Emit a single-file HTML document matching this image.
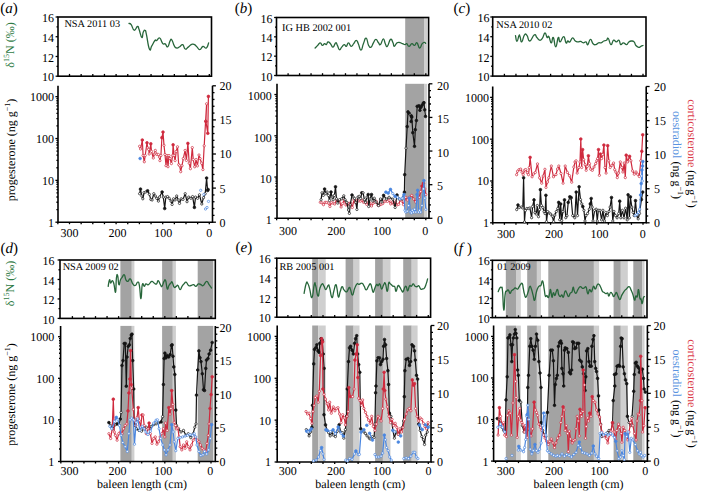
<!DOCTYPE html>
<html><head><meta charset="utf-8"><style>
html,body{margin:0;padding:0;background:#fff;width:701px;height:492px;overflow:hidden}
svg{display:block}
text{font-family:"Liberation Serif",serif;text-rendering:geometricPrecision}
</style></head><body>
<svg width="701" height="492" viewBox="0 0 701 492">
<rect x="405.2" y="17.5" width="19.3" height="58" fill="#a3a3a3"/>
<rect x="405.2" y="83.8" width="19.3" height="134.5" fill="#a3a3a3"/>
<rect x="424.5" y="17.5" width="2.7" height="58" fill="#cfcfcf"/>
<rect x="424.5" y="83.8" width="2.7" height="134.5" fill="#cfcfcf"/>
<rect x="120.4" y="260" width="11.4" height="58.4" fill="#a3a3a3"/>
<rect x="120.4" y="325.9" width="11.4" height="135.6" fill="#a3a3a3"/>
<rect x="131.8" y="260" width="2.6" height="58.4" fill="#cfcfcf"/>
<rect x="131.8" y="325.9" width="2.6" height="135.6" fill="#cfcfcf"/>
<rect x="162.1" y="260" width="10.7" height="58.4" fill="#a3a3a3"/>
<rect x="162.1" y="325.9" width="10.7" height="135.6" fill="#a3a3a3"/>
<rect x="172.8" y="260" width="3.1" height="58.4" fill="#cfcfcf"/>
<rect x="172.8" y="325.9" width="3.1" height="135.6" fill="#cfcfcf"/>
<rect x="197.7" y="260" width="15.6" height="58.4" fill="#a3a3a3"/>
<rect x="197.7" y="325.9" width="15.6" height="135.6" fill="#a3a3a3"/>
<rect x="312.2" y="258.2" width="6" height="59" fill="#a3a3a3"/>
<rect x="312.2" y="325.5" width="6" height="136.5" fill="#a3a3a3"/>
<rect x="318.2" y="258.2" width="7.5" height="59" fill="#cfcfcf"/>
<rect x="318.2" y="325.5" width="7.5" height="136.5" fill="#cfcfcf"/>
<rect x="345.6" y="258.2" width="8" height="59" fill="#a3a3a3"/>
<rect x="345.6" y="325.5" width="8" height="136.5" fill="#a3a3a3"/>
<rect x="353.6" y="258.2" width="5.9" height="59" fill="#cfcfcf"/>
<rect x="353.6" y="325.5" width="5.9" height="136.5" fill="#cfcfcf"/>
<rect x="375.1" y="258.2" width="7.8" height="59" fill="#a3a3a3"/>
<rect x="375.1" y="325.5" width="7.8" height="136.5" fill="#a3a3a3"/>
<rect x="382.9" y="258.2" width="7.6" height="59" fill="#cfcfcf"/>
<rect x="382.9" y="325.5" width="7.6" height="136.5" fill="#cfcfcf"/>
<rect x="403.2" y="258.2" width="8.5" height="59" fill="#a3a3a3"/>
<rect x="403.2" y="325.5" width="8.5" height="136.5" fill="#a3a3a3"/>
<rect x="411.7" y="258.2" width="5.9" height="59" fill="#cfcfcf"/>
<rect x="411.7" y="325.5" width="5.9" height="136.5" fill="#cfcfcf"/>
<rect x="505.8" y="260.3" width="10.2" height="57.3" fill="#a3a3a3"/>
<rect x="505.8" y="325.6" width="10.2" height="135.5" fill="#a3a3a3"/>
<rect x="516" y="260.3" width="4.8" height="57.3" fill="#cfcfcf"/>
<rect x="516" y="325.6" width="4.8" height="135.5" fill="#cfcfcf"/>
<rect x="527.2" y="260.3" width="9.7" height="57.3" fill="#a3a3a3"/>
<rect x="527.2" y="325.6" width="9.7" height="135.5" fill="#a3a3a3"/>
<rect x="536.9" y="260.3" width="4.1" height="57.3" fill="#cfcfcf"/>
<rect x="536.9" y="325.6" width="4.1" height="135.5" fill="#cfcfcf"/>
<rect x="548.3" y="260.3" width="45.6" height="57.3" fill="#a3a3a3"/>
<rect x="548.3" y="325.6" width="45.6" height="135.5" fill="#a3a3a3"/>
<rect x="593.9" y="260.3" width="5.2" height="57.3" fill="#cfcfcf"/>
<rect x="593.9" y="325.6" width="5.2" height="135.5" fill="#cfcfcf"/>
<rect x="613.6" y="260.3" width="7.2" height="57.3" fill="#a3a3a3"/>
<rect x="613.6" y="325.6" width="7.2" height="135.5" fill="#a3a3a3"/>
<rect x="620.8" y="260.3" width="7" height="57.3" fill="#cfcfcf"/>
<rect x="620.8" y="325.6" width="7" height="135.5" fill="#cfcfcf"/>
<rect x="633.3" y="260.3" width="8.9" height="57.3" fill="#a3a3a3"/>
<rect x="633.3" y="325.6" width="8.9" height="135.5" fill="#a3a3a3"/>
<rect x="642.2" y="260.3" width="2.3" height="57.3" fill="#cfcfcf"/>
<rect x="642.2" y="325.6" width="2.3" height="135.5" fill="#cfcfcf"/>
<rect x="58" y="17" width="153.5" height="59.2" fill="none" stroke="#000" stroke-width="1.6"/>
<line x1="55.6" y1="76.2" x2="58" y2="76.2" stroke="#000" stroke-width="1.3"/>
<text x="54.1" y="81.3" text-anchor="end" font-size="12" fill="#000" >10</text>
<line x1="56.5" y1="66.33" x2="58" y2="66.33" stroke="#000" stroke-width="1.3"/>
<line x1="55.6" y1="56.47" x2="58" y2="56.47" stroke="#000" stroke-width="1.3"/>
<text x="54.1" y="61.57" text-anchor="end" font-size="12" fill="#000" >12</text>
<line x1="56.5" y1="46.6" x2="58" y2="46.6" stroke="#000" stroke-width="1.3"/>
<line x1="55.6" y1="36.73" x2="58" y2="36.73" stroke="#000" stroke-width="1.3"/>
<text x="54.1" y="41.83" text-anchor="end" font-size="12" fill="#000" >14</text>
<line x1="56.5" y1="26.87" x2="58" y2="26.87" stroke="#000" stroke-width="1.3"/>
<line x1="55.6" y1="17" x2="58" y2="17" stroke="#000" stroke-width="1.3"/>
<text x="54.1" y="22.1" text-anchor="end" font-size="12" fill="#000" >16</text>
<line x1="69.5" y1="76.2" x2="69.5" y2="73.9" stroke="#000" stroke-width="1.3"/>
<line x1="81.15" y1="76.2" x2="81.15" y2="73.9" stroke="#000" stroke-width="1.3"/>
<line x1="92.8" y1="76.2" x2="92.8" y2="73.9" stroke="#000" stroke-width="1.3"/>
<line x1="104.45" y1="76.2" x2="104.45" y2="73.9" stroke="#000" stroke-width="1.3"/>
<line x1="116.1" y1="76.2" x2="116.1" y2="73.9" stroke="#000" stroke-width="1.3"/>
<line x1="127.75" y1="76.2" x2="127.75" y2="73.9" stroke="#000" stroke-width="1.3"/>
<line x1="139.4" y1="76.2" x2="139.4" y2="73.9" stroke="#000" stroke-width="1.3"/>
<line x1="151.05" y1="76.2" x2="151.05" y2="73.9" stroke="#000" stroke-width="1.3"/>
<line x1="162.7" y1="76.2" x2="162.7" y2="73.9" stroke="#000" stroke-width="1.3"/>
<line x1="174.35" y1="76.2" x2="174.35" y2="73.9" stroke="#000" stroke-width="1.3"/>
<line x1="186" y1="76.2" x2="186" y2="73.9" stroke="#000" stroke-width="1.3"/>
<line x1="197.65" y1="76.2" x2="197.65" y2="73.9" stroke="#000" stroke-width="1.3"/>
<line x1="209.3" y1="76.2" x2="209.3" y2="73.9" stroke="#000" stroke-width="1.3"/>
<text x="64.4" y="27.3" text-anchor="start" font-size="10.3" fill="#000" >NSA 2011 03</text>
<path d="M58 85.8V222.2H212.5V85.8" fill="none" stroke="#000" stroke-width="1.6"/>
<line x1="55.4" y1="222.2" x2="58" y2="222.2" stroke="#000" stroke-width="1.3"/>
<line x1="56.4" y1="209.6" x2="58" y2="209.6" stroke="#000" stroke-width="1.3"/>
<line x1="56.4" y1="202.24" x2="58" y2="202.24" stroke="#000" stroke-width="1.3"/>
<line x1="56.4" y1="197.01" x2="58" y2="197.01" stroke="#000" stroke-width="1.3"/>
<line x1="56.4" y1="192.95" x2="58" y2="192.95" stroke="#000" stroke-width="1.3"/>
<line x1="56.4" y1="189.64" x2="58" y2="189.64" stroke="#000" stroke-width="1.3"/>
<line x1="56.4" y1="186.84" x2="58" y2="186.84" stroke="#000" stroke-width="1.3"/>
<line x1="56.4" y1="184.41" x2="58" y2="184.41" stroke="#000" stroke-width="1.3"/>
<line x1="56.4" y1="182.27" x2="58" y2="182.27" stroke="#000" stroke-width="1.3"/>
<text x="54" y="226.6" text-anchor="end" font-size="12" fill="#000" >1</text>
<line x1="55.4" y1="180.36" x2="58" y2="180.36" stroke="#000" stroke-width="1.3"/>
<line x1="56.4" y1="167.76" x2="58" y2="167.76" stroke="#000" stroke-width="1.3"/>
<line x1="56.4" y1="160.4" x2="58" y2="160.4" stroke="#000" stroke-width="1.3"/>
<line x1="56.4" y1="155.17" x2="58" y2="155.17" stroke="#000" stroke-width="1.3"/>
<line x1="56.4" y1="151.11" x2="58" y2="151.11" stroke="#000" stroke-width="1.3"/>
<line x1="56.4" y1="147.8" x2="58" y2="147.8" stroke="#000" stroke-width="1.3"/>
<line x1="56.4" y1="145" x2="58" y2="145" stroke="#000" stroke-width="1.3"/>
<line x1="56.4" y1="142.57" x2="58" y2="142.57" stroke="#000" stroke-width="1.3"/>
<line x1="56.4" y1="140.43" x2="58" y2="140.43" stroke="#000" stroke-width="1.3"/>
<text x="54" y="184.76" text-anchor="end" font-size="12" fill="#000" >10</text>
<line x1="55.4" y1="138.52" x2="58" y2="138.52" stroke="#000" stroke-width="1.3"/>
<line x1="56.4" y1="125.92" x2="58" y2="125.92" stroke="#000" stroke-width="1.3"/>
<line x1="56.4" y1="118.56" x2="58" y2="118.56" stroke="#000" stroke-width="1.3"/>
<line x1="56.4" y1="113.33" x2="58" y2="113.33" stroke="#000" stroke-width="1.3"/>
<line x1="56.4" y1="109.27" x2="58" y2="109.27" stroke="#000" stroke-width="1.3"/>
<line x1="56.4" y1="105.96" x2="58" y2="105.96" stroke="#000" stroke-width="1.3"/>
<line x1="56.4" y1="103.16" x2="58" y2="103.16" stroke="#000" stroke-width="1.3"/>
<line x1="56.4" y1="100.73" x2="58" y2="100.73" stroke="#000" stroke-width="1.3"/>
<line x1="56.4" y1="98.59" x2="58" y2="98.59" stroke="#000" stroke-width="1.3"/>
<text x="54" y="142.92" text-anchor="end" font-size="12" fill="#000" >100</text>
<line x1="55.4" y1="96.68" x2="58" y2="96.68" stroke="#000" stroke-width="1.3"/>
<text x="54" y="101.08" text-anchor="end" font-size="12" fill="#000" >1000</text>
<line x1="212.5" y1="222.2" x2="215.9" y2="222.2" stroke="#000" stroke-width="1.3"/>
<text x="219.6" y="226.6" text-anchor="start" font-size="12" fill="#000" >0</text>
<line x1="212.5" y1="215.38" x2="214.5" y2="215.38" stroke="#000" stroke-width="1.3"/>
<line x1="212.5" y1="208.56" x2="214.5" y2="208.56" stroke="#000" stroke-width="1.3"/>
<line x1="212.5" y1="201.74" x2="214.5" y2="201.74" stroke="#000" stroke-width="1.3"/>
<line x1="212.5" y1="194.92" x2="214.5" y2="194.92" stroke="#000" stroke-width="1.3"/>
<line x1="212.5" y1="188.1" x2="215.9" y2="188.1" stroke="#000" stroke-width="1.3"/>
<text x="219.6" y="192.5" text-anchor="start" font-size="12" fill="#000" >5</text>
<line x1="212.5" y1="181.28" x2="214.5" y2="181.28" stroke="#000" stroke-width="1.3"/>
<line x1="212.5" y1="174.46" x2="214.5" y2="174.46" stroke="#000" stroke-width="1.3"/>
<line x1="212.5" y1="167.64" x2="214.5" y2="167.64" stroke="#000" stroke-width="1.3"/>
<line x1="212.5" y1="160.82" x2="214.5" y2="160.82" stroke="#000" stroke-width="1.3"/>
<line x1="212.5" y1="154" x2="215.9" y2="154" stroke="#000" stroke-width="1.3"/>
<text x="219.6" y="158.4" text-anchor="start" font-size="12" fill="#000" >10</text>
<line x1="212.5" y1="147.18" x2="214.5" y2="147.18" stroke="#000" stroke-width="1.3"/>
<line x1="212.5" y1="140.36" x2="214.5" y2="140.36" stroke="#000" stroke-width="1.3"/>
<line x1="212.5" y1="133.54" x2="214.5" y2="133.54" stroke="#000" stroke-width="1.3"/>
<line x1="212.5" y1="126.72" x2="214.5" y2="126.72" stroke="#000" stroke-width="1.3"/>
<line x1="212.5" y1="119.9" x2="215.9" y2="119.9" stroke="#000" stroke-width="1.3"/>
<text x="219.6" y="124.3" text-anchor="start" font-size="12" fill="#000" >15</text>
<line x1="212.5" y1="113.08" x2="214.5" y2="113.08" stroke="#000" stroke-width="1.3"/>
<line x1="212.5" y1="106.26" x2="214.5" y2="106.26" stroke="#000" stroke-width="1.3"/>
<line x1="212.5" y1="99.44" x2="214.5" y2="99.44" stroke="#000" stroke-width="1.3"/>
<line x1="212.5" y1="92.62" x2="214.5" y2="92.62" stroke="#000" stroke-width="1.3"/>
<line x1="212.5" y1="85.8" x2="215.9" y2="85.8" stroke="#000" stroke-width="1.3"/>
<text x="219.6" y="90.2" text-anchor="start" font-size="12" fill="#000" >20</text>
<line x1="57.85" y1="222.2" x2="57.85" y2="224.2" stroke="#000" stroke-width="1.3"/>
<line x1="69.5" y1="222.2" x2="69.5" y2="224.2" stroke="#000" stroke-width="1.3"/>
<text x="69.6" y="237.3" text-anchor="middle" font-size="12" fill="#000" >300</text>
<line x1="81.15" y1="222.2" x2="81.15" y2="224.2" stroke="#000" stroke-width="1.3"/>
<line x1="92.8" y1="222.2" x2="92.8" y2="224.2" stroke="#000" stroke-width="1.3"/>
<line x1="104.45" y1="222.2" x2="104.45" y2="224.2" stroke="#000" stroke-width="1.3"/>
<line x1="116.1" y1="222.2" x2="116.1" y2="224.2" stroke="#000" stroke-width="1.3"/>
<text x="117.6" y="237.3" text-anchor="middle" font-size="12" fill="#000" >200</text>
<line x1="127.75" y1="222.2" x2="127.75" y2="224.2" stroke="#000" stroke-width="1.3"/>
<line x1="139.4" y1="222.2" x2="139.4" y2="224.2" stroke="#000" stroke-width="1.3"/>
<line x1="151.05" y1="222.2" x2="151.05" y2="224.2" stroke="#000" stroke-width="1.3"/>
<line x1="162.7" y1="222.2" x2="162.7" y2="224.2" stroke="#000" stroke-width="1.3"/>
<text x="163.2" y="237.3" text-anchor="middle" font-size="12" fill="#000" >100</text>
<line x1="174.35" y1="222.2" x2="174.35" y2="224.2" stroke="#000" stroke-width="1.3"/>
<line x1="186" y1="222.2" x2="186" y2="224.2" stroke="#000" stroke-width="1.3"/>
<line x1="197.65" y1="222.2" x2="197.65" y2="224.2" stroke="#000" stroke-width="1.3"/>
<line x1="209.3" y1="222.2" x2="209.3" y2="224.2" stroke="#000" stroke-width="1.3"/>
<text x="209.3" y="237.3" text-anchor="middle" font-size="12" fill="#000" >0</text>
<text x="0.3" y="12.8" text-anchor="start" font-size="15" fill="#000" >(<tspan font-style="italic">a</tspan>)</text>
<rect x="276.5" y="17.5" width="152.1" height="58" fill="none" stroke="#000" stroke-width="1.6"/>
<line x1="274.1" y1="75.5" x2="276.5" y2="75.5" stroke="#000" stroke-width="1.3"/>
<text x="272.6" y="80.6" text-anchor="end" font-size="12" fill="#000" >10</text>
<line x1="275" y1="65.83" x2="276.5" y2="65.83" stroke="#000" stroke-width="1.3"/>
<line x1="274.1" y1="56.17" x2="276.5" y2="56.17" stroke="#000" stroke-width="1.3"/>
<text x="272.6" y="61.27" text-anchor="end" font-size="12" fill="#000" >12</text>
<line x1="275" y1="46.5" x2="276.5" y2="46.5" stroke="#000" stroke-width="1.3"/>
<line x1="274.1" y1="36.83" x2="276.5" y2="36.83" stroke="#000" stroke-width="1.3"/>
<text x="272.6" y="41.93" text-anchor="end" font-size="12" fill="#000" >14</text>
<line x1="275" y1="27.17" x2="276.5" y2="27.17" stroke="#000" stroke-width="1.3"/>
<line x1="274.1" y1="17.5" x2="276.5" y2="17.5" stroke="#000" stroke-width="1.3"/>
<text x="272.6" y="22.6" text-anchor="end" font-size="12" fill="#000" >16</text>
<line x1="288.1" y1="75.5" x2="288.1" y2="73.2" stroke="#000" stroke-width="1.3"/>
<line x1="299.57" y1="75.5" x2="299.57" y2="73.2" stroke="#000" stroke-width="1.3"/>
<line x1="311.05" y1="75.5" x2="311.05" y2="73.2" stroke="#000" stroke-width="1.3"/>
<line x1="322.52" y1="75.5" x2="322.52" y2="73.2" stroke="#000" stroke-width="1.3"/>
<line x1="334" y1="75.5" x2="334" y2="73.2" stroke="#000" stroke-width="1.3"/>
<line x1="345.48" y1="75.5" x2="345.48" y2="73.2" stroke="#000" stroke-width="1.3"/>
<line x1="356.95" y1="75.5" x2="356.95" y2="73.2" stroke="#000" stroke-width="1.3"/>
<line x1="368.43" y1="75.5" x2="368.43" y2="73.2" stroke="#000" stroke-width="1.3"/>
<line x1="379.9" y1="75.5" x2="379.9" y2="73.2" stroke="#000" stroke-width="1.3"/>
<line x1="391.38" y1="75.5" x2="391.38" y2="73.2" stroke="#000" stroke-width="1.3"/>
<line x1="402.85" y1="75.5" x2="402.85" y2="73.2" stroke="#000" stroke-width="1.3"/>
<line x1="414.32" y1="75.5" x2="414.32" y2="73.2" stroke="#000" stroke-width="1.3"/>
<line x1="425.8" y1="75.5" x2="425.8" y2="73.2" stroke="#000" stroke-width="1.3"/>
<text x="282.1" y="31" text-anchor="start" font-size="10.3" fill="#000" >IG HB 2002 001</text>
<path d="M277 83.8V218.3H429V83.8" fill="none" stroke="#000" stroke-width="1.6"/>
<line x1="274.4" y1="218.3" x2="277" y2="218.3" stroke="#000" stroke-width="1.3"/>
<line x1="275.4" y1="205.88" x2="277" y2="205.88" stroke="#000" stroke-width="1.3"/>
<line x1="275.4" y1="198.62" x2="277" y2="198.62" stroke="#000" stroke-width="1.3"/>
<line x1="275.4" y1="193.46" x2="277" y2="193.46" stroke="#000" stroke-width="1.3"/>
<line x1="275.4" y1="189.46" x2="277" y2="189.46" stroke="#000" stroke-width="1.3"/>
<line x1="275.4" y1="186.2" x2="277" y2="186.2" stroke="#000" stroke-width="1.3"/>
<line x1="275.4" y1="183.43" x2="277" y2="183.43" stroke="#000" stroke-width="1.3"/>
<line x1="275.4" y1="181.04" x2="277" y2="181.04" stroke="#000" stroke-width="1.3"/>
<line x1="275.4" y1="178.93" x2="277" y2="178.93" stroke="#000" stroke-width="1.3"/>
<text x="271.8" y="224.1" text-anchor="end" font-size="12" fill="#000" >1</text>
<line x1="274.4" y1="177.04" x2="277" y2="177.04" stroke="#000" stroke-width="1.3"/>
<line x1="275.4" y1="164.62" x2="277" y2="164.62" stroke="#000" stroke-width="1.3"/>
<line x1="275.4" y1="157.36" x2="277" y2="157.36" stroke="#000" stroke-width="1.3"/>
<line x1="275.4" y1="152.2" x2="277" y2="152.2" stroke="#000" stroke-width="1.3"/>
<line x1="275.4" y1="148.2" x2="277" y2="148.2" stroke="#000" stroke-width="1.3"/>
<line x1="275.4" y1="144.94" x2="277" y2="144.94" stroke="#000" stroke-width="1.3"/>
<line x1="275.4" y1="142.18" x2="277" y2="142.18" stroke="#000" stroke-width="1.3"/>
<line x1="275.4" y1="139.78" x2="277" y2="139.78" stroke="#000" stroke-width="1.3"/>
<line x1="275.4" y1="137.67" x2="277" y2="137.67" stroke="#000" stroke-width="1.3"/>
<text x="271.8" y="182.84" text-anchor="end" font-size="12" fill="#000" >10</text>
<line x1="274.4" y1="135.78" x2="277" y2="135.78" stroke="#000" stroke-width="1.3"/>
<line x1="275.4" y1="123.36" x2="277" y2="123.36" stroke="#000" stroke-width="1.3"/>
<line x1="275.4" y1="116.1" x2="277" y2="116.1" stroke="#000" stroke-width="1.3"/>
<line x1="275.4" y1="110.95" x2="277" y2="110.95" stroke="#000" stroke-width="1.3"/>
<line x1="275.4" y1="106.95" x2="277" y2="106.95" stroke="#000" stroke-width="1.3"/>
<line x1="275.4" y1="103.68" x2="277" y2="103.68" stroke="#000" stroke-width="1.3"/>
<line x1="275.4" y1="100.92" x2="277" y2="100.92" stroke="#000" stroke-width="1.3"/>
<line x1="275.4" y1="98.53" x2="277" y2="98.53" stroke="#000" stroke-width="1.3"/>
<line x1="275.4" y1="96.41" x2="277" y2="96.41" stroke="#000" stroke-width="1.3"/>
<text x="271.8" y="141.58" text-anchor="end" font-size="12" fill="#000" >100</text>
<line x1="274.4" y1="94.53" x2="277" y2="94.53" stroke="#000" stroke-width="1.3"/>
<text x="271.8" y="100.33" text-anchor="end" font-size="12" fill="#000" >1000</text>
<line x1="429" y1="218.3" x2="432.4" y2="218.3" stroke="#000" stroke-width="1.3"/>
<text x="437" y="224.1" text-anchor="start" font-size="12" fill="#000" >0</text>
<line x1="429" y1="211.58" x2="431" y2="211.58" stroke="#000" stroke-width="1.3"/>
<line x1="429" y1="204.85" x2="431" y2="204.85" stroke="#000" stroke-width="1.3"/>
<line x1="429" y1="198.12" x2="431" y2="198.12" stroke="#000" stroke-width="1.3"/>
<line x1="429" y1="191.4" x2="431" y2="191.4" stroke="#000" stroke-width="1.3"/>
<line x1="429" y1="184.68" x2="432.4" y2="184.68" stroke="#000" stroke-width="1.3"/>
<text x="437" y="190.48" text-anchor="start" font-size="12" fill="#000" >5</text>
<line x1="429" y1="177.95" x2="431" y2="177.95" stroke="#000" stroke-width="1.3"/>
<line x1="429" y1="171.23" x2="431" y2="171.23" stroke="#000" stroke-width="1.3"/>
<line x1="429" y1="164.5" x2="431" y2="164.5" stroke="#000" stroke-width="1.3"/>
<line x1="429" y1="157.78" x2="431" y2="157.78" stroke="#000" stroke-width="1.3"/>
<line x1="429" y1="151.05" x2="432.4" y2="151.05" stroke="#000" stroke-width="1.3"/>
<text x="437" y="156.85" text-anchor="start" font-size="12" fill="#000" >10</text>
<line x1="429" y1="144.33" x2="431" y2="144.33" stroke="#000" stroke-width="1.3"/>
<line x1="429" y1="137.6" x2="431" y2="137.6" stroke="#000" stroke-width="1.3"/>
<line x1="429" y1="130.88" x2="431" y2="130.88" stroke="#000" stroke-width="1.3"/>
<line x1="429" y1="124.15" x2="431" y2="124.15" stroke="#000" stroke-width="1.3"/>
<line x1="429" y1="117.43" x2="432.4" y2="117.43" stroke="#000" stroke-width="1.3"/>
<text x="437" y="123.23" text-anchor="start" font-size="12" fill="#000" >15</text>
<line x1="429" y1="110.7" x2="431" y2="110.7" stroke="#000" stroke-width="1.3"/>
<line x1="429" y1="103.98" x2="431" y2="103.98" stroke="#000" stroke-width="1.3"/>
<line x1="429" y1="97.25" x2="431" y2="97.25" stroke="#000" stroke-width="1.3"/>
<line x1="429" y1="90.53" x2="431" y2="90.53" stroke="#000" stroke-width="1.3"/>
<line x1="429" y1="83.8" x2="432.4" y2="83.8" stroke="#000" stroke-width="1.3"/>
<text x="437" y="89.6" text-anchor="start" font-size="12" fill="#000" >20</text>
<line x1="276.62" y1="218.3" x2="276.62" y2="220.3" stroke="#000" stroke-width="1.3"/>
<line x1="288.1" y1="218.3" x2="288.1" y2="220.3" stroke="#000" stroke-width="1.3"/>
<text x="288" y="234.7" text-anchor="middle" font-size="12" fill="#000" >300</text>
<line x1="299.57" y1="218.3" x2="299.57" y2="220.3" stroke="#000" stroke-width="1.3"/>
<line x1="311.05" y1="218.3" x2="311.05" y2="220.3" stroke="#000" stroke-width="1.3"/>
<line x1="322.52" y1="218.3" x2="322.52" y2="220.3" stroke="#000" stroke-width="1.3"/>
<line x1="334" y1="218.3" x2="334" y2="220.3" stroke="#000" stroke-width="1.3"/>
<text x="336.2" y="234.7" text-anchor="middle" font-size="12" fill="#000" >200</text>
<line x1="345.48" y1="218.3" x2="345.48" y2="220.3" stroke="#000" stroke-width="1.3"/>
<line x1="356.95" y1="218.3" x2="356.95" y2="220.3" stroke="#000" stroke-width="1.3"/>
<line x1="368.43" y1="218.3" x2="368.43" y2="220.3" stroke="#000" stroke-width="1.3"/>
<line x1="379.9" y1="218.3" x2="379.9" y2="220.3" stroke="#000" stroke-width="1.3"/>
<text x="382" y="234.7" text-anchor="middle" font-size="12" fill="#000" >100</text>
<line x1="391.38" y1="218.3" x2="391.38" y2="220.3" stroke="#000" stroke-width="1.3"/>
<line x1="402.85" y1="218.3" x2="402.85" y2="220.3" stroke="#000" stroke-width="1.3"/>
<line x1="414.32" y1="218.3" x2="414.32" y2="220.3" stroke="#000" stroke-width="1.3"/>
<line x1="425.8" y1="218.3" x2="425.8" y2="220.3" stroke="#000" stroke-width="1.3"/>
<text x="425.3" y="234.7" text-anchor="middle" font-size="12" fill="#000" >0</text>
<text x="234.8" y="13.3" text-anchor="start" font-size="15" fill="#000" >(<tspan font-style="italic">b</tspan>)</text>
<rect x="492.7" y="17" width="153.3" height="59.1" fill="none" stroke="#000" stroke-width="1.6"/>
<line x1="490.3" y1="76.1" x2="492.7" y2="76.1" stroke="#000" stroke-width="1.3"/>
<text x="489.4" y="81.2" text-anchor="end" font-size="12" fill="#000" >10</text>
<line x1="491.2" y1="66.25" x2="492.7" y2="66.25" stroke="#000" stroke-width="1.3"/>
<line x1="490.3" y1="56.4" x2="492.7" y2="56.4" stroke="#000" stroke-width="1.3"/>
<text x="489.4" y="61.5" text-anchor="end" font-size="12" fill="#000" >12</text>
<line x1="491.2" y1="46.55" x2="492.7" y2="46.55" stroke="#000" stroke-width="1.3"/>
<line x1="490.3" y1="36.7" x2="492.7" y2="36.7" stroke="#000" stroke-width="1.3"/>
<text x="489.4" y="41.8" text-anchor="end" font-size="12" fill="#000" >14</text>
<line x1="491.2" y1="26.85" x2="492.7" y2="26.85" stroke="#000" stroke-width="1.3"/>
<line x1="490.3" y1="17" x2="492.7" y2="17" stroke="#000" stroke-width="1.3"/>
<text x="489.4" y="22.1" text-anchor="end" font-size="12" fill="#000" >16</text>
<line x1="504.4" y1="76.1" x2="504.4" y2="73.8" stroke="#000" stroke-width="1.3"/>
<line x1="515.95" y1="76.1" x2="515.95" y2="73.8" stroke="#000" stroke-width="1.3"/>
<line x1="527.5" y1="76.1" x2="527.5" y2="73.8" stroke="#000" stroke-width="1.3"/>
<line x1="539.05" y1="76.1" x2="539.05" y2="73.8" stroke="#000" stroke-width="1.3"/>
<line x1="550.6" y1="76.1" x2="550.6" y2="73.8" stroke="#000" stroke-width="1.3"/>
<line x1="562.15" y1="76.1" x2="562.15" y2="73.8" stroke="#000" stroke-width="1.3"/>
<line x1="573.7" y1="76.1" x2="573.7" y2="73.8" stroke="#000" stroke-width="1.3"/>
<line x1="585.25" y1="76.1" x2="585.25" y2="73.8" stroke="#000" stroke-width="1.3"/>
<line x1="596.8" y1="76.1" x2="596.8" y2="73.8" stroke="#000" stroke-width="1.3"/>
<line x1="608.35" y1="76.1" x2="608.35" y2="73.8" stroke="#000" stroke-width="1.3"/>
<line x1="619.9" y1="76.1" x2="619.9" y2="73.8" stroke="#000" stroke-width="1.3"/>
<line x1="631.45" y1="76.1" x2="631.45" y2="73.8" stroke="#000" stroke-width="1.3"/>
<line x1="643" y1="76.1" x2="643" y2="73.8" stroke="#000" stroke-width="1.3"/>
<text x="496.3" y="28.1" text-anchor="start" font-size="10.3" fill="#000" >NSA 2010 02</text>
<path d="M492.7 86.5V222.8H646.2V86.5" fill="none" stroke="#000" stroke-width="1.6"/>
<line x1="490.1" y1="222.8" x2="492.7" y2="222.8" stroke="#000" stroke-width="1.3"/>
<line x1="491.1" y1="210.21" x2="492.7" y2="210.21" stroke="#000" stroke-width="1.3"/>
<line x1="491.1" y1="202.85" x2="492.7" y2="202.85" stroke="#000" stroke-width="1.3"/>
<line x1="491.1" y1="197.63" x2="492.7" y2="197.63" stroke="#000" stroke-width="1.3"/>
<line x1="491.1" y1="193.58" x2="492.7" y2="193.58" stroke="#000" stroke-width="1.3"/>
<line x1="491.1" y1="190.27" x2="492.7" y2="190.27" stroke="#000" stroke-width="1.3"/>
<line x1="491.1" y1="187.47" x2="492.7" y2="187.47" stroke="#000" stroke-width="1.3"/>
<line x1="491.1" y1="185.04" x2="492.7" y2="185.04" stroke="#000" stroke-width="1.3"/>
<line x1="491.1" y1="182.9" x2="492.7" y2="182.9" stroke="#000" stroke-width="1.3"/>
<text x="489.1" y="227.2" text-anchor="end" font-size="12" fill="#000" >1</text>
<line x1="490.1" y1="180.99" x2="492.7" y2="180.99" stroke="#000" stroke-width="1.3"/>
<line x1="491.1" y1="168.4" x2="492.7" y2="168.4" stroke="#000" stroke-width="1.3"/>
<line x1="491.1" y1="161.04" x2="492.7" y2="161.04" stroke="#000" stroke-width="1.3"/>
<line x1="491.1" y1="155.82" x2="492.7" y2="155.82" stroke="#000" stroke-width="1.3"/>
<line x1="491.1" y1="151.77" x2="492.7" y2="151.77" stroke="#000" stroke-width="1.3"/>
<line x1="491.1" y1="148.46" x2="492.7" y2="148.46" stroke="#000" stroke-width="1.3"/>
<line x1="491.1" y1="145.66" x2="492.7" y2="145.66" stroke="#000" stroke-width="1.3"/>
<line x1="491.1" y1="143.23" x2="492.7" y2="143.23" stroke="#000" stroke-width="1.3"/>
<line x1="491.1" y1="141.09" x2="492.7" y2="141.09" stroke="#000" stroke-width="1.3"/>
<text x="489.1" y="185.39" text-anchor="end" font-size="12" fill="#000" >10</text>
<line x1="490.1" y1="139.18" x2="492.7" y2="139.18" stroke="#000" stroke-width="1.3"/>
<line x1="491.1" y1="126.59" x2="492.7" y2="126.59" stroke="#000" stroke-width="1.3"/>
<line x1="491.1" y1="119.23" x2="492.7" y2="119.23" stroke="#000" stroke-width="1.3"/>
<line x1="491.1" y1="114.01" x2="492.7" y2="114.01" stroke="#000" stroke-width="1.3"/>
<line x1="491.1" y1="109.96" x2="492.7" y2="109.96" stroke="#000" stroke-width="1.3"/>
<line x1="491.1" y1="106.65" x2="492.7" y2="106.65" stroke="#000" stroke-width="1.3"/>
<line x1="491.1" y1="103.85" x2="492.7" y2="103.85" stroke="#000" stroke-width="1.3"/>
<line x1="491.1" y1="101.42" x2="492.7" y2="101.42" stroke="#000" stroke-width="1.3"/>
<line x1="491.1" y1="99.28" x2="492.7" y2="99.28" stroke="#000" stroke-width="1.3"/>
<text x="489.1" y="143.58" text-anchor="end" font-size="12" fill="#000" >100</text>
<line x1="490.1" y1="97.37" x2="492.7" y2="97.37" stroke="#000" stroke-width="1.3"/>
<text x="489.1" y="101.77" text-anchor="end" font-size="12" fill="#000" >1000</text>
<line x1="646.2" y1="222.8" x2="649.6" y2="222.8" stroke="#000" stroke-width="1.3"/>
<text x="654" y="227.2" text-anchor="start" font-size="12" fill="#000" >0</text>
<line x1="646.2" y1="215.99" x2="648.2" y2="215.99" stroke="#000" stroke-width="1.3"/>
<line x1="646.2" y1="209.17" x2="648.2" y2="209.17" stroke="#000" stroke-width="1.3"/>
<line x1="646.2" y1="202.36" x2="648.2" y2="202.36" stroke="#000" stroke-width="1.3"/>
<line x1="646.2" y1="195.54" x2="648.2" y2="195.54" stroke="#000" stroke-width="1.3"/>
<line x1="646.2" y1="188.73" x2="649.6" y2="188.73" stroke="#000" stroke-width="1.3"/>
<text x="654" y="193.13" text-anchor="start" font-size="12" fill="#000" >5</text>
<line x1="646.2" y1="181.91" x2="648.2" y2="181.91" stroke="#000" stroke-width="1.3"/>
<line x1="646.2" y1="175.09" x2="648.2" y2="175.09" stroke="#000" stroke-width="1.3"/>
<line x1="646.2" y1="168.28" x2="648.2" y2="168.28" stroke="#000" stroke-width="1.3"/>
<line x1="646.2" y1="161.47" x2="648.2" y2="161.47" stroke="#000" stroke-width="1.3"/>
<line x1="646.2" y1="154.65" x2="649.6" y2="154.65" stroke="#000" stroke-width="1.3"/>
<text x="654" y="159.05" text-anchor="start" font-size="12" fill="#000" >10</text>
<line x1="646.2" y1="147.84" x2="648.2" y2="147.84" stroke="#000" stroke-width="1.3"/>
<line x1="646.2" y1="141.02" x2="648.2" y2="141.02" stroke="#000" stroke-width="1.3"/>
<line x1="646.2" y1="134.21" x2="648.2" y2="134.21" stroke="#000" stroke-width="1.3"/>
<line x1="646.2" y1="127.39" x2="648.2" y2="127.39" stroke="#000" stroke-width="1.3"/>
<line x1="646.2" y1="120.58" x2="649.6" y2="120.58" stroke="#000" stroke-width="1.3"/>
<text x="654" y="124.98" text-anchor="start" font-size="12" fill="#000" >15</text>
<line x1="646.2" y1="113.76" x2="648.2" y2="113.76" stroke="#000" stroke-width="1.3"/>
<line x1="646.2" y1="106.94" x2="648.2" y2="106.94" stroke="#000" stroke-width="1.3"/>
<line x1="646.2" y1="100.13" x2="648.2" y2="100.13" stroke="#000" stroke-width="1.3"/>
<line x1="646.2" y1="93.31" x2="648.2" y2="93.31" stroke="#000" stroke-width="1.3"/>
<line x1="646.2" y1="86.5" x2="649.6" y2="86.5" stroke="#000" stroke-width="1.3"/>
<text x="654" y="90.9" text-anchor="start" font-size="12" fill="#000" >20</text>
<line x1="492.85" y1="222.8" x2="492.85" y2="224.8" stroke="#000" stroke-width="1.3"/>
<line x1="504.4" y1="222.8" x2="504.4" y2="224.8" stroke="#000" stroke-width="1.3"/>
<text x="506" y="237.7" text-anchor="middle" font-size="12" fill="#000" >300</text>
<line x1="515.95" y1="222.8" x2="515.95" y2="224.8" stroke="#000" stroke-width="1.3"/>
<line x1="527.5" y1="222.8" x2="527.5" y2="224.8" stroke="#000" stroke-width="1.3"/>
<line x1="539.05" y1="222.8" x2="539.05" y2="224.8" stroke="#000" stroke-width="1.3"/>
<line x1="550.6" y1="222.8" x2="550.6" y2="224.8" stroke="#000" stroke-width="1.3"/>
<text x="554" y="237.7" text-anchor="middle" font-size="12" fill="#000" >200</text>
<line x1="562.15" y1="222.8" x2="562.15" y2="224.8" stroke="#000" stroke-width="1.3"/>
<line x1="573.7" y1="222.8" x2="573.7" y2="224.8" stroke="#000" stroke-width="1.3"/>
<line x1="585.25" y1="222.8" x2="585.25" y2="224.8" stroke="#000" stroke-width="1.3"/>
<line x1="596.8" y1="222.8" x2="596.8" y2="224.8" stroke="#000" stroke-width="1.3"/>
<text x="599.5" y="237.7" text-anchor="middle" font-size="12" fill="#000" >100</text>
<line x1="608.35" y1="222.8" x2="608.35" y2="224.8" stroke="#000" stroke-width="1.3"/>
<line x1="619.9" y1="222.8" x2="619.9" y2="224.8" stroke="#000" stroke-width="1.3"/>
<line x1="631.45" y1="222.8" x2="631.45" y2="224.8" stroke="#000" stroke-width="1.3"/>
<line x1="643" y1="222.8" x2="643" y2="224.8" stroke="#000" stroke-width="1.3"/>
<text x="642.8" y="237.7" text-anchor="middle" font-size="12" fill="#000" >0</text>
<text x="453.6" y="12.6" text-anchor="start" font-size="15" fill="#000" >(<tspan font-style="italic">c</tspan>)</text>
<rect x="60" y="260" width="155.3" height="58.4" fill="none" stroke="#000" stroke-width="1.6"/>
<line x1="57.6" y1="318.4" x2="60" y2="318.4" stroke="#000" stroke-width="1.3"/>
<text x="54.6" y="323.5" text-anchor="end" font-size="12" fill="#000" >10</text>
<line x1="58.5" y1="308.67" x2="60" y2="308.67" stroke="#000" stroke-width="1.3"/>
<line x1="57.6" y1="298.93" x2="60" y2="298.93" stroke="#000" stroke-width="1.3"/>
<text x="54.6" y="304.03" text-anchor="end" font-size="12" fill="#000" >12</text>
<line x1="58.5" y1="289.2" x2="60" y2="289.2" stroke="#000" stroke-width="1.3"/>
<line x1="57.6" y1="279.47" x2="60" y2="279.47" stroke="#000" stroke-width="1.3"/>
<text x="54.6" y="284.57" text-anchor="end" font-size="12" fill="#000" >14</text>
<line x1="58.5" y1="269.73" x2="60" y2="269.73" stroke="#000" stroke-width="1.3"/>
<line x1="57.6" y1="260" x2="60" y2="260" stroke="#000" stroke-width="1.3"/>
<text x="54.6" y="265.1" text-anchor="end" font-size="12" fill="#000" >16</text>
<line x1="72.4" y1="318.4" x2="72.4" y2="316.1" stroke="#000" stroke-width="1.3"/>
<line x1="83.95" y1="318.4" x2="83.95" y2="316.1" stroke="#000" stroke-width="1.3"/>
<line x1="95.5" y1="318.4" x2="95.5" y2="316.1" stroke="#000" stroke-width="1.3"/>
<line x1="107.05" y1="318.4" x2="107.05" y2="316.1" stroke="#000" stroke-width="1.3"/>
<line x1="118.6" y1="318.4" x2="118.6" y2="316.1" stroke="#000" stroke-width="1.3"/>
<line x1="130.15" y1="318.4" x2="130.15" y2="316.1" stroke="#000" stroke-width="1.3"/>
<line x1="141.7" y1="318.4" x2="141.7" y2="316.1" stroke="#000" stroke-width="1.3"/>
<line x1="153.25" y1="318.4" x2="153.25" y2="316.1" stroke="#000" stroke-width="1.3"/>
<line x1="164.8" y1="318.4" x2="164.8" y2="316.1" stroke="#000" stroke-width="1.3"/>
<line x1="176.35" y1="318.4" x2="176.35" y2="316.1" stroke="#000" stroke-width="1.3"/>
<line x1="187.9" y1="318.4" x2="187.9" y2="316.1" stroke="#000" stroke-width="1.3"/>
<line x1="199.45" y1="318.4" x2="199.45" y2="316.1" stroke="#000" stroke-width="1.3"/>
<line x1="211" y1="318.4" x2="211" y2="316.1" stroke="#000" stroke-width="1.3"/>
<text x="62.7" y="269.8" text-anchor="start" font-size="10.3" fill="#000" >NSA 2009 02</text>
<path d="M60.6 325.9V461.5H215.3V325.9" fill="none" stroke="#000" stroke-width="1.6"/>
<line x1="58" y1="461.5" x2="60.6" y2="461.5" stroke="#000" stroke-width="1.3"/>
<line x1="59" y1="448.98" x2="60.6" y2="448.98" stroke="#000" stroke-width="1.3"/>
<line x1="59" y1="441.65" x2="60.6" y2="441.65" stroke="#000" stroke-width="1.3"/>
<line x1="59" y1="436.46" x2="60.6" y2="436.46" stroke="#000" stroke-width="1.3"/>
<line x1="59" y1="432.43" x2="60.6" y2="432.43" stroke="#000" stroke-width="1.3"/>
<line x1="59" y1="429.13" x2="60.6" y2="429.13" stroke="#000" stroke-width="1.3"/>
<line x1="59" y1="426.35" x2="60.6" y2="426.35" stroke="#000" stroke-width="1.3"/>
<line x1="59" y1="423.94" x2="60.6" y2="423.94" stroke="#000" stroke-width="1.3"/>
<line x1="59" y1="421.81" x2="60.6" y2="421.81" stroke="#000" stroke-width="1.3"/>
<text x="54.2" y="465.9" text-anchor="end" font-size="12" fill="#000" >1</text>
<line x1="58" y1="419.9" x2="60.6" y2="419.9" stroke="#000" stroke-width="1.3"/>
<line x1="59" y1="407.38" x2="60.6" y2="407.38" stroke="#000" stroke-width="1.3"/>
<line x1="59" y1="400.06" x2="60.6" y2="400.06" stroke="#000" stroke-width="1.3"/>
<line x1="59" y1="394.86" x2="60.6" y2="394.86" stroke="#000" stroke-width="1.3"/>
<line x1="59" y1="390.83" x2="60.6" y2="390.83" stroke="#000" stroke-width="1.3"/>
<line x1="59" y1="387.54" x2="60.6" y2="387.54" stroke="#000" stroke-width="1.3"/>
<line x1="59" y1="384.75" x2="60.6" y2="384.75" stroke="#000" stroke-width="1.3"/>
<line x1="59" y1="382.34" x2="60.6" y2="382.34" stroke="#000" stroke-width="1.3"/>
<line x1="59" y1="380.21" x2="60.6" y2="380.21" stroke="#000" stroke-width="1.3"/>
<text x="54.2" y="424.3" text-anchor="end" font-size="12" fill="#000" >10</text>
<line x1="58" y1="378.31" x2="60.6" y2="378.31" stroke="#000" stroke-width="1.3"/>
<line x1="59" y1="365.79" x2="60.6" y2="365.79" stroke="#000" stroke-width="1.3"/>
<line x1="59" y1="358.46" x2="60.6" y2="358.46" stroke="#000" stroke-width="1.3"/>
<line x1="59" y1="353.27" x2="60.6" y2="353.27" stroke="#000" stroke-width="1.3"/>
<line x1="59" y1="349.24" x2="60.6" y2="349.24" stroke="#000" stroke-width="1.3"/>
<line x1="59" y1="345.94" x2="60.6" y2="345.94" stroke="#000" stroke-width="1.3"/>
<line x1="59" y1="343.16" x2="60.6" y2="343.16" stroke="#000" stroke-width="1.3"/>
<line x1="59" y1="340.75" x2="60.6" y2="340.75" stroke="#000" stroke-width="1.3"/>
<line x1="59" y1="338.62" x2="60.6" y2="338.62" stroke="#000" stroke-width="1.3"/>
<text x="54.2" y="382.71" text-anchor="end" font-size="12" fill="#000" >100</text>
<line x1="58" y1="336.71" x2="60.6" y2="336.71" stroke="#000" stroke-width="1.3"/>
<text x="54.2" y="341.11" text-anchor="end" font-size="12" fill="#000" >1000</text>
<line x1="215.3" y1="461.5" x2="218.7" y2="461.5" stroke="#000" stroke-width="1.3"/>
<text x="219.6" y="465.9" text-anchor="start" font-size="12" fill="#000" >0</text>
<line x1="215.3" y1="454.8" x2="217.3" y2="454.8" stroke="#000" stroke-width="1.3"/>
<line x1="215.3" y1="448.1" x2="217.3" y2="448.1" stroke="#000" stroke-width="1.3"/>
<line x1="215.3" y1="441.4" x2="217.3" y2="441.4" stroke="#000" stroke-width="1.3"/>
<line x1="215.3" y1="434.7" x2="217.3" y2="434.7" stroke="#000" stroke-width="1.3"/>
<line x1="215.3" y1="428" x2="218.7" y2="428" stroke="#000" stroke-width="1.3"/>
<text x="219.6" y="432.4" text-anchor="start" font-size="12" fill="#000" >5</text>
<line x1="215.3" y1="421.3" x2="217.3" y2="421.3" stroke="#000" stroke-width="1.3"/>
<line x1="215.3" y1="414.6" x2="217.3" y2="414.6" stroke="#000" stroke-width="1.3"/>
<line x1="215.3" y1="407.9" x2="217.3" y2="407.9" stroke="#000" stroke-width="1.3"/>
<line x1="215.3" y1="401.2" x2="217.3" y2="401.2" stroke="#000" stroke-width="1.3"/>
<line x1="215.3" y1="394.5" x2="218.7" y2="394.5" stroke="#000" stroke-width="1.3"/>
<text x="219.6" y="398.9" text-anchor="start" font-size="12" fill="#000" >10</text>
<line x1="215.3" y1="387.8" x2="217.3" y2="387.8" stroke="#000" stroke-width="1.3"/>
<line x1="215.3" y1="381.1" x2="217.3" y2="381.1" stroke="#000" stroke-width="1.3"/>
<line x1="215.3" y1="374.4" x2="217.3" y2="374.4" stroke="#000" stroke-width="1.3"/>
<line x1="215.3" y1="367.7" x2="217.3" y2="367.7" stroke="#000" stroke-width="1.3"/>
<line x1="215.3" y1="361" x2="218.7" y2="361" stroke="#000" stroke-width="1.3"/>
<text x="219.6" y="365.4" text-anchor="start" font-size="12" fill="#000" >15</text>
<line x1="215.3" y1="354.3" x2="217.3" y2="354.3" stroke="#000" stroke-width="1.3"/>
<line x1="215.3" y1="347.6" x2="217.3" y2="347.6" stroke="#000" stroke-width="1.3"/>
<line x1="215.3" y1="340.9" x2="217.3" y2="340.9" stroke="#000" stroke-width="1.3"/>
<line x1="215.3" y1="334.2" x2="217.3" y2="334.2" stroke="#000" stroke-width="1.3"/>
<line x1="215.3" y1="327.5" x2="218.7" y2="327.5" stroke="#000" stroke-width="1.3"/>
<text x="219.6" y="331.9" text-anchor="start" font-size="12" fill="#000" >20</text>
<line x1="60.85" y1="461.5" x2="60.85" y2="463.5" stroke="#000" stroke-width="1.3"/>
<line x1="72.4" y1="461.5" x2="72.4" y2="463.5" stroke="#000" stroke-width="1.3"/>
<text x="69.6" y="475.4" text-anchor="middle" font-size="12" fill="#000" >300</text>
<line x1="83.95" y1="461.5" x2="83.95" y2="463.5" stroke="#000" stroke-width="1.3"/>
<line x1="95.5" y1="461.5" x2="95.5" y2="463.5" stroke="#000" stroke-width="1.3"/>
<line x1="107.05" y1="461.5" x2="107.05" y2="463.5" stroke="#000" stroke-width="1.3"/>
<line x1="118.6" y1="461.5" x2="118.6" y2="463.5" stroke="#000" stroke-width="1.3"/>
<text x="117.5" y="475.4" text-anchor="middle" font-size="12" fill="#000" >200</text>
<line x1="130.15" y1="461.5" x2="130.15" y2="463.5" stroke="#000" stroke-width="1.3"/>
<line x1="141.7" y1="461.5" x2="141.7" y2="463.5" stroke="#000" stroke-width="1.3"/>
<line x1="153.25" y1="461.5" x2="153.25" y2="463.5" stroke="#000" stroke-width="1.3"/>
<line x1="164.8" y1="461.5" x2="164.8" y2="463.5" stroke="#000" stroke-width="1.3"/>
<text x="163.2" y="475.4" text-anchor="middle" font-size="12" fill="#000" >100</text>
<line x1="176.35" y1="461.5" x2="176.35" y2="463.5" stroke="#000" stroke-width="1.3"/>
<line x1="187.9" y1="461.5" x2="187.9" y2="463.5" stroke="#000" stroke-width="1.3"/>
<line x1="199.45" y1="461.5" x2="199.45" y2="463.5" stroke="#000" stroke-width="1.3"/>
<line x1="211" y1="461.5" x2="211" y2="463.5" stroke="#000" stroke-width="1.3"/>
<text x="210.2" y="475.4" text-anchor="middle" font-size="12" fill="#000" >0</text>
<text x="0.6" y="252.5" text-anchor="start" font-size="15" fill="#000" >(<tspan font-style="italic">d</tspan>)</text>
<rect x="276.8" y="258.2" width="153.8" height="59" fill="none" stroke="#000" stroke-width="1.6"/>
<line x1="274.4" y1="317.2" x2="276.8" y2="317.2" stroke="#000" stroke-width="1.3"/>
<text x="270.8" y="322.3" text-anchor="end" font-size="12" fill="#000" >10</text>
<line x1="275.3" y1="307.37" x2="276.8" y2="307.37" stroke="#000" stroke-width="1.3"/>
<line x1="274.4" y1="297.53" x2="276.8" y2="297.53" stroke="#000" stroke-width="1.3"/>
<text x="270.8" y="302.63" text-anchor="end" font-size="12" fill="#000" >12</text>
<line x1="275.3" y1="287.7" x2="276.8" y2="287.7" stroke="#000" stroke-width="1.3"/>
<line x1="274.4" y1="277.87" x2="276.8" y2="277.87" stroke="#000" stroke-width="1.3"/>
<text x="270.8" y="282.97" text-anchor="end" font-size="12" fill="#000" >14</text>
<line x1="275.3" y1="268.03" x2="276.8" y2="268.03" stroke="#000" stroke-width="1.3"/>
<line x1="274.4" y1="258.2" x2="276.8" y2="258.2" stroke="#000" stroke-width="1.3"/>
<text x="270.8" y="263.3" text-anchor="end" font-size="12" fill="#000" >16</text>
<line x1="287.9" y1="317.2" x2="287.9" y2="314.9" stroke="#000" stroke-width="1.3"/>
<line x1="299.6" y1="317.2" x2="299.6" y2="314.9" stroke="#000" stroke-width="1.3"/>
<line x1="311.3" y1="317.2" x2="311.3" y2="314.9" stroke="#000" stroke-width="1.3"/>
<line x1="323" y1="317.2" x2="323" y2="314.9" stroke="#000" stroke-width="1.3"/>
<line x1="334.7" y1="317.2" x2="334.7" y2="314.9" stroke="#000" stroke-width="1.3"/>
<line x1="346.4" y1="317.2" x2="346.4" y2="314.9" stroke="#000" stroke-width="1.3"/>
<line x1="358.1" y1="317.2" x2="358.1" y2="314.9" stroke="#000" stroke-width="1.3"/>
<line x1="369.8" y1="317.2" x2="369.8" y2="314.9" stroke="#000" stroke-width="1.3"/>
<line x1="381.5" y1="317.2" x2="381.5" y2="314.9" stroke="#000" stroke-width="1.3"/>
<line x1="393.2" y1="317.2" x2="393.2" y2="314.9" stroke="#000" stroke-width="1.3"/>
<line x1="404.9" y1="317.2" x2="404.9" y2="314.9" stroke="#000" stroke-width="1.3"/>
<line x1="416.6" y1="317.2" x2="416.6" y2="314.9" stroke="#000" stroke-width="1.3"/>
<line x1="428.3" y1="317.2" x2="428.3" y2="314.9" stroke="#000" stroke-width="1.3"/>
<text x="279.5" y="269.8" text-anchor="start" font-size="10.3" fill="#000" >RB 2005 001</text>
<path d="M277.2 325.5V462H431V325.5" fill="none" stroke="#000" stroke-width="1.6"/>
<line x1="274.6" y1="462" x2="277.2" y2="462" stroke="#000" stroke-width="1.3"/>
<line x1="275.6" y1="449.4" x2="277.2" y2="449.4" stroke="#000" stroke-width="1.3"/>
<line x1="275.6" y1="442.02" x2="277.2" y2="442.02" stroke="#000" stroke-width="1.3"/>
<line x1="275.6" y1="436.79" x2="277.2" y2="436.79" stroke="#000" stroke-width="1.3"/>
<line x1="275.6" y1="432.73" x2="277.2" y2="432.73" stroke="#000" stroke-width="1.3"/>
<line x1="275.6" y1="429.42" x2="277.2" y2="429.42" stroke="#000" stroke-width="1.3"/>
<line x1="275.6" y1="426.61" x2="277.2" y2="426.61" stroke="#000" stroke-width="1.3"/>
<line x1="275.6" y1="424.19" x2="277.2" y2="424.19" stroke="#000" stroke-width="1.3"/>
<line x1="275.6" y1="422.04" x2="277.2" y2="422.04" stroke="#000" stroke-width="1.3"/>
<text x="271" y="466.4" text-anchor="end" font-size="12" fill="#000" >1</text>
<line x1="274.6" y1="420.13" x2="277.2" y2="420.13" stroke="#000" stroke-width="1.3"/>
<line x1="275.6" y1="407.52" x2="277.2" y2="407.52" stroke="#000" stroke-width="1.3"/>
<line x1="275.6" y1="400.15" x2="277.2" y2="400.15" stroke="#000" stroke-width="1.3"/>
<line x1="275.6" y1="394.92" x2="277.2" y2="394.92" stroke="#000" stroke-width="1.3"/>
<line x1="275.6" y1="390.86" x2="277.2" y2="390.86" stroke="#000" stroke-width="1.3"/>
<line x1="275.6" y1="387.55" x2="277.2" y2="387.55" stroke="#000" stroke-width="1.3"/>
<line x1="275.6" y1="384.74" x2="277.2" y2="384.74" stroke="#000" stroke-width="1.3"/>
<line x1="275.6" y1="382.32" x2="277.2" y2="382.32" stroke="#000" stroke-width="1.3"/>
<line x1="275.6" y1="380.17" x2="277.2" y2="380.17" stroke="#000" stroke-width="1.3"/>
<text x="271" y="424.53" text-anchor="end" font-size="12" fill="#000" >10</text>
<line x1="274.6" y1="378.26" x2="277.2" y2="378.26" stroke="#000" stroke-width="1.3"/>
<line x1="275.6" y1="365.65" x2="277.2" y2="365.65" stroke="#000" stroke-width="1.3"/>
<line x1="275.6" y1="358.28" x2="277.2" y2="358.28" stroke="#000" stroke-width="1.3"/>
<line x1="275.6" y1="353.05" x2="277.2" y2="353.05" stroke="#000" stroke-width="1.3"/>
<line x1="275.6" y1="348.99" x2="277.2" y2="348.99" stroke="#000" stroke-width="1.3"/>
<line x1="275.6" y1="345.68" x2="277.2" y2="345.68" stroke="#000" stroke-width="1.3"/>
<line x1="275.6" y1="342.87" x2="277.2" y2="342.87" stroke="#000" stroke-width="1.3"/>
<line x1="275.6" y1="340.44" x2="277.2" y2="340.44" stroke="#000" stroke-width="1.3"/>
<line x1="275.6" y1="338.3" x2="277.2" y2="338.3" stroke="#000" stroke-width="1.3"/>
<text x="271" y="382.66" text-anchor="end" font-size="12" fill="#000" >100</text>
<line x1="274.6" y1="336.39" x2="277.2" y2="336.39" stroke="#000" stroke-width="1.3"/>
<text x="271" y="340.79" text-anchor="end" font-size="12" fill="#000" >1000</text>
<line x1="431" y1="462" x2="434.4" y2="462" stroke="#000" stroke-width="1.3"/>
<text x="437" y="466.4" text-anchor="start" font-size="12" fill="#000" >0</text>
<line x1="431" y1="455.18" x2="433" y2="455.18" stroke="#000" stroke-width="1.3"/>
<line x1="431" y1="448.35" x2="433" y2="448.35" stroke="#000" stroke-width="1.3"/>
<line x1="431" y1="441.52" x2="433" y2="441.52" stroke="#000" stroke-width="1.3"/>
<line x1="431" y1="434.7" x2="433" y2="434.7" stroke="#000" stroke-width="1.3"/>
<line x1="431" y1="427.88" x2="434.4" y2="427.88" stroke="#000" stroke-width="1.3"/>
<text x="437" y="432.27" text-anchor="start" font-size="12" fill="#000" >5</text>
<line x1="431" y1="421.05" x2="433" y2="421.05" stroke="#000" stroke-width="1.3"/>
<line x1="431" y1="414.23" x2="433" y2="414.23" stroke="#000" stroke-width="1.3"/>
<line x1="431" y1="407.4" x2="433" y2="407.4" stroke="#000" stroke-width="1.3"/>
<line x1="431" y1="400.57" x2="433" y2="400.57" stroke="#000" stroke-width="1.3"/>
<line x1="431" y1="393.75" x2="434.4" y2="393.75" stroke="#000" stroke-width="1.3"/>
<text x="437" y="398.15" text-anchor="start" font-size="12" fill="#000" >10</text>
<line x1="431" y1="386.93" x2="433" y2="386.93" stroke="#000" stroke-width="1.3"/>
<line x1="431" y1="380.1" x2="433" y2="380.1" stroke="#000" stroke-width="1.3"/>
<line x1="431" y1="373.27" x2="433" y2="373.27" stroke="#000" stroke-width="1.3"/>
<line x1="431" y1="366.45" x2="433" y2="366.45" stroke="#000" stroke-width="1.3"/>
<line x1="431" y1="359.62" x2="434.4" y2="359.62" stroke="#000" stroke-width="1.3"/>
<text x="437" y="364.02" text-anchor="start" font-size="12" fill="#000" >15</text>
<line x1="431" y1="352.8" x2="433" y2="352.8" stroke="#000" stroke-width="1.3"/>
<line x1="431" y1="345.98" x2="433" y2="345.98" stroke="#000" stroke-width="1.3"/>
<line x1="431" y1="339.15" x2="433" y2="339.15" stroke="#000" stroke-width="1.3"/>
<line x1="431" y1="332.32" x2="433" y2="332.32" stroke="#000" stroke-width="1.3"/>
<line x1="431" y1="325.5" x2="434.4" y2="325.5" stroke="#000" stroke-width="1.3"/>
<text x="437" y="329.9" text-anchor="start" font-size="12" fill="#000" >20</text>
<line x1="287.9" y1="462" x2="287.9" y2="464" stroke="#000" stroke-width="1.3"/>
<text x="287.8" y="475.1" text-anchor="middle" font-size="12" fill="#000" >300</text>
<line x1="299.6" y1="462" x2="299.6" y2="464" stroke="#000" stroke-width="1.3"/>
<line x1="311.3" y1="462" x2="311.3" y2="464" stroke="#000" stroke-width="1.3"/>
<line x1="323" y1="462" x2="323" y2="464" stroke="#000" stroke-width="1.3"/>
<line x1="334.7" y1="462" x2="334.7" y2="464" stroke="#000" stroke-width="1.3"/>
<text x="336" y="475.1" text-anchor="middle" font-size="12" fill="#000" >200</text>
<line x1="346.4" y1="462" x2="346.4" y2="464" stroke="#000" stroke-width="1.3"/>
<line x1="358.1" y1="462" x2="358.1" y2="464" stroke="#000" stroke-width="1.3"/>
<line x1="369.8" y1="462" x2="369.8" y2="464" stroke="#000" stroke-width="1.3"/>
<line x1="381.5" y1="462" x2="381.5" y2="464" stroke="#000" stroke-width="1.3"/>
<text x="382.1" y="475.1" text-anchor="middle" font-size="12" fill="#000" >100</text>
<line x1="393.2" y1="462" x2="393.2" y2="464" stroke="#000" stroke-width="1.3"/>
<line x1="404.9" y1="462" x2="404.9" y2="464" stroke="#000" stroke-width="1.3"/>
<line x1="416.6" y1="462" x2="416.6" y2="464" stroke="#000" stroke-width="1.3"/>
<line x1="428.3" y1="462" x2="428.3" y2="464" stroke="#000" stroke-width="1.3"/>
<text x="428.5" y="475.1" text-anchor="middle" font-size="12" fill="#000" >0</text>
<text x="235.6" y="252.4" text-anchor="start" font-size="15" fill="#000" >(<tspan font-style="italic">e</tspan>)</text>
<rect x="492.4" y="260.3" width="154.6" height="57.3" fill="none" stroke="#000" stroke-width="1.6"/>
<line x1="490" y1="317.6" x2="492.4" y2="317.6" stroke="#000" stroke-width="1.3"/>
<text x="489.7" y="322.7" text-anchor="end" font-size="12" fill="#000" >10</text>
<line x1="490.9" y1="308.05" x2="492.4" y2="308.05" stroke="#000" stroke-width="1.3"/>
<line x1="490" y1="298.5" x2="492.4" y2="298.5" stroke="#000" stroke-width="1.3"/>
<text x="489.7" y="303.6" text-anchor="end" font-size="12" fill="#000" >12</text>
<line x1="490.9" y1="288.95" x2="492.4" y2="288.95" stroke="#000" stroke-width="1.3"/>
<line x1="490" y1="279.4" x2="492.4" y2="279.4" stroke="#000" stroke-width="1.3"/>
<text x="489.7" y="284.5" text-anchor="end" font-size="12" fill="#000" >14</text>
<line x1="490.9" y1="269.85" x2="492.4" y2="269.85" stroke="#000" stroke-width="1.3"/>
<line x1="490" y1="260.3" x2="492.4" y2="260.3" stroke="#000" stroke-width="1.3"/>
<text x="489.7" y="265.4" text-anchor="end" font-size="12" fill="#000" >16</text>
<line x1="495.53" y1="317.6" x2="495.53" y2="315.3" stroke="#000" stroke-width="1.3"/>
<line x1="507" y1="317.6" x2="507" y2="315.3" stroke="#000" stroke-width="1.3"/>
<line x1="518.48" y1="317.6" x2="518.48" y2="315.3" stroke="#000" stroke-width="1.3"/>
<line x1="529.95" y1="317.6" x2="529.95" y2="315.3" stroke="#000" stroke-width="1.3"/>
<line x1="541.43" y1="317.6" x2="541.43" y2="315.3" stroke="#000" stroke-width="1.3"/>
<line x1="552.9" y1="317.6" x2="552.9" y2="315.3" stroke="#000" stroke-width="1.3"/>
<line x1="564.38" y1="317.6" x2="564.38" y2="315.3" stroke="#000" stroke-width="1.3"/>
<line x1="575.85" y1="317.6" x2="575.85" y2="315.3" stroke="#000" stroke-width="1.3"/>
<line x1="587.33" y1="317.6" x2="587.33" y2="315.3" stroke="#000" stroke-width="1.3"/>
<line x1="598.8" y1="317.6" x2="598.8" y2="315.3" stroke="#000" stroke-width="1.3"/>
<line x1="610.28" y1="317.6" x2="610.28" y2="315.3" stroke="#000" stroke-width="1.3"/>
<line x1="621.75" y1="317.6" x2="621.75" y2="315.3" stroke="#000" stroke-width="1.3"/>
<line x1="633.23" y1="317.6" x2="633.23" y2="315.3" stroke="#000" stroke-width="1.3"/>
<line x1="644.7" y1="317.6" x2="644.7" y2="315.3" stroke="#000" stroke-width="1.3"/>
<text x="497.3" y="269.5" text-anchor="start" font-size="10.3" fill="#000" >01 2009</text>
<path d="M493.6 325.6V461.1H647.4V325.6" fill="none" stroke="#000" stroke-width="1.6"/>
<line x1="491" y1="461.1" x2="493.6" y2="461.1" stroke="#000" stroke-width="1.3"/>
<line x1="492" y1="448.59" x2="493.6" y2="448.59" stroke="#000" stroke-width="1.3"/>
<line x1="492" y1="441.27" x2="493.6" y2="441.27" stroke="#000" stroke-width="1.3"/>
<line x1="492" y1="436.08" x2="493.6" y2="436.08" stroke="#000" stroke-width="1.3"/>
<line x1="492" y1="432.05" x2="493.6" y2="432.05" stroke="#000" stroke-width="1.3"/>
<line x1="492" y1="428.76" x2="493.6" y2="428.76" stroke="#000" stroke-width="1.3"/>
<line x1="492" y1="425.97" x2="493.6" y2="425.97" stroke="#000" stroke-width="1.3"/>
<line x1="492" y1="423.56" x2="493.6" y2="423.56" stroke="#000" stroke-width="1.3"/>
<line x1="492" y1="421.44" x2="493.6" y2="421.44" stroke="#000" stroke-width="1.3"/>
<text x="488.6" y="465.5" text-anchor="end" font-size="12" fill="#000" >1</text>
<line x1="491" y1="419.54" x2="493.6" y2="419.54" stroke="#000" stroke-width="1.3"/>
<line x1="492" y1="407.02" x2="493.6" y2="407.02" stroke="#000" stroke-width="1.3"/>
<line x1="492" y1="399.7" x2="493.6" y2="399.7" stroke="#000" stroke-width="1.3"/>
<line x1="492" y1="394.51" x2="493.6" y2="394.51" stroke="#000" stroke-width="1.3"/>
<line x1="492" y1="390.48" x2="493.6" y2="390.48" stroke="#000" stroke-width="1.3"/>
<line x1="492" y1="387.19" x2="493.6" y2="387.19" stroke="#000" stroke-width="1.3"/>
<line x1="492" y1="384.41" x2="493.6" y2="384.41" stroke="#000" stroke-width="1.3"/>
<line x1="492" y1="382" x2="493.6" y2="382" stroke="#000" stroke-width="1.3"/>
<line x1="492" y1="379.87" x2="493.6" y2="379.87" stroke="#000" stroke-width="1.3"/>
<text x="488.6" y="423.94" text-anchor="end" font-size="12" fill="#000" >10</text>
<line x1="491" y1="377.97" x2="493.6" y2="377.97" stroke="#000" stroke-width="1.3"/>
<line x1="492" y1="365.46" x2="493.6" y2="365.46" stroke="#000" stroke-width="1.3"/>
<line x1="492" y1="358.14" x2="493.6" y2="358.14" stroke="#000" stroke-width="1.3"/>
<line x1="492" y1="352.95" x2="493.6" y2="352.95" stroke="#000" stroke-width="1.3"/>
<line x1="492" y1="348.92" x2="493.6" y2="348.92" stroke="#000" stroke-width="1.3"/>
<line x1="492" y1="345.63" x2="493.6" y2="345.63" stroke="#000" stroke-width="1.3"/>
<line x1="492" y1="342.85" x2="493.6" y2="342.85" stroke="#000" stroke-width="1.3"/>
<line x1="492" y1="340.43" x2="493.6" y2="340.43" stroke="#000" stroke-width="1.3"/>
<line x1="492" y1="338.31" x2="493.6" y2="338.31" stroke="#000" stroke-width="1.3"/>
<text x="488.6" y="382.37" text-anchor="end" font-size="12" fill="#000" >100</text>
<line x1="491" y1="336.41" x2="493.6" y2="336.41" stroke="#000" stroke-width="1.3"/>
<text x="488.6" y="340.81" text-anchor="end" font-size="12" fill="#000" >1000</text>
<line x1="647.4" y1="461.1" x2="650.8" y2="461.1" stroke="#000" stroke-width="1.3"/>
<text x="653.6" y="465.5" text-anchor="start" font-size="12" fill="#000" >0</text>
<line x1="647.4" y1="454.33" x2="649.4" y2="454.33" stroke="#000" stroke-width="1.3"/>
<line x1="647.4" y1="447.55" x2="649.4" y2="447.55" stroke="#000" stroke-width="1.3"/>
<line x1="647.4" y1="440.78" x2="649.4" y2="440.78" stroke="#000" stroke-width="1.3"/>
<line x1="647.4" y1="434" x2="649.4" y2="434" stroke="#000" stroke-width="1.3"/>
<line x1="647.4" y1="427.23" x2="650.8" y2="427.23" stroke="#000" stroke-width="1.3"/>
<text x="653.6" y="431.62" text-anchor="start" font-size="12" fill="#000" >5</text>
<line x1="647.4" y1="420.45" x2="649.4" y2="420.45" stroke="#000" stroke-width="1.3"/>
<line x1="647.4" y1="413.68" x2="649.4" y2="413.68" stroke="#000" stroke-width="1.3"/>
<line x1="647.4" y1="406.9" x2="649.4" y2="406.9" stroke="#000" stroke-width="1.3"/>
<line x1="647.4" y1="400.12" x2="649.4" y2="400.12" stroke="#000" stroke-width="1.3"/>
<line x1="647.4" y1="393.35" x2="650.8" y2="393.35" stroke="#000" stroke-width="1.3"/>
<text x="653.6" y="397.75" text-anchor="start" font-size="12" fill="#000" >10</text>
<line x1="647.4" y1="386.58" x2="649.4" y2="386.58" stroke="#000" stroke-width="1.3"/>
<line x1="647.4" y1="379.8" x2="649.4" y2="379.8" stroke="#000" stroke-width="1.3"/>
<line x1="647.4" y1="373.03" x2="649.4" y2="373.03" stroke="#000" stroke-width="1.3"/>
<line x1="647.4" y1="366.25" x2="649.4" y2="366.25" stroke="#000" stroke-width="1.3"/>
<line x1="647.4" y1="359.48" x2="650.8" y2="359.48" stroke="#000" stroke-width="1.3"/>
<text x="653.6" y="363.88" text-anchor="start" font-size="12" fill="#000" >15</text>
<line x1="647.4" y1="352.7" x2="649.4" y2="352.7" stroke="#000" stroke-width="1.3"/>
<line x1="647.4" y1="345.93" x2="649.4" y2="345.93" stroke="#000" stroke-width="1.3"/>
<line x1="647.4" y1="339.15" x2="649.4" y2="339.15" stroke="#000" stroke-width="1.3"/>
<line x1="647.4" y1="332.38" x2="649.4" y2="332.38" stroke="#000" stroke-width="1.3"/>
<line x1="647.4" y1="325.6" x2="650.8" y2="325.6" stroke="#000" stroke-width="1.3"/>
<text x="653.6" y="330" text-anchor="start" font-size="12" fill="#000" >20</text>
<line x1="495.53" y1="461.1" x2="495.53" y2="463.1" stroke="#000" stroke-width="1.3"/>
<line x1="507" y1="461.1" x2="507" y2="463.1" stroke="#000" stroke-width="1.3"/>
<text x="505.8" y="475.1" text-anchor="middle" font-size="12" fill="#000" >300</text>
<line x1="518.48" y1="461.1" x2="518.48" y2="463.1" stroke="#000" stroke-width="1.3"/>
<line x1="529.95" y1="461.1" x2="529.95" y2="463.1" stroke="#000" stroke-width="1.3"/>
<line x1="541.43" y1="461.1" x2="541.43" y2="463.1" stroke="#000" stroke-width="1.3"/>
<line x1="552.9" y1="461.1" x2="552.9" y2="463.1" stroke="#000" stroke-width="1.3"/>
<text x="554" y="475.1" text-anchor="middle" font-size="12" fill="#000" >200</text>
<line x1="564.38" y1="461.1" x2="564.38" y2="463.1" stroke="#000" stroke-width="1.3"/>
<line x1="575.85" y1="461.1" x2="575.85" y2="463.1" stroke="#000" stroke-width="1.3"/>
<line x1="587.33" y1="461.1" x2="587.33" y2="463.1" stroke="#000" stroke-width="1.3"/>
<line x1="598.8" y1="461.1" x2="598.8" y2="463.1" stroke="#000" stroke-width="1.3"/>
<text x="599.5" y="475.1" text-anchor="middle" font-size="12" fill="#000" >100</text>
<line x1="610.28" y1="461.1" x2="610.28" y2="463.1" stroke="#000" stroke-width="1.3"/>
<line x1="621.75" y1="461.1" x2="621.75" y2="463.1" stroke="#000" stroke-width="1.3"/>
<line x1="633.23" y1="461.1" x2="633.23" y2="463.1" stroke="#000" stroke-width="1.3"/>
<line x1="644.7" y1="461.1" x2="644.7" y2="463.1" stroke="#000" stroke-width="1.3"/>
<text x="645.2" y="475.1" text-anchor="middle" font-size="12" fill="#000" >0</text>
<text x="453.8" y="253.2" text-anchor="start" font-size="15" fill="#000" >(<tspan font-style="italic">f</tspan><tspan dx="4">)</tspan></text>
<text x="13.6" y="45" text-anchor="middle" font-size="12" fill="#2f7b45" transform="rotate(-90 13.6 45)">δ<tspan font-size="8" dy="-4.5">15</tspan><tspan dy="4.5">N (‰)</tspan></text>
<text x="13.6" y="283.5" text-anchor="middle" font-size="12" fill="#2f7b45" transform="rotate(-90 13.6 283.5)">δ<tspan font-size="8" dy="-4.5">15</tspan><tspan dy="4.5">N (‰)</tspan></text>
<text x="14.5" y="150" text-anchor="middle" font-size="12" fill="#000" transform="rotate(-90 14.5 150)">progesterone (ng g<tspan font-size="8" dy="-4.5">−1</tspan><tspan dy="4.5">)</tspan></text>
<text x="14.5" y="394.5" text-anchor="middle" font-size="12" fill="#000" transform="rotate(-90 14.5 394.5)">progesterone (ng g<tspan font-size="8" dy="-4.5">−1</tspan><tspan dy="4.5">)</tspan></text>
<path d="M139.6 146.3 L140.6 149 L142.3 140 L143.1 155.5 L144.3 161.8 L145.2 155.5 L147 142.8 L147.7 147.9 L148.7 149.4 L149.2 154 L150.8 143.8 L151.5 151.4 L153.3 158 L154.3 154 L155.3 150.4 L155.8 153 L156.8 154.5 L158.4 154.5 L159.4 157 L159.9 160.6 L160.9 155.5 L161.9 137.7 L163 132.1 L164 145.3 L165 154.5 L166 165.7 L167 155.5 L168 166.7 L169 155.5 L170 158.5 L171.4 163.6 L172.6 155.5 L173.1 144.8 L174.1 155.5 L175.1 160.6 L176.2 151.4 L177.5 146.8 L178.7 164.6 L179.7 165.7 L180.7 171.7 L182 165.7 L183.3 158.6 L185.1 150.4 L186.4 160.4 L187.9 143.4 L189.2 163.2 L190.4 168.7 L192.3 147.6 L193.2 159.5 L194.7 166.8 L196.1 159.5 L197.4 165.9 L199 155 L200.1 158.6 L201.6 163.2 L202.9 169.6 L204.2 145.8 L205.6 121.1 L206.6 103.8 L205.9 121.5 L207.8 133.3 L208.4 96.4" fill="none" stroke="#cf2a3e" stroke-width="1.2" stroke-linejoin="round"/>
<circle cx="139.6" cy="146.3" r="1.15" fill="#fff" stroke="#cf2a3e" stroke-width="0.7"/>
<circle cx="140.6" cy="149" r="1.15" fill="#fff" stroke="#cf2a3e" stroke-width="0.7"/>
<circle cx="142.3" cy="140" r="1.35" fill="#cf2a3e" stroke="#cf2a3e" stroke-width="0.7"/>
<circle cx="143.1" cy="155.5" r="1.15" fill="#fff" stroke="#cf2a3e" stroke-width="0.7"/>
<circle cx="144.3" cy="161.8" r="1.15" fill="#fff" stroke="#cf2a3e" stroke-width="0.7"/>
<circle cx="145.2" cy="155.5" r="1.15" fill="#fff" stroke="#cf2a3e" stroke-width="0.7"/>
<circle cx="147" cy="142.8" r="1.35" fill="#cf2a3e" stroke="#cf2a3e" stroke-width="0.7"/>
<circle cx="147.7" cy="147.9" r="1.15" fill="#fff" stroke="#cf2a3e" stroke-width="0.7"/>
<circle cx="148.7" cy="149.4" r="1.15" fill="#fff" stroke="#cf2a3e" stroke-width="0.7"/>
<circle cx="149.2" cy="154" r="1.15" fill="#fff" stroke="#cf2a3e" stroke-width="0.7"/>
<circle cx="150.8" cy="143.8" r="1.35" fill="#cf2a3e" stroke="#cf2a3e" stroke-width="0.7"/>
<circle cx="151.5" cy="151.4" r="1.15" fill="#fff" stroke="#cf2a3e" stroke-width="0.7"/>
<circle cx="153.3" cy="158" r="1.15" fill="#fff" stroke="#cf2a3e" stroke-width="0.7"/>
<circle cx="154.3" cy="154" r="1.15" fill="#fff" stroke="#cf2a3e" stroke-width="0.7"/>
<circle cx="155.3" cy="150.4" r="1.15" fill="#fff" stroke="#cf2a3e" stroke-width="0.7"/>
<circle cx="155.8" cy="153" r="1.15" fill="#fff" stroke="#cf2a3e" stroke-width="0.7"/>
<circle cx="156.8" cy="154.5" r="1.15" fill="#fff" stroke="#cf2a3e" stroke-width="0.7"/>
<circle cx="158.4" cy="154.5" r="1.15" fill="#fff" stroke="#cf2a3e" stroke-width="0.7"/>
<circle cx="159.4" cy="157" r="1.15" fill="#fff" stroke="#cf2a3e" stroke-width="0.7"/>
<circle cx="159.9" cy="160.6" r="1.15" fill="#fff" stroke="#cf2a3e" stroke-width="0.7"/>
<circle cx="160.9" cy="155.5" r="1.15" fill="#fff" stroke="#cf2a3e" stroke-width="0.7"/>
<circle cx="161.9" cy="137.7" r="1.35" fill="#cf2a3e" stroke="#cf2a3e" stroke-width="0.7"/>
<circle cx="163" cy="132.1" r="1.35" fill="#cf2a3e" stroke="#cf2a3e" stroke-width="0.7"/>
<circle cx="164" cy="145.3" r="1.15" fill="#fff" stroke="#cf2a3e" stroke-width="0.7"/>
<circle cx="165" cy="154.5" r="1.15" fill="#fff" stroke="#cf2a3e" stroke-width="0.7"/>
<circle cx="166" cy="165.7" r="1.15" fill="#fff" stroke="#cf2a3e" stroke-width="0.7"/>
<circle cx="167" cy="155.5" r="1.15" fill="#fff" stroke="#cf2a3e" stroke-width="0.7"/>
<circle cx="168" cy="166.7" r="1.15" fill="#fff" stroke="#cf2a3e" stroke-width="0.7"/>
<circle cx="169" cy="155.5" r="1.15" fill="#fff" stroke="#cf2a3e" stroke-width="0.7"/>
<circle cx="170" cy="158.5" r="1.15" fill="#fff" stroke="#cf2a3e" stroke-width="0.7"/>
<circle cx="171.4" cy="163.6" r="1.15" fill="#fff" stroke="#cf2a3e" stroke-width="0.7"/>
<circle cx="172.6" cy="155.5" r="1.15" fill="#fff" stroke="#cf2a3e" stroke-width="0.7"/>
<circle cx="173.1" cy="144.8" r="1.35" fill="#cf2a3e" stroke="#cf2a3e" stroke-width="0.7"/>
<circle cx="174.1" cy="155.5" r="1.15" fill="#fff" stroke="#cf2a3e" stroke-width="0.7"/>
<circle cx="175.1" cy="160.6" r="1.15" fill="#fff" stroke="#cf2a3e" stroke-width="0.7"/>
<circle cx="176.2" cy="151.4" r="1.15" fill="#fff" stroke="#cf2a3e" stroke-width="0.7"/>
<circle cx="177.5" cy="146.8" r="1.15" fill="#fff" stroke="#cf2a3e" stroke-width="0.7"/>
<circle cx="178.7" cy="164.6" r="1.15" fill="#fff" stroke="#cf2a3e" stroke-width="0.7"/>
<circle cx="179.7" cy="165.7" r="1.15" fill="#fff" stroke="#cf2a3e" stroke-width="0.7"/>
<circle cx="180.7" cy="171.7" r="1.15" fill="#fff" stroke="#cf2a3e" stroke-width="0.7"/>
<circle cx="182" cy="165.7" r="1.15" fill="#fff" stroke="#cf2a3e" stroke-width="0.7"/>
<circle cx="183.3" cy="158.6" r="1.15" fill="#fff" stroke="#cf2a3e" stroke-width="0.7"/>
<circle cx="185.1" cy="150.4" r="1.15" fill="#fff" stroke="#cf2a3e" stroke-width="0.7"/>
<circle cx="186.4" cy="160.4" r="1.15" fill="#fff" stroke="#cf2a3e" stroke-width="0.7"/>
<circle cx="187.9" cy="143.4" r="1.35" fill="#cf2a3e" stroke="#cf2a3e" stroke-width="0.7"/>
<circle cx="189.2" cy="163.2" r="1.15" fill="#fff" stroke="#cf2a3e" stroke-width="0.7"/>
<circle cx="190.4" cy="168.7" r="1.15" fill="#fff" stroke="#cf2a3e" stroke-width="0.7"/>
<circle cx="192.3" cy="147.6" r="1.15" fill="#fff" stroke="#cf2a3e" stroke-width="0.7"/>
<circle cx="193.2" cy="159.5" r="1.15" fill="#fff" stroke="#cf2a3e" stroke-width="0.7"/>
<circle cx="194.7" cy="166.8" r="1.15" fill="#fff" stroke="#cf2a3e" stroke-width="0.7"/>
<circle cx="196.1" cy="159.5" r="1.15" fill="#fff" stroke="#cf2a3e" stroke-width="0.7"/>
<circle cx="197.4" cy="165.9" r="1.15" fill="#fff" stroke="#cf2a3e" stroke-width="0.7"/>
<circle cx="199" cy="155" r="1.15" fill="#fff" stroke="#cf2a3e" stroke-width="0.7"/>
<circle cx="200.1" cy="158.6" r="1.15" fill="#fff" stroke="#cf2a3e" stroke-width="0.7"/>
<circle cx="201.6" cy="163.2" r="1.15" fill="#fff" stroke="#cf2a3e" stroke-width="0.7"/>
<circle cx="202.9" cy="169.6" r="1.15" fill="#fff" stroke="#cf2a3e" stroke-width="0.7"/>
<circle cx="204.2" cy="145.8" r="1.15" fill="#fff" stroke="#cf2a3e" stroke-width="0.7"/>
<circle cx="205.6" cy="121.1" r="1.15" fill="#fff" stroke="#cf2a3e" stroke-width="0.7"/>
<circle cx="206.6" cy="103.8" r="1.15" fill="#fff" stroke="#cf2a3e" stroke-width="0.7"/>
<circle cx="205.9" cy="121.5" r="1.35" fill="#cf2a3e" stroke="#cf2a3e" stroke-width="0.7"/>
<circle cx="207.8" cy="133.3" r="1.35" fill="#cf2a3e" stroke="#cf2a3e" stroke-width="0.7"/>
<circle cx="208.4" cy="96.4" r="1.35" fill="#cf2a3e" stroke="#cf2a3e" stroke-width="0.7"/>
<path d="M139.6 193.7 L140.5 189.1 L141.8 196 L142.8 198.8 L144.1 192.6 L145.8 192 L147.6 190.8 L149.3 194.3 L150.8 199.4 L152.1 200 L153.8 193.7 L155.3 196 L156.7 198.3 L158.4 201.1 L159.5 197.1 L162.1 192 L163.3 197.1 L164.7 208.5 L165.8 197.1 L167.5 196.6 L169.2 198.3 L171 201.1 L172.1 204.5 L173.6 198.8 L175 200 L176.7 196 L178.2 200 L179.5 203.4 L181.2 198.8 L183 199.4 L185.2 193.7 L187 201.7 L188.7 197.1 L190.9 198.3 L192.6 196.6 L194.4 207.4 L195.5 197.1 L197.6 198.3 L199.5 194.8 L201.8 204 L203.5 197.7 L205.2 193.7 L206.6 178 L207.6 190.5 L208.1 189.5" fill="none" stroke="#141414" stroke-width="1.2" stroke-linejoin="round"/>
<circle cx="139.6" cy="193.7" r="1.15" fill="#fff" stroke="#141414" stroke-width="0.7"/>
<circle cx="140.5" cy="189.1" r="1.35" fill="#141414" stroke="#141414" stroke-width="0.7"/>
<circle cx="141.8" cy="196" r="1.15" fill="#fff" stroke="#141414" stroke-width="0.7"/>
<circle cx="142.8" cy="198.8" r="1.15" fill="#fff" stroke="#141414" stroke-width="0.7"/>
<circle cx="144.1" cy="192.6" r="1.15" fill="#fff" stroke="#141414" stroke-width="0.7"/>
<circle cx="145.8" cy="192" r="1.15" fill="#fff" stroke="#141414" stroke-width="0.7"/>
<circle cx="147.6" cy="190.8" r="1.35" fill="#141414" stroke="#141414" stroke-width="0.7"/>
<circle cx="149.3" cy="194.3" r="1.15" fill="#fff" stroke="#141414" stroke-width="0.7"/>
<circle cx="150.8" cy="199.4" r="1.15" fill="#fff" stroke="#141414" stroke-width="0.7"/>
<circle cx="152.1" cy="200" r="1.15" fill="#fff" stroke="#141414" stroke-width="0.7"/>
<circle cx="153.8" cy="193.7" r="1.15" fill="#fff" stroke="#141414" stroke-width="0.7"/>
<circle cx="155.3" cy="196" r="1.15" fill="#fff" stroke="#141414" stroke-width="0.7"/>
<circle cx="156.7" cy="198.3" r="1.15" fill="#fff" stroke="#141414" stroke-width="0.7"/>
<circle cx="158.4" cy="201.1" r="1.15" fill="#fff" stroke="#141414" stroke-width="0.7"/>
<circle cx="159.5" cy="197.1" r="1.15" fill="#fff" stroke="#141414" stroke-width="0.7"/>
<circle cx="162.1" cy="192" r="1.35" fill="#141414" stroke="#141414" stroke-width="0.7"/>
<circle cx="163.3" cy="197.1" r="1.15" fill="#fff" stroke="#141414" stroke-width="0.7"/>
<circle cx="164.7" cy="208.5" r="1.35" fill="#141414" stroke="#141414" stroke-width="0.7"/>
<circle cx="165.8" cy="197.1" r="1.15" fill="#fff" stroke="#141414" stroke-width="0.7"/>
<circle cx="167.5" cy="196.6" r="1.15" fill="#fff" stroke="#141414" stroke-width="0.7"/>
<circle cx="169.2" cy="198.3" r="1.15" fill="#fff" stroke="#141414" stroke-width="0.7"/>
<circle cx="171" cy="201.1" r="1.15" fill="#fff" stroke="#141414" stroke-width="0.7"/>
<circle cx="172.1" cy="204.5" r="1.15" fill="#fff" stroke="#141414" stroke-width="0.7"/>
<circle cx="173.6" cy="198.8" r="1.15" fill="#fff" stroke="#141414" stroke-width="0.7"/>
<circle cx="175" cy="200" r="1.15" fill="#fff" stroke="#141414" stroke-width="0.7"/>
<circle cx="176.7" cy="196" r="1.15" fill="#fff" stroke="#141414" stroke-width="0.7"/>
<circle cx="178.2" cy="200" r="1.15" fill="#fff" stroke="#141414" stroke-width="0.7"/>
<circle cx="179.5" cy="203.4" r="1.15" fill="#fff" stroke="#141414" stroke-width="0.7"/>
<circle cx="181.2" cy="198.8" r="1.15" fill="#fff" stroke="#141414" stroke-width="0.7"/>
<circle cx="183" cy="199.4" r="1.15" fill="#fff" stroke="#141414" stroke-width="0.7"/>
<circle cx="185.2" cy="193.7" r="1.15" fill="#fff" stroke="#141414" stroke-width="0.7"/>
<circle cx="187" cy="201.7" r="1.15" fill="#fff" stroke="#141414" stroke-width="0.7"/>
<circle cx="188.7" cy="197.1" r="1.15" fill="#fff" stroke="#141414" stroke-width="0.7"/>
<circle cx="190.9" cy="198.3" r="1.15" fill="#fff" stroke="#141414" stroke-width="0.7"/>
<circle cx="192.6" cy="196.6" r="1.15" fill="#fff" stroke="#141414" stroke-width="0.7"/>
<circle cx="194.4" cy="207.4" r="1.35" fill="#141414" stroke="#141414" stroke-width="0.7"/>
<circle cx="195.5" cy="197.1" r="1.15" fill="#fff" stroke="#141414" stroke-width="0.7"/>
<circle cx="197.6" cy="198.3" r="1.15" fill="#fff" stroke="#141414" stroke-width="0.7"/>
<circle cx="199.5" cy="194.8" r="1.15" fill="#fff" stroke="#141414" stroke-width="0.7"/>
<circle cx="201.8" cy="204" r="1.15" fill="#fff" stroke="#141414" stroke-width="0.7"/>
<circle cx="203.5" cy="197.7" r="1.15" fill="#fff" stroke="#141414" stroke-width="0.7"/>
<circle cx="205.2" cy="193.7" r="1.15" fill="#fff" stroke="#141414" stroke-width="0.7"/>
<circle cx="206.6" cy="178" r="1.35" fill="#141414" stroke="#141414" stroke-width="0.7"/>
<circle cx="207.6" cy="190.5" r="1.35" fill="#141414" stroke="#141414" stroke-width="0.7"/>
<circle cx="208.1" cy="189.5" r="1.35" fill="#141414" stroke="#141414" stroke-width="0.7"/>
<circle cx="140.1" cy="158.5" r="1.35" fill="#4a86e0" stroke="#4a86e0" stroke-width="0.7"/>
<circle cx="200.7" cy="190.3" r="1.15" fill="#fff" stroke="#4a86e0" stroke-width="0.7"/>
<circle cx="203.8" cy="194.5" r="1.15" fill="#fff" stroke="#4a86e0" stroke-width="0.7"/>
<circle cx="208.5" cy="201.4" r="1.15" fill="#fff" stroke="#4a86e0" stroke-width="0.7"/>
<circle cx="205.5" cy="209" r="1.15" fill="#fff" stroke="#4a86e0" stroke-width="0.7"/>
<circle cx="207" cy="207.5" r="1.15" fill="#fff" stroke="#4a86e0" stroke-width="0.7"/>
<path d="M320.3 202.3 L321.9 202.8 L323.5 204.7 L325.1 202.3 L326.7 202.5 L328.3 203 L329.9 206.5 L331.5 202.6 L333.1 203.2 L334.7 204 L336.3 200.4 L337.9 201.5 L339.5 200.4 L341.1 207 L342.7 203.5 L344.3 200.1 L345.9 205 L347.5 204.9 L349.1 203.3 L350.7 203.1 L352.3 207.5 L353.9 200 L355.5 202.6 L357.1 200.2 L358.7 200.9 L360.3 201.2 L361.9 200.1 L363.5 202.3 L365.1 202.2 L366.7 204.3 L368.3 202.6 L369.9 203.2 L371.5 206 L373.1 203.3 L374.7 202.3 L376.3 201.3 L377.9 205.1 L379.5 205.1 L381.1 204.3 L382.7 203.6 L384.3 201.5 L385.9 201.1 L387.5 201.4 L389.1 200.3 L390.7 203.9 L392.3 202 L393.9 204.3 L395.5 201.9 L397.1 204.9 L398.7 204.3 L400.3 199.9 L401.9 201 L403.5 204.6 L405.8 197.3 L407.7 200 L409.5 197.3 L411.8 195.4 L413.7 199.1 L415.6 201.9 L417.4 198.7 L419.3 197.3 L420.7 191.7 L422 186.1 L423.4 183.3 L424.8 188.9 L425.8 194.5" fill="none" stroke="#cf2a3e" stroke-width="1.2" stroke-linejoin="round"/>
<circle cx="320.3" cy="202.3" r="1.15" fill="#fff" stroke="#cf2a3e" stroke-width="0.7"/>
<circle cx="321.9" cy="202.8" r="1.15" fill="#fff" stroke="#cf2a3e" stroke-width="0.7"/>
<circle cx="323.5" cy="204.7" r="1.15" fill="#fff" stroke="#cf2a3e" stroke-width="0.7"/>
<circle cx="325.1" cy="202.3" r="1.15" fill="#fff" stroke="#cf2a3e" stroke-width="0.7"/>
<circle cx="326.7" cy="202.5" r="1.15" fill="#fff" stroke="#cf2a3e" stroke-width="0.7"/>
<circle cx="328.3" cy="203" r="1.15" fill="#fff" stroke="#cf2a3e" stroke-width="0.7"/>
<circle cx="329.9" cy="206.5" r="1.15" fill="#fff" stroke="#cf2a3e" stroke-width="0.7"/>
<circle cx="331.5" cy="202.6" r="1.15" fill="#fff" stroke="#cf2a3e" stroke-width="0.7"/>
<circle cx="333.1" cy="203.2" r="1.15" fill="#fff" stroke="#cf2a3e" stroke-width="0.7"/>
<circle cx="334.7" cy="204" r="1.15" fill="#fff" stroke="#cf2a3e" stroke-width="0.7"/>
<circle cx="336.3" cy="200.4" r="1.15" fill="#fff" stroke="#cf2a3e" stroke-width="0.7"/>
<circle cx="337.9" cy="201.5" r="1.15" fill="#fff" stroke="#cf2a3e" stroke-width="0.7"/>
<circle cx="339.5" cy="200.4" r="1.15" fill="#fff" stroke="#cf2a3e" stroke-width="0.7"/>
<circle cx="341.1" cy="207" r="1.15" fill="#fff" stroke="#cf2a3e" stroke-width="0.7"/>
<circle cx="342.7" cy="203.5" r="1.15" fill="#fff" stroke="#cf2a3e" stroke-width="0.7"/>
<circle cx="344.3" cy="200.1" r="1.15" fill="#fff" stroke="#cf2a3e" stroke-width="0.7"/>
<circle cx="345.9" cy="205" r="1.15" fill="#fff" stroke="#cf2a3e" stroke-width="0.7"/>
<circle cx="347.5" cy="204.9" r="1.15" fill="#fff" stroke="#cf2a3e" stroke-width="0.7"/>
<circle cx="349.1" cy="203.3" r="1.15" fill="#fff" stroke="#cf2a3e" stroke-width="0.7"/>
<circle cx="350.7" cy="203.1" r="1.15" fill="#fff" stroke="#cf2a3e" stroke-width="0.7"/>
<circle cx="352.3" cy="207.5" r="1.15" fill="#fff" stroke="#cf2a3e" stroke-width="0.7"/>
<circle cx="353.9" cy="200" r="1.15" fill="#fff" stroke="#cf2a3e" stroke-width="0.7"/>
<circle cx="355.5" cy="202.6" r="1.15" fill="#fff" stroke="#cf2a3e" stroke-width="0.7"/>
<circle cx="357.1" cy="200.2" r="1.15" fill="#fff" stroke="#cf2a3e" stroke-width="0.7"/>
<circle cx="358.7" cy="200.9" r="1.15" fill="#fff" stroke="#cf2a3e" stroke-width="0.7"/>
<circle cx="360.3" cy="201.2" r="1.15" fill="#fff" stroke="#cf2a3e" stroke-width="0.7"/>
<circle cx="361.9" cy="200.1" r="1.15" fill="#fff" stroke="#cf2a3e" stroke-width="0.7"/>
<circle cx="363.5" cy="202.3" r="1.15" fill="#fff" stroke="#cf2a3e" stroke-width="0.7"/>
<circle cx="365.1" cy="202.2" r="1.15" fill="#fff" stroke="#cf2a3e" stroke-width="0.7"/>
<circle cx="366.7" cy="204.3" r="1.15" fill="#fff" stroke="#cf2a3e" stroke-width="0.7"/>
<circle cx="368.3" cy="202.6" r="1.15" fill="#fff" stroke="#cf2a3e" stroke-width="0.7"/>
<circle cx="369.9" cy="203.2" r="1.15" fill="#fff" stroke="#cf2a3e" stroke-width="0.7"/>
<circle cx="371.5" cy="206" r="1.15" fill="#fff" stroke="#cf2a3e" stroke-width="0.7"/>
<circle cx="373.1" cy="203.3" r="1.15" fill="#fff" stroke="#cf2a3e" stroke-width="0.7"/>
<circle cx="374.7" cy="202.3" r="1.15" fill="#fff" stroke="#cf2a3e" stroke-width="0.7"/>
<circle cx="376.3" cy="201.3" r="1.15" fill="#fff" stroke="#cf2a3e" stroke-width="0.7"/>
<circle cx="377.9" cy="205.1" r="1.15" fill="#fff" stroke="#cf2a3e" stroke-width="0.7"/>
<circle cx="379.5" cy="205.1" r="1.15" fill="#fff" stroke="#cf2a3e" stroke-width="0.7"/>
<circle cx="381.1" cy="204.3" r="1.15" fill="#fff" stroke="#cf2a3e" stroke-width="0.7"/>
<circle cx="382.7" cy="203.6" r="1.15" fill="#fff" stroke="#cf2a3e" stroke-width="0.7"/>
<circle cx="384.3" cy="201.5" r="1.15" fill="#fff" stroke="#cf2a3e" stroke-width="0.7"/>
<circle cx="385.9" cy="201.1" r="1.15" fill="#fff" stroke="#cf2a3e" stroke-width="0.7"/>
<circle cx="387.5" cy="201.4" r="1.15" fill="#fff" stroke="#cf2a3e" stroke-width="0.7"/>
<circle cx="389.1" cy="200.3" r="1.15" fill="#fff" stroke="#cf2a3e" stroke-width="0.7"/>
<circle cx="390.7" cy="203.9" r="1.15" fill="#fff" stroke="#cf2a3e" stroke-width="0.7"/>
<circle cx="392.3" cy="202" r="1.15" fill="#fff" stroke="#cf2a3e" stroke-width="0.7"/>
<circle cx="393.9" cy="204.3" r="1.15" fill="#fff" stroke="#cf2a3e" stroke-width="0.7"/>
<circle cx="395.5" cy="201.9" r="1.15" fill="#fff" stroke="#cf2a3e" stroke-width="0.7"/>
<circle cx="397.1" cy="204.9" r="1.15" fill="#fff" stroke="#cf2a3e" stroke-width="0.7"/>
<circle cx="398.7" cy="204.3" r="1.15" fill="#fff" stroke="#cf2a3e" stroke-width="0.7"/>
<circle cx="400.3" cy="199.9" r="1.15" fill="#fff" stroke="#cf2a3e" stroke-width="0.7"/>
<circle cx="401.9" cy="201" r="1.15" fill="#fff" stroke="#cf2a3e" stroke-width="0.7"/>
<circle cx="403.5" cy="204.6" r="1.15" fill="#fff" stroke="#cf2a3e" stroke-width="0.7"/>
<circle cx="405.8" cy="197.3" r="1.15" fill="#fff" stroke="#cf2a3e" stroke-width="0.7"/>
<circle cx="407.7" cy="200" r="1.15" fill="#fff" stroke="#cf2a3e" stroke-width="0.7"/>
<circle cx="409.5" cy="197.3" r="1.15" fill="#fff" stroke="#cf2a3e" stroke-width="0.7"/>
<circle cx="411.8" cy="195.4" r="1.15" fill="#fff" stroke="#cf2a3e" stroke-width="0.7"/>
<circle cx="413.7" cy="199.1" r="1.15" fill="#fff" stroke="#cf2a3e" stroke-width="0.7"/>
<circle cx="415.6" cy="201.9" r="1.15" fill="#fff" stroke="#cf2a3e" stroke-width="0.7"/>
<circle cx="417.4" cy="198.7" r="1.15" fill="#fff" stroke="#cf2a3e" stroke-width="0.7"/>
<circle cx="419.3" cy="197.3" r="1.15" fill="#fff" stroke="#cf2a3e" stroke-width="0.7"/>
<circle cx="420.7" cy="191.7" r="1.15" fill="#fff" stroke="#cf2a3e" stroke-width="0.7"/>
<circle cx="422" cy="186.1" r="1.35" fill="#cf2a3e" stroke="#cf2a3e" stroke-width="0.7"/>
<circle cx="423.4" cy="183.3" r="1.35" fill="#cf2a3e" stroke="#cf2a3e" stroke-width="0.7"/>
<circle cx="424.8" cy="188.9" r="1.15" fill="#fff" stroke="#cf2a3e" stroke-width="0.7"/>
<circle cx="425.8" cy="194.5" r="1.15" fill="#fff" stroke="#cf2a3e" stroke-width="0.7"/>
<path d="M321.1 199.7 L322 192.8 L323.3 195.4 L324.6 189 L325.8 193.7 L327.1 192 L328.4 195.4 L329.5 200.5 L331 192 L332.1 197.1 L333.1 199.7 L334.4 195.4 L335.5 186.8 L336.5 198.8 L337.8 203.1 L339.5 199.7 L341.7 198.8 L343.8 195.8 L345.1 199.7 L346.8 202.3 L348.5 210 L349.4 213.4 L350.2 204.8 L352 195 L353.2 197.1 L354.5 198.4 L355.8 202.3 L356.9 209.5 L357.9 197.1 L359.2 196.3 L360.7 198.4 L361.8 192.8 L363.1 192.8 L364.4 199.7 L365.5 202.3 L366.9 197.1 L368.2 194.5 L368.7 206.5 L370 199 L371.5 194.5 L372.8 201 L374.3 198.2 L376 202 L378.5 205.6 L380.5 199 L382 202 L383.6 195.4 L386.3 199.1 L389.1 197.3 L392.8 199.1 L395.1 207.5 L397 195 L399.3 199.1 L402.1 199.1 L404.4 192.2 L404.7 174.7 L406 148.2 L407.2 126.6 L408 111.9 L409.2 113.4 L410.3 114.9 L411.3 115.9 L411.1 121.5 L411.8 117 L412.8 132.7 L414.5 146.3 L415.3 129.7 L416.4 120.5 L417.2 106.3 L418.9 105.8 L419.9 110.3 L420.9 107.3 L422 105.3 L423.3 103.2 L424 102.7 L424.7 109.8 L425.5 116.4" fill="none" stroke="#141414" stroke-width="1.2" stroke-linejoin="round"/>
<circle cx="321.1" cy="199.7" r="1.15" fill="#fff" stroke="#141414" stroke-width="0.7"/>
<circle cx="322" cy="192.8" r="1.15" fill="#fff" stroke="#141414" stroke-width="0.7"/>
<circle cx="323.3" cy="195.4" r="1.15" fill="#fff" stroke="#141414" stroke-width="0.7"/>
<circle cx="324.6" cy="189" r="1.35" fill="#141414" stroke="#141414" stroke-width="0.7"/>
<circle cx="325.8" cy="193.7" r="1.15" fill="#fff" stroke="#141414" stroke-width="0.7"/>
<circle cx="327.1" cy="192" r="1.15" fill="#fff" stroke="#141414" stroke-width="0.7"/>
<circle cx="328.4" cy="195.4" r="1.15" fill="#fff" stroke="#141414" stroke-width="0.7"/>
<circle cx="329.5" cy="200.5" r="1.15" fill="#fff" stroke="#141414" stroke-width="0.7"/>
<circle cx="331" cy="192" r="1.35" fill="#141414" stroke="#141414" stroke-width="0.7"/>
<circle cx="332.1" cy="197.1" r="1.15" fill="#fff" stroke="#141414" stroke-width="0.7"/>
<circle cx="333.1" cy="199.7" r="1.15" fill="#fff" stroke="#141414" stroke-width="0.7"/>
<circle cx="334.4" cy="195.4" r="1.15" fill="#fff" stroke="#141414" stroke-width="0.7"/>
<circle cx="335.5" cy="186.8" r="1.35" fill="#141414" stroke="#141414" stroke-width="0.7"/>
<circle cx="336.5" cy="198.8" r="1.15" fill="#fff" stroke="#141414" stroke-width="0.7"/>
<circle cx="337.8" cy="203.1" r="1.15" fill="#fff" stroke="#141414" stroke-width="0.7"/>
<circle cx="339.5" cy="199.7" r="1.15" fill="#fff" stroke="#141414" stroke-width="0.7"/>
<circle cx="341.7" cy="198.8" r="1.15" fill="#fff" stroke="#141414" stroke-width="0.7"/>
<circle cx="343.8" cy="195.8" r="1.15" fill="#fff" stroke="#141414" stroke-width="0.7"/>
<circle cx="345.1" cy="199.7" r="1.15" fill="#fff" stroke="#141414" stroke-width="0.7"/>
<circle cx="346.8" cy="202.3" r="1.15" fill="#fff" stroke="#141414" stroke-width="0.7"/>
<circle cx="348.5" cy="210" r="1.15" fill="#fff" stroke="#141414" stroke-width="0.7"/>
<circle cx="349.4" cy="213.4" r="1.15" fill="#fff" stroke="#141414" stroke-width="0.7"/>
<circle cx="350.2" cy="204.8" r="1.15" fill="#fff" stroke="#141414" stroke-width="0.7"/>
<circle cx="352" cy="195" r="1.35" fill="#141414" stroke="#141414" stroke-width="0.7"/>
<circle cx="353.2" cy="197.1" r="1.15" fill="#fff" stroke="#141414" stroke-width="0.7"/>
<circle cx="354.5" cy="198.4" r="1.15" fill="#fff" stroke="#141414" stroke-width="0.7"/>
<circle cx="355.8" cy="202.3" r="1.15" fill="#fff" stroke="#141414" stroke-width="0.7"/>
<circle cx="356.9" cy="209.5" r="1.15" fill="#fff" stroke="#141414" stroke-width="0.7"/>
<circle cx="357.9" cy="197.1" r="1.15" fill="#fff" stroke="#141414" stroke-width="0.7"/>
<circle cx="359.2" cy="196.3" r="1.15" fill="#fff" stroke="#141414" stroke-width="0.7"/>
<circle cx="360.7" cy="198.4" r="1.15" fill="#fff" stroke="#141414" stroke-width="0.7"/>
<circle cx="361.8" cy="192.8" r="1.35" fill="#141414" stroke="#141414" stroke-width="0.7"/>
<circle cx="363.1" cy="192.8" r="1.15" fill="#fff" stroke="#141414" stroke-width="0.7"/>
<circle cx="364.4" cy="199.7" r="1.15" fill="#fff" stroke="#141414" stroke-width="0.7"/>
<circle cx="365.5" cy="202.3" r="1.15" fill="#fff" stroke="#141414" stroke-width="0.7"/>
<circle cx="366.9" cy="197.1" r="1.15" fill="#fff" stroke="#141414" stroke-width="0.7"/>
<circle cx="368.2" cy="194.5" r="1.35" fill="#141414" stroke="#141414" stroke-width="0.7"/>
<circle cx="368.7" cy="206.5" r="1.15" fill="#fff" stroke="#141414" stroke-width="0.7"/>
<circle cx="370" cy="199" r="1.15" fill="#fff" stroke="#141414" stroke-width="0.7"/>
<circle cx="371.5" cy="194.5" r="1.35" fill="#141414" stroke="#141414" stroke-width="0.7"/>
<circle cx="372.8" cy="201" r="1.15" fill="#fff" stroke="#141414" stroke-width="0.7"/>
<circle cx="374.3" cy="198.2" r="1.15" fill="#fff" stroke="#141414" stroke-width="0.7"/>
<circle cx="376" cy="202" r="1.15" fill="#fff" stroke="#141414" stroke-width="0.7"/>
<circle cx="378.5" cy="205.6" r="1.15" fill="#fff" stroke="#141414" stroke-width="0.7"/>
<circle cx="380.5" cy="199" r="1.15" fill="#fff" stroke="#141414" stroke-width="0.7"/>
<circle cx="382" cy="202" r="1.15" fill="#fff" stroke="#141414" stroke-width="0.7"/>
<circle cx="383.6" cy="195.4" r="1.35" fill="#141414" stroke="#141414" stroke-width="0.7"/>
<circle cx="386.3" cy="199.1" r="1.15" fill="#fff" stroke="#141414" stroke-width="0.7"/>
<circle cx="389.1" cy="197.3" r="1.15" fill="#fff" stroke="#141414" stroke-width="0.7"/>
<circle cx="392.8" cy="199.1" r="1.15" fill="#fff" stroke="#141414" stroke-width="0.7"/>
<circle cx="395.1" cy="207.5" r="1.15" fill="#fff" stroke="#141414" stroke-width="0.7"/>
<circle cx="397" cy="195" r="1.35" fill="#141414" stroke="#141414" stroke-width="0.7"/>
<circle cx="399.3" cy="199.1" r="1.15" fill="#fff" stroke="#141414" stroke-width="0.7"/>
<circle cx="402.1" cy="199.1" r="1.15" fill="#fff" stroke="#141414" stroke-width="0.7"/>
<circle cx="404.4" cy="192.2" r="1.35" fill="#141414" stroke="#141414" stroke-width="0.7"/>
<circle cx="404.7" cy="174.7" r="1.35" fill="#141414" stroke="#141414" stroke-width="0.7"/>
<circle cx="406" cy="148.2" r="1.15" fill="#fff" stroke="#141414" stroke-width="0.7"/>
<circle cx="407.2" cy="126.6" r="1.35" fill="#141414" stroke="#141414" stroke-width="0.7"/>
<circle cx="408" cy="111.9" r="1.35" fill="#141414" stroke="#141414" stroke-width="0.7"/>
<circle cx="409.2" cy="113.4" r="1.35" fill="#141414" stroke="#141414" stroke-width="0.7"/>
<circle cx="410.3" cy="114.9" r="1.15" fill="#fff" stroke="#141414" stroke-width="0.7"/>
<circle cx="411.3" cy="115.9" r="1.35" fill="#141414" stroke="#141414" stroke-width="0.7"/>
<circle cx="411.1" cy="121.5" r="1.35" fill="#141414" stroke="#141414" stroke-width="0.7"/>
<circle cx="411.8" cy="117" r="1.35" fill="#141414" stroke="#141414" stroke-width="0.7"/>
<circle cx="412.8" cy="132.7" r="1.35" fill="#141414" stroke="#141414" stroke-width="0.7"/>
<circle cx="414.5" cy="146.3" r="1.35" fill="#141414" stroke="#141414" stroke-width="0.7"/>
<circle cx="415.3" cy="129.7" r="1.35" fill="#141414" stroke="#141414" stroke-width="0.7"/>
<circle cx="416.4" cy="120.5" r="1.35" fill="#141414" stroke="#141414" stroke-width="0.7"/>
<circle cx="417.2" cy="106.3" r="1.35" fill="#141414" stroke="#141414" stroke-width="0.7"/>
<circle cx="418.9" cy="105.8" r="1.35" fill="#141414" stroke="#141414" stroke-width="0.7"/>
<circle cx="419.9" cy="110.3" r="1.35" fill="#141414" stroke="#141414" stroke-width="0.7"/>
<circle cx="420.9" cy="107.3" r="1.35" fill="#141414" stroke="#141414" stroke-width="0.7"/>
<circle cx="422" cy="105.3" r="1.35" fill="#141414" stroke="#141414" stroke-width="0.7"/>
<circle cx="423.3" cy="103.2" r="1.35" fill="#141414" stroke="#141414" stroke-width="0.7"/>
<circle cx="424" cy="102.7" r="1.35" fill="#141414" stroke="#141414" stroke-width="0.7"/>
<circle cx="424.7" cy="109.8" r="1.35" fill="#141414" stroke="#141414" stroke-width="0.7"/>
<circle cx="425.5" cy="116.4" r="1.35" fill="#141414" stroke="#141414" stroke-width="0.7"/>
<path d="M385.9 192.2 L388.2 193.1 L390.5 189.4 L392.8 193.6 L395.1 196.3 L397.5 197.3 L399.8 199.1 L402.1 198.2 L404 194.5 L404.9 210.3 L405.8 212.1 L407.2 211.2 L408.6 205.6 L409.3 198.2 L410.3 212.1 L411.4 213 L412.3 210.3 L413.4 212.1 L414.6 209.3 L415.8 212.1 L417 194.5 L417.7 190.3 L418.6 212.1 L419.7 210.3 L420.7 212.1 L422 205.6 L423.4 188.9 L423.9 180.6 L424.8 198.2 L425.8 209.3" fill="none" stroke="#4a86e0" stroke-width="1.2" stroke-linejoin="round"/>
<circle cx="385.9" cy="192.2" r="1.35" fill="#4a86e0" stroke="#4a86e0" stroke-width="0.7"/>
<circle cx="388.2" cy="193.1" r="1.35" fill="#4a86e0" stroke="#4a86e0" stroke-width="0.7"/>
<circle cx="390.5" cy="189.4" r="1.35" fill="#4a86e0" stroke="#4a86e0" stroke-width="0.7"/>
<circle cx="392.8" cy="193.6" r="1.15" fill="#fff" stroke="#4a86e0" stroke-width="0.7"/>
<circle cx="395.1" cy="196.3" r="1.35" fill="#4a86e0" stroke="#4a86e0" stroke-width="0.7"/>
<circle cx="397.5" cy="197.3" r="1.15" fill="#fff" stroke="#4a86e0" stroke-width="0.7"/>
<circle cx="399.8" cy="199.1" r="1.15" fill="#fff" stroke="#4a86e0" stroke-width="0.7"/>
<circle cx="402.1" cy="198.2" r="1.15" fill="#fff" stroke="#4a86e0" stroke-width="0.7"/>
<circle cx="404" cy="194.5" r="1.35" fill="#4a86e0" stroke="#4a86e0" stroke-width="0.7"/>
<circle cx="404.9" cy="210.3" r="1.15" fill="#fff" stroke="#4a86e0" stroke-width="0.7"/>
<circle cx="405.8" cy="212.1" r="1.15" fill="#fff" stroke="#4a86e0" stroke-width="0.7"/>
<circle cx="407.2" cy="211.2" r="1.15" fill="#fff" stroke="#4a86e0" stroke-width="0.7"/>
<circle cx="408.6" cy="205.6" r="1.15" fill="#fff" stroke="#4a86e0" stroke-width="0.7"/>
<circle cx="409.3" cy="198.2" r="1.35" fill="#4a86e0" stroke="#4a86e0" stroke-width="0.7"/>
<circle cx="410.3" cy="212.1" r="1.15" fill="#fff" stroke="#4a86e0" stroke-width="0.7"/>
<circle cx="411.4" cy="213" r="1.15" fill="#fff" stroke="#4a86e0" stroke-width="0.7"/>
<circle cx="412.3" cy="210.3" r="1.15" fill="#fff" stroke="#4a86e0" stroke-width="0.7"/>
<circle cx="413.4" cy="212.1" r="1.15" fill="#fff" stroke="#4a86e0" stroke-width="0.7"/>
<circle cx="414.6" cy="209.3" r="1.15" fill="#fff" stroke="#4a86e0" stroke-width="0.7"/>
<circle cx="415.8" cy="212.1" r="1.15" fill="#fff" stroke="#4a86e0" stroke-width="0.7"/>
<circle cx="417" cy="194.5" r="1.35" fill="#4a86e0" stroke="#4a86e0" stroke-width="0.7"/>
<circle cx="417.7" cy="190.3" r="1.35" fill="#4a86e0" stroke="#4a86e0" stroke-width="0.7"/>
<circle cx="418.6" cy="212.1" r="1.15" fill="#fff" stroke="#4a86e0" stroke-width="0.7"/>
<circle cx="419.7" cy="210.3" r="1.15" fill="#fff" stroke="#4a86e0" stroke-width="0.7"/>
<circle cx="420.7" cy="212.1" r="1.15" fill="#fff" stroke="#4a86e0" stroke-width="0.7"/>
<circle cx="422" cy="205.6" r="1.15" fill="#fff" stroke="#4a86e0" stroke-width="0.7"/>
<circle cx="423.4" cy="188.9" r="1.15" fill="#fff" stroke="#4a86e0" stroke-width="0.7"/>
<circle cx="423.9" cy="180.6" r="1.35" fill="#4a86e0" stroke="#4a86e0" stroke-width="0.7"/>
<circle cx="424.8" cy="198.2" r="1.15" fill="#fff" stroke="#4a86e0" stroke-width="0.7"/>
<circle cx="425.8" cy="209.3" r="1.15" fill="#fff" stroke="#4a86e0" stroke-width="0.7"/>
<path d="M516.6 174.7 L517.6 171.2 L519.1 169.6 L520.7 169.1 L522 172.2 L523.2 174.7 L524.7 170.1 L525.8 169.6 L527.3 172.7 L528.5 174.7 L529.3 167.6 L530.1 157.4 L532.1 176.8 L533.5 174 L535.3 172.5 L537.5 163.9 L539.6 177.8 L541.7 183.2 L543.2 176 L544.9 169.3 L546 187.4 L547.5 182 L548.8 177.8 L551.3 166 L553.5 176.8 L556 174.6 L557.5 169 L558.8 166 L561 173.5 L563.1 183.2 L565.2 166 L567.4 172.5 L569.5 175.7 L571.7 182.2 L573.8 167.1 L575 162 L576.1 160.8 L577.2 173.1 L578.9 167.5 L580 161.9 L580.8 139 L581.7 167.5 L582.6 149.6 L583.7 159.7 L585.1 164.7 L586.2 170.3 L587.3 166.4 L588.4 155.8 L589.5 163.6 L590.7 169.2 L592.3 170.3 L594 167 L595.7 163.6 L596.8 160.8 L597.6 158.6 L598.5 149.6 L599.4 175.3 L600.5 154.1 L601.6 158.6 L602.7 154.6 L603.9 145.1 L605 167.5 L606.1 173.1 L607.7 145.7 L608.8 160.8 L610.2 167.5 L611.9 165.3 L613.6 163 L614.7 169.7 L615.8 172 L617.3 177.6 L618.6 173.1 L620.3 161.9 L621.8 167.5 L622.9 172 L624.2 163 L625.3 177.6 L626.2 155.2 L627.6 161.9 L629.6 156.3 L630.9 160.8 L632.6 170.9 L634.3 174.2 L636 172 L637.6 174.2 L639.3 176.5 L640.8 160.8 L641.8 151.3 L642.7 134.8" fill="none" stroke="#cf2a3e" stroke-width="1.2" stroke-linejoin="round"/>
<circle cx="516.6" cy="174.7" r="1.15" fill="#fff" stroke="#cf2a3e" stroke-width="0.7"/>
<circle cx="517.6" cy="171.2" r="1.15" fill="#fff" stroke="#cf2a3e" stroke-width="0.7"/>
<circle cx="519.1" cy="169.6" r="1.15" fill="#fff" stroke="#cf2a3e" stroke-width="0.7"/>
<circle cx="520.7" cy="169.1" r="1.15" fill="#fff" stroke="#cf2a3e" stroke-width="0.7"/>
<circle cx="522" cy="172.2" r="1.15" fill="#fff" stroke="#cf2a3e" stroke-width="0.7"/>
<circle cx="523.2" cy="174.7" r="1.15" fill="#fff" stroke="#cf2a3e" stroke-width="0.7"/>
<circle cx="524.7" cy="170.1" r="1.15" fill="#fff" stroke="#cf2a3e" stroke-width="0.7"/>
<circle cx="525.8" cy="169.6" r="1.15" fill="#fff" stroke="#cf2a3e" stroke-width="0.7"/>
<circle cx="527.3" cy="172.7" r="1.15" fill="#fff" stroke="#cf2a3e" stroke-width="0.7"/>
<circle cx="528.5" cy="174.7" r="1.15" fill="#fff" stroke="#cf2a3e" stroke-width="0.7"/>
<circle cx="529.3" cy="167.6" r="1.15" fill="#fff" stroke="#cf2a3e" stroke-width="0.7"/>
<circle cx="530.1" cy="157.4" r="1.35" fill="#cf2a3e" stroke="#cf2a3e" stroke-width="0.7"/>
<circle cx="532.1" cy="176.8" r="1.15" fill="#fff" stroke="#cf2a3e" stroke-width="0.7"/>
<circle cx="533.5" cy="174" r="1.15" fill="#fff" stroke="#cf2a3e" stroke-width="0.7"/>
<circle cx="535.3" cy="172.5" r="1.15" fill="#fff" stroke="#cf2a3e" stroke-width="0.7"/>
<circle cx="537.5" cy="163.9" r="1.15" fill="#fff" stroke="#cf2a3e" stroke-width="0.7"/>
<circle cx="539.6" cy="177.8" r="1.15" fill="#fff" stroke="#cf2a3e" stroke-width="0.7"/>
<circle cx="541.7" cy="183.2" r="1.15" fill="#fff" stroke="#cf2a3e" stroke-width="0.7"/>
<circle cx="543.2" cy="176" r="1.15" fill="#fff" stroke="#cf2a3e" stroke-width="0.7"/>
<circle cx="544.9" cy="169.3" r="1.15" fill="#fff" stroke="#cf2a3e" stroke-width="0.7"/>
<circle cx="546" cy="187.4" r="1.15" fill="#fff" stroke="#cf2a3e" stroke-width="0.7"/>
<circle cx="547.5" cy="182" r="1.15" fill="#fff" stroke="#cf2a3e" stroke-width="0.7"/>
<circle cx="548.8" cy="177.8" r="1.15" fill="#fff" stroke="#cf2a3e" stroke-width="0.7"/>
<circle cx="551.3" cy="166" r="1.15" fill="#fff" stroke="#cf2a3e" stroke-width="0.7"/>
<circle cx="553.5" cy="176.8" r="1.15" fill="#fff" stroke="#cf2a3e" stroke-width="0.7"/>
<circle cx="556" cy="174.6" r="1.15" fill="#fff" stroke="#cf2a3e" stroke-width="0.7"/>
<circle cx="557.5" cy="169" r="1.15" fill="#fff" stroke="#cf2a3e" stroke-width="0.7"/>
<circle cx="558.8" cy="166" r="1.15" fill="#fff" stroke="#cf2a3e" stroke-width="0.7"/>
<circle cx="561" cy="173.5" r="1.15" fill="#fff" stroke="#cf2a3e" stroke-width="0.7"/>
<circle cx="563.1" cy="183.2" r="1.15" fill="#fff" stroke="#cf2a3e" stroke-width="0.7"/>
<circle cx="565.2" cy="166" r="1.15" fill="#fff" stroke="#cf2a3e" stroke-width="0.7"/>
<circle cx="567.4" cy="172.5" r="1.15" fill="#fff" stroke="#cf2a3e" stroke-width="0.7"/>
<circle cx="569.5" cy="175.7" r="1.15" fill="#fff" stroke="#cf2a3e" stroke-width="0.7"/>
<circle cx="571.7" cy="182.2" r="1.15" fill="#fff" stroke="#cf2a3e" stroke-width="0.7"/>
<circle cx="573.8" cy="167.1" r="1.15" fill="#fff" stroke="#cf2a3e" stroke-width="0.7"/>
<circle cx="575" cy="162" r="1.15" fill="#fff" stroke="#cf2a3e" stroke-width="0.7"/>
<circle cx="576.1" cy="160.8" r="1.15" fill="#fff" stroke="#cf2a3e" stroke-width="0.7"/>
<circle cx="577.2" cy="173.1" r="1.15" fill="#fff" stroke="#cf2a3e" stroke-width="0.7"/>
<circle cx="578.9" cy="167.5" r="1.15" fill="#fff" stroke="#cf2a3e" stroke-width="0.7"/>
<circle cx="580" cy="161.9" r="1.15" fill="#fff" stroke="#cf2a3e" stroke-width="0.7"/>
<circle cx="580.8" cy="139" r="1.35" fill="#cf2a3e" stroke="#cf2a3e" stroke-width="0.7"/>
<circle cx="581.7" cy="167.5" r="1.15" fill="#fff" stroke="#cf2a3e" stroke-width="0.7"/>
<circle cx="582.6" cy="149.6" r="1.35" fill="#cf2a3e" stroke="#cf2a3e" stroke-width="0.7"/>
<circle cx="583.7" cy="159.7" r="1.15" fill="#fff" stroke="#cf2a3e" stroke-width="0.7"/>
<circle cx="585.1" cy="164.7" r="1.15" fill="#fff" stroke="#cf2a3e" stroke-width="0.7"/>
<circle cx="586.2" cy="170.3" r="1.15" fill="#fff" stroke="#cf2a3e" stroke-width="0.7"/>
<circle cx="587.3" cy="166.4" r="1.15" fill="#fff" stroke="#cf2a3e" stroke-width="0.7"/>
<circle cx="588.4" cy="155.8" r="1.35" fill="#cf2a3e" stroke="#cf2a3e" stroke-width="0.7"/>
<circle cx="589.5" cy="163.6" r="1.15" fill="#fff" stroke="#cf2a3e" stroke-width="0.7"/>
<circle cx="590.7" cy="169.2" r="1.15" fill="#fff" stroke="#cf2a3e" stroke-width="0.7"/>
<circle cx="592.3" cy="170.3" r="1.15" fill="#fff" stroke="#cf2a3e" stroke-width="0.7"/>
<circle cx="594" cy="167" r="1.15" fill="#fff" stroke="#cf2a3e" stroke-width="0.7"/>
<circle cx="595.7" cy="163.6" r="1.15" fill="#fff" stroke="#cf2a3e" stroke-width="0.7"/>
<circle cx="596.8" cy="160.8" r="1.15" fill="#fff" stroke="#cf2a3e" stroke-width="0.7"/>
<circle cx="597.6" cy="158.6" r="1.15" fill="#fff" stroke="#cf2a3e" stroke-width="0.7"/>
<circle cx="598.5" cy="149.6" r="1.35" fill="#cf2a3e" stroke="#cf2a3e" stroke-width="0.7"/>
<circle cx="599.4" cy="175.3" r="1.15" fill="#fff" stroke="#cf2a3e" stroke-width="0.7"/>
<circle cx="600.5" cy="154.1" r="1.35" fill="#cf2a3e" stroke="#cf2a3e" stroke-width="0.7"/>
<circle cx="601.6" cy="158.6" r="1.15" fill="#fff" stroke="#cf2a3e" stroke-width="0.7"/>
<circle cx="602.7" cy="154.6" r="1.15" fill="#fff" stroke="#cf2a3e" stroke-width="0.7"/>
<circle cx="603.9" cy="145.1" r="1.35" fill="#cf2a3e" stroke="#cf2a3e" stroke-width="0.7"/>
<circle cx="605" cy="167.5" r="1.15" fill="#fff" stroke="#cf2a3e" stroke-width="0.7"/>
<circle cx="606.1" cy="173.1" r="1.15" fill="#fff" stroke="#cf2a3e" stroke-width="0.7"/>
<circle cx="607.7" cy="145.7" r="1.35" fill="#cf2a3e" stroke="#cf2a3e" stroke-width="0.7"/>
<circle cx="608.8" cy="160.8" r="1.15" fill="#fff" stroke="#cf2a3e" stroke-width="0.7"/>
<circle cx="610.2" cy="167.5" r="1.15" fill="#fff" stroke="#cf2a3e" stroke-width="0.7"/>
<circle cx="611.9" cy="165.3" r="1.15" fill="#fff" stroke="#cf2a3e" stroke-width="0.7"/>
<circle cx="613.6" cy="163" r="1.15" fill="#fff" stroke="#cf2a3e" stroke-width="0.7"/>
<circle cx="614.7" cy="169.7" r="1.15" fill="#fff" stroke="#cf2a3e" stroke-width="0.7"/>
<circle cx="615.8" cy="172" r="1.15" fill="#fff" stroke="#cf2a3e" stroke-width="0.7"/>
<circle cx="617.3" cy="177.6" r="1.15" fill="#fff" stroke="#cf2a3e" stroke-width="0.7"/>
<circle cx="618.6" cy="173.1" r="1.15" fill="#fff" stroke="#cf2a3e" stroke-width="0.7"/>
<circle cx="620.3" cy="161.9" r="1.15" fill="#fff" stroke="#cf2a3e" stroke-width="0.7"/>
<circle cx="621.8" cy="167.5" r="1.15" fill="#fff" stroke="#cf2a3e" stroke-width="0.7"/>
<circle cx="622.9" cy="172" r="1.15" fill="#fff" stroke="#cf2a3e" stroke-width="0.7"/>
<circle cx="624.2" cy="163" r="1.15" fill="#fff" stroke="#cf2a3e" stroke-width="0.7"/>
<circle cx="625.3" cy="177.6" r="1.15" fill="#fff" stroke="#cf2a3e" stroke-width="0.7"/>
<circle cx="626.2" cy="155.2" r="1.35" fill="#cf2a3e" stroke="#cf2a3e" stroke-width="0.7"/>
<circle cx="627.6" cy="161.9" r="1.15" fill="#fff" stroke="#cf2a3e" stroke-width="0.7"/>
<circle cx="629.6" cy="156.3" r="1.35" fill="#cf2a3e" stroke="#cf2a3e" stroke-width="0.7"/>
<circle cx="630.9" cy="160.8" r="1.15" fill="#fff" stroke="#cf2a3e" stroke-width="0.7"/>
<circle cx="632.6" cy="170.9" r="1.15" fill="#fff" stroke="#cf2a3e" stroke-width="0.7"/>
<circle cx="634.3" cy="174.2" r="1.15" fill="#fff" stroke="#cf2a3e" stroke-width="0.7"/>
<circle cx="636" cy="172" r="1.15" fill="#fff" stroke="#cf2a3e" stroke-width="0.7"/>
<circle cx="637.6" cy="174.2" r="1.15" fill="#fff" stroke="#cf2a3e" stroke-width="0.7"/>
<circle cx="639.3" cy="176.5" r="1.15" fill="#fff" stroke="#cf2a3e" stroke-width="0.7"/>
<circle cx="640.8" cy="160.8" r="1.15" fill="#fff" stroke="#cf2a3e" stroke-width="0.7"/>
<circle cx="641.8" cy="151.3" r="1.35" fill="#cf2a3e" stroke="#cf2a3e" stroke-width="0.7"/>
<circle cx="642.7" cy="134.8" r="1.35" fill="#cf2a3e" stroke="#cf2a3e" stroke-width="0.7"/>
<path d="M516.7 209.6 L518 205 L519.2 207.5 L521.3 207 L522.8 208 L523.6 177.8 L524.5 222 L525.3 210.6 L526.8 208.5 L528.4 208.5 L529.9 208 L531.6 217.7 L532.6 206.5 L534 199.9 L535 212.6 L536.3 214.1 L537.3 205.5 L538.5 216.7 L539.6 209.6 L540.4 189.7 L541.4 205.5 L542.8 207.5 L544.1 211.6 L545.1 213.6 L545.9 195.3 L546.5 221.7 L547.7 211.6 L549.2 213.1 L550.7 214.1 L552.3 216.2 L553.6 221.7 L554.8 215.1 L556.3 211.6 L557.8 208.5 L558.7 202.4 L559.7 219.7 L560.7 204 L561.7 220.7 L562.9 211.6 L564.5 199.9 L565.8 217.7 L567 215.7 L568.2 202.4 L569.8 196.8 L570.9 198.4 L571.1 197.5 L572.7 215.6 L574.8 217.8 L576.2 192.1 L577.5 215.6 L579.1 186.8 L580.5 199.6 L581.8 203.9 L582.8 206.6 L583.9 210.3 L585 221 L586 215.6 L587.6 213.5 L589.3 209.2 L590.3 203.9 L591.2 198.5 L592.2 207.1 L593 221 L594.6 210.3 L596.2 209.2 L597.3 221 L598.3 210.3 L600 210.3 L601.6 219.9 L602.9 210.3 L604.4 221 L605.8 212.4 L607.4 215.6 L609 211.4 L610.1 207.1 L611.5 197.5 L612.8 221 L613.9 211.4 L615.5 215.6 L617.1 217.8 L618.7 213.5 L619.7 201.2 L620.8 217.8 L622.4 210.3 L624 217.8 L625.6 208.2 L627.2 219.9 L628.1 194.8 L629.4 217.8 L630.4 196.9 L631.8 207.1 L633.1 212.4 L634.2 215.6 L635.5 200.7 L636.8 215.6 L638.2 218.9 L639.5 213.5 L641.4 199.6 L642.7 192.1" fill="none" stroke="#141414" stroke-width="1.2" stroke-linejoin="round"/>
<circle cx="516.7" cy="209.6" r="1.15" fill="#fff" stroke="#141414" stroke-width="0.7"/>
<circle cx="518" cy="205" r="1.35" fill="#141414" stroke="#141414" stroke-width="0.7"/>
<circle cx="519.2" cy="207.5" r="1.15" fill="#fff" stroke="#141414" stroke-width="0.7"/>
<circle cx="521.3" cy="207" r="1.15" fill="#fff" stroke="#141414" stroke-width="0.7"/>
<circle cx="522.8" cy="208" r="1.15" fill="#fff" stroke="#141414" stroke-width="0.7"/>
<circle cx="523.6" cy="177.8" r="1.35" fill="#141414" stroke="#141414" stroke-width="0.7"/>
<circle cx="524.5" cy="222" r="1.15" fill="#fff" stroke="#141414" stroke-width="0.7"/>
<circle cx="525.3" cy="210.6" r="1.15" fill="#fff" stroke="#141414" stroke-width="0.7"/>
<circle cx="526.8" cy="208.5" r="1.15" fill="#fff" stroke="#141414" stroke-width="0.7"/>
<circle cx="528.4" cy="208.5" r="1.15" fill="#fff" stroke="#141414" stroke-width="0.7"/>
<circle cx="529.9" cy="208" r="1.15" fill="#fff" stroke="#141414" stroke-width="0.7"/>
<circle cx="531.6" cy="217.7" r="1.15" fill="#fff" stroke="#141414" stroke-width="0.7"/>
<circle cx="532.6" cy="206.5" r="1.15" fill="#fff" stroke="#141414" stroke-width="0.7"/>
<circle cx="534" cy="199.9" r="1.35" fill="#141414" stroke="#141414" stroke-width="0.7"/>
<circle cx="535" cy="212.6" r="1.15" fill="#fff" stroke="#141414" stroke-width="0.7"/>
<circle cx="536.3" cy="214.1" r="1.15" fill="#fff" stroke="#141414" stroke-width="0.7"/>
<circle cx="537.3" cy="205.5" r="1.15" fill="#fff" stroke="#141414" stroke-width="0.7"/>
<circle cx="538.5" cy="216.7" r="1.15" fill="#fff" stroke="#141414" stroke-width="0.7"/>
<circle cx="539.6" cy="209.6" r="1.15" fill="#fff" stroke="#141414" stroke-width="0.7"/>
<circle cx="540.4" cy="189.7" r="1.35" fill="#141414" stroke="#141414" stroke-width="0.7"/>
<circle cx="541.4" cy="205.5" r="1.15" fill="#fff" stroke="#141414" stroke-width="0.7"/>
<circle cx="542.8" cy="207.5" r="1.15" fill="#fff" stroke="#141414" stroke-width="0.7"/>
<circle cx="544.1" cy="211.6" r="1.15" fill="#fff" stroke="#141414" stroke-width="0.7"/>
<circle cx="545.1" cy="213.6" r="1.15" fill="#fff" stroke="#141414" stroke-width="0.7"/>
<circle cx="545.9" cy="195.3" r="1.35" fill="#141414" stroke="#141414" stroke-width="0.7"/>
<circle cx="546.5" cy="221.7" r="1.15" fill="#fff" stroke="#141414" stroke-width="0.7"/>
<circle cx="547.7" cy="211.6" r="1.15" fill="#fff" stroke="#141414" stroke-width="0.7"/>
<circle cx="549.2" cy="213.1" r="1.15" fill="#fff" stroke="#141414" stroke-width="0.7"/>
<circle cx="550.7" cy="214.1" r="1.15" fill="#fff" stroke="#141414" stroke-width="0.7"/>
<circle cx="552.3" cy="216.2" r="1.15" fill="#fff" stroke="#141414" stroke-width="0.7"/>
<circle cx="553.6" cy="221.7" r="1.15" fill="#fff" stroke="#141414" stroke-width="0.7"/>
<circle cx="554.8" cy="215.1" r="1.15" fill="#fff" stroke="#141414" stroke-width="0.7"/>
<circle cx="556.3" cy="211.6" r="1.15" fill="#fff" stroke="#141414" stroke-width="0.7"/>
<circle cx="557.8" cy="208.5" r="1.15" fill="#fff" stroke="#141414" stroke-width="0.7"/>
<circle cx="558.7" cy="202.4" r="1.35" fill="#141414" stroke="#141414" stroke-width="0.7"/>
<circle cx="559.7" cy="219.7" r="1.15" fill="#fff" stroke="#141414" stroke-width="0.7"/>
<circle cx="560.7" cy="204" r="1.35" fill="#141414" stroke="#141414" stroke-width="0.7"/>
<circle cx="561.7" cy="220.7" r="1.15" fill="#fff" stroke="#141414" stroke-width="0.7"/>
<circle cx="562.9" cy="211.6" r="1.15" fill="#fff" stroke="#141414" stroke-width="0.7"/>
<circle cx="564.5" cy="199.9" r="1.35" fill="#141414" stroke="#141414" stroke-width="0.7"/>
<circle cx="565.8" cy="217.7" r="1.15" fill="#fff" stroke="#141414" stroke-width="0.7"/>
<circle cx="567" cy="215.7" r="1.15" fill="#fff" stroke="#141414" stroke-width="0.7"/>
<circle cx="568.2" cy="202.4" r="1.35" fill="#141414" stroke="#141414" stroke-width="0.7"/>
<circle cx="569.8" cy="196.8" r="1.35" fill="#141414" stroke="#141414" stroke-width="0.7"/>
<circle cx="570.9" cy="198.4" r="1.15" fill="#fff" stroke="#141414" stroke-width="0.7"/>
<circle cx="571.1" cy="197.5" r="1.35" fill="#141414" stroke="#141414" stroke-width="0.7"/>
<circle cx="572.7" cy="215.6" r="1.15" fill="#fff" stroke="#141414" stroke-width="0.7"/>
<circle cx="574.8" cy="217.8" r="1.15" fill="#fff" stroke="#141414" stroke-width="0.7"/>
<circle cx="576.2" cy="192.1" r="1.35" fill="#141414" stroke="#141414" stroke-width="0.7"/>
<circle cx="577.5" cy="215.6" r="1.15" fill="#fff" stroke="#141414" stroke-width="0.7"/>
<circle cx="579.1" cy="186.8" r="1.35" fill="#141414" stroke="#141414" stroke-width="0.7"/>
<circle cx="580.5" cy="199.6" r="1.15" fill="#fff" stroke="#141414" stroke-width="0.7"/>
<circle cx="581.8" cy="203.9" r="1.15" fill="#fff" stroke="#141414" stroke-width="0.7"/>
<circle cx="582.8" cy="206.6" r="1.35" fill="#141414" stroke="#141414" stroke-width="0.7"/>
<circle cx="583.9" cy="210.3" r="1.15" fill="#fff" stroke="#141414" stroke-width="0.7"/>
<circle cx="585" cy="221" r="1.15" fill="#fff" stroke="#141414" stroke-width="0.7"/>
<circle cx="586" cy="215.6" r="1.15" fill="#fff" stroke="#141414" stroke-width="0.7"/>
<circle cx="587.6" cy="213.5" r="1.15" fill="#fff" stroke="#141414" stroke-width="0.7"/>
<circle cx="589.3" cy="209.2" r="1.15" fill="#fff" stroke="#141414" stroke-width="0.7"/>
<circle cx="590.3" cy="203.9" r="1.35" fill="#141414" stroke="#141414" stroke-width="0.7"/>
<circle cx="591.2" cy="198.5" r="1.35" fill="#141414" stroke="#141414" stroke-width="0.7"/>
<circle cx="592.2" cy="207.1" r="1.15" fill="#fff" stroke="#141414" stroke-width="0.7"/>
<circle cx="593" cy="221" r="1.15" fill="#fff" stroke="#141414" stroke-width="0.7"/>
<circle cx="594.6" cy="210.3" r="1.15" fill="#fff" stroke="#141414" stroke-width="0.7"/>
<circle cx="596.2" cy="209.2" r="1.15" fill="#fff" stroke="#141414" stroke-width="0.7"/>
<circle cx="597.3" cy="221" r="1.15" fill="#fff" stroke="#141414" stroke-width="0.7"/>
<circle cx="598.3" cy="210.3" r="1.15" fill="#fff" stroke="#141414" stroke-width="0.7"/>
<circle cx="600" cy="210.3" r="1.15" fill="#fff" stroke="#141414" stroke-width="0.7"/>
<circle cx="601.6" cy="219.9" r="1.15" fill="#fff" stroke="#141414" stroke-width="0.7"/>
<circle cx="602.9" cy="210.3" r="1.15" fill="#fff" stroke="#141414" stroke-width="0.7"/>
<circle cx="604.4" cy="221" r="1.15" fill="#fff" stroke="#141414" stroke-width="0.7"/>
<circle cx="605.8" cy="212.4" r="1.15" fill="#fff" stroke="#141414" stroke-width="0.7"/>
<circle cx="607.4" cy="215.6" r="1.15" fill="#fff" stroke="#141414" stroke-width="0.7"/>
<circle cx="609" cy="211.4" r="1.15" fill="#fff" stroke="#141414" stroke-width="0.7"/>
<circle cx="610.1" cy="207.1" r="1.15" fill="#fff" stroke="#141414" stroke-width="0.7"/>
<circle cx="611.5" cy="197.5" r="1.35" fill="#141414" stroke="#141414" stroke-width="0.7"/>
<circle cx="612.8" cy="221" r="1.15" fill="#fff" stroke="#141414" stroke-width="0.7"/>
<circle cx="613.9" cy="211.4" r="1.15" fill="#fff" stroke="#141414" stroke-width="0.7"/>
<circle cx="615.5" cy="215.6" r="1.15" fill="#fff" stroke="#141414" stroke-width="0.7"/>
<circle cx="617.1" cy="217.8" r="1.15" fill="#fff" stroke="#141414" stroke-width="0.7"/>
<circle cx="618.7" cy="213.5" r="1.15" fill="#fff" stroke="#141414" stroke-width="0.7"/>
<circle cx="619.7" cy="201.2" r="1.35" fill="#141414" stroke="#141414" stroke-width="0.7"/>
<circle cx="620.8" cy="217.8" r="1.15" fill="#fff" stroke="#141414" stroke-width="0.7"/>
<circle cx="622.4" cy="210.3" r="1.15" fill="#fff" stroke="#141414" stroke-width="0.7"/>
<circle cx="624" cy="217.8" r="1.15" fill="#fff" stroke="#141414" stroke-width="0.7"/>
<circle cx="625.6" cy="208.2" r="1.15" fill="#fff" stroke="#141414" stroke-width="0.7"/>
<circle cx="627.2" cy="219.9" r="1.15" fill="#fff" stroke="#141414" stroke-width="0.7"/>
<circle cx="628.1" cy="194.8" r="1.35" fill="#141414" stroke="#141414" stroke-width="0.7"/>
<circle cx="629.4" cy="217.8" r="1.15" fill="#fff" stroke="#141414" stroke-width="0.7"/>
<circle cx="630.4" cy="196.9" r="1.35" fill="#141414" stroke="#141414" stroke-width="0.7"/>
<circle cx="631.8" cy="207.1" r="1.15" fill="#fff" stroke="#141414" stroke-width="0.7"/>
<circle cx="633.1" cy="212.4" r="1.15" fill="#fff" stroke="#141414" stroke-width="0.7"/>
<circle cx="634.2" cy="215.6" r="1.15" fill="#fff" stroke="#141414" stroke-width="0.7"/>
<circle cx="635.5" cy="200.7" r="1.35" fill="#141414" stroke="#141414" stroke-width="0.7"/>
<circle cx="636.8" cy="215.6" r="1.15" fill="#fff" stroke="#141414" stroke-width="0.7"/>
<circle cx="638.2" cy="218.9" r="1.15" fill="#fff" stroke="#141414" stroke-width="0.7"/>
<circle cx="639.5" cy="213.5" r="1.15" fill="#fff" stroke="#141414" stroke-width="0.7"/>
<circle cx="641.4" cy="199.6" r="1.35" fill="#141414" stroke="#141414" stroke-width="0.7"/>
<circle cx="642.7" cy="192.1" r="1.35" fill="#141414" stroke="#141414" stroke-width="0.7"/>
<path d="M635.2 215.6 L636.8 214.6 L638.4 212.4 L639.7 209.2 L640.6 195 L641.2 183.6 L641.6 176 L641.9 170 L642.3 181 L642.5 166 L642.8 161.5" fill="none" stroke="#4a86e0" stroke-width="1.2" stroke-linejoin="round"/>
<circle cx="635.2" cy="215.6" r="1.15" fill="#fff" stroke="#4a86e0" stroke-width="0.7"/>
<circle cx="636.8" cy="214.6" r="1.15" fill="#fff" stroke="#4a86e0" stroke-width="0.7"/>
<circle cx="638.4" cy="212.4" r="1.15" fill="#fff" stroke="#4a86e0" stroke-width="0.7"/>
<circle cx="639.7" cy="209.2" r="1.15" fill="#fff" stroke="#4a86e0" stroke-width="0.7"/>
<circle cx="640.6" cy="195" r="1.35" fill="#4a86e0" stroke="#4a86e0" stroke-width="0.7"/>
<circle cx="641.2" cy="183.6" r="1.35" fill="#4a86e0" stroke="#4a86e0" stroke-width="0.7"/>
<circle cx="641.6" cy="176" r="1.15" fill="#fff" stroke="#4a86e0" stroke-width="0.7"/>
<circle cx="641.9" cy="170" r="1.35" fill="#4a86e0" stroke="#4a86e0" stroke-width="0.7"/>
<circle cx="642.3" cy="181" r="1.15" fill="#fff" stroke="#4a86e0" stroke-width="0.7"/>
<circle cx="642.5" cy="166" r="1.35" fill="#4a86e0" stroke="#4a86e0" stroke-width="0.7"/>
<circle cx="642.8" cy="161.5" r="1.35" fill="#4a86e0" stroke="#4a86e0" stroke-width="0.7"/>
<path d="M108.9 422.6 L110.6 425.5 L113 428.8 L115.4 424.7 L117.1 423.9 L119.2 424.7 L120.3 419 L121.1 412.5 L122 365.5 L123 360.6 L124.2 343.5 L125.3 343.5 L126.3 386.2 L127 357 L128.2 346.3 L129.4 344.9 L130.2 338.5 L131.3 335 L132 334.2 L132.7 360.6 L133.7 389 L134.1 419 L135 425.5 L136.6 428.8 L139 430.4 L141.5 431.2 L143.9 428.8 L146.3 427.2 L148.8 428.8 L151.2 426.3 L153.7 424.7 L156.1 423.9 L158.5 423.1 L161 422 L162.6 416.6 L163.4 384.5 L164.1 358.5 L164.9 353.2 L166 357.8 L167.2 355.5 L168.7 357 L170.2 354.7 L171.5 345.6 L172.1 344.8 L173 356.3 L173.8 366.9 L174.8 374.5 L175.8 410.1 L176.5 425.5 L178.6 428.8 L181 432 L183.5 430.4 L185.9 435.3 L188.3 433.7 L190.8 437.7 L193.2 433.7 L194.8 427.2 L196 423.9 L196.5 395.1 L197.7 370 L198.9 350.9 L200 357.8 L201 361.6 L202.3 373.8 L203.5 389.8 L204.5 390.5 L205.8 368.4 L206.5 360.1 L208 358.5 L209.1 354 L210.6 350.2 L212.2 342.5" fill="none" stroke="#141414" stroke-width="1.2" stroke-linejoin="round"/>
<circle cx="108.9" cy="422.6" r="1.35" fill="#141414" stroke="#141414" stroke-width="0.7"/>
<circle cx="110.6" cy="425.5" r="1.15" fill="#fff" stroke="#141414" stroke-width="0.7"/>
<circle cx="113" cy="428.8" r="1.15" fill="#fff" stroke="#141414" stroke-width="0.7"/>
<circle cx="115.4" cy="424.7" r="1.15" fill="#fff" stroke="#141414" stroke-width="0.7"/>
<circle cx="117.1" cy="423.9" r="1.35" fill="#141414" stroke="#141414" stroke-width="0.7"/>
<circle cx="119.2" cy="424.7" r="1.15" fill="#fff" stroke="#141414" stroke-width="0.7"/>
<circle cx="120.3" cy="419" r="1.35" fill="#141414" stroke="#141414" stroke-width="0.7"/>
<circle cx="121.1" cy="412.5" r="1.15" fill="#fff" stroke="#141414" stroke-width="0.7"/>
<circle cx="122" cy="365.5" r="1.35" fill="#141414" stroke="#141414" stroke-width="0.7"/>
<circle cx="123" cy="360.6" r="1.35" fill="#141414" stroke="#141414" stroke-width="0.7"/>
<circle cx="124.2" cy="343.5" r="1.35" fill="#141414" stroke="#141414" stroke-width="0.7"/>
<circle cx="125.3" cy="343.5" r="1.35" fill="#141414" stroke="#141414" stroke-width="0.7"/>
<circle cx="126.3" cy="386.2" r="1.35" fill="#141414" stroke="#141414" stroke-width="0.7"/>
<circle cx="127" cy="357" r="1.35" fill="#141414" stroke="#141414" stroke-width="0.7"/>
<circle cx="128.2" cy="346.3" r="1.35" fill="#141414" stroke="#141414" stroke-width="0.7"/>
<circle cx="129.4" cy="344.9" r="1.35" fill="#141414" stroke="#141414" stroke-width="0.7"/>
<circle cx="130.2" cy="338.5" r="1.35" fill="#141414" stroke="#141414" stroke-width="0.7"/>
<circle cx="131.3" cy="335" r="1.35" fill="#141414" stroke="#141414" stroke-width="0.7"/>
<circle cx="132" cy="334.2" r="1.35" fill="#141414" stroke="#141414" stroke-width="0.7"/>
<circle cx="132.7" cy="360.6" r="1.35" fill="#141414" stroke="#141414" stroke-width="0.7"/>
<circle cx="133.7" cy="389" r="1.35" fill="#141414" stroke="#141414" stroke-width="0.7"/>
<circle cx="134.1" cy="419" r="1.15" fill="#fff" stroke="#141414" stroke-width="0.7"/>
<circle cx="135" cy="425.5" r="1.15" fill="#fff" stroke="#141414" stroke-width="0.7"/>
<circle cx="136.6" cy="428.8" r="1.15" fill="#fff" stroke="#141414" stroke-width="0.7"/>
<circle cx="139" cy="430.4" r="1.15" fill="#fff" stroke="#141414" stroke-width="0.7"/>
<circle cx="141.5" cy="431.2" r="1.15" fill="#fff" stroke="#141414" stroke-width="0.7"/>
<circle cx="143.9" cy="428.8" r="1.15" fill="#fff" stroke="#141414" stroke-width="0.7"/>
<circle cx="146.3" cy="427.2" r="1.15" fill="#fff" stroke="#141414" stroke-width="0.7"/>
<circle cx="148.8" cy="428.8" r="1.15" fill="#fff" stroke="#141414" stroke-width="0.7"/>
<circle cx="151.2" cy="426.3" r="1.15" fill="#fff" stroke="#141414" stroke-width="0.7"/>
<circle cx="153.7" cy="424.7" r="1.15" fill="#fff" stroke="#141414" stroke-width="0.7"/>
<circle cx="156.1" cy="423.9" r="1.15" fill="#fff" stroke="#141414" stroke-width="0.7"/>
<circle cx="158.5" cy="423.1" r="1.15" fill="#fff" stroke="#141414" stroke-width="0.7"/>
<circle cx="161" cy="422" r="1.35" fill="#141414" stroke="#141414" stroke-width="0.7"/>
<circle cx="162.6" cy="416.6" r="1.15" fill="#fff" stroke="#141414" stroke-width="0.7"/>
<circle cx="163.4" cy="384.5" r="1.35" fill="#141414" stroke="#141414" stroke-width="0.7"/>
<circle cx="164.1" cy="358.5" r="1.35" fill="#141414" stroke="#141414" stroke-width="0.7"/>
<circle cx="164.9" cy="353.2" r="1.35" fill="#141414" stroke="#141414" stroke-width="0.7"/>
<circle cx="166" cy="357.8" r="1.35" fill="#141414" stroke="#141414" stroke-width="0.7"/>
<circle cx="167.2" cy="355.5" r="1.35" fill="#141414" stroke="#141414" stroke-width="0.7"/>
<circle cx="168.7" cy="357" r="1.35" fill="#141414" stroke="#141414" stroke-width="0.7"/>
<circle cx="170.2" cy="354.7" r="1.35" fill="#141414" stroke="#141414" stroke-width="0.7"/>
<circle cx="171.5" cy="345.6" r="1.35" fill="#141414" stroke="#141414" stroke-width="0.7"/>
<circle cx="172.1" cy="344.8" r="1.35" fill="#141414" stroke="#141414" stroke-width="0.7"/>
<circle cx="173" cy="356.3" r="1.35" fill="#141414" stroke="#141414" stroke-width="0.7"/>
<circle cx="173.8" cy="366.9" r="1.35" fill="#141414" stroke="#141414" stroke-width="0.7"/>
<circle cx="174.8" cy="374.5" r="1.35" fill="#141414" stroke="#141414" stroke-width="0.7"/>
<circle cx="175.8" cy="410.1" r="1.35" fill="#141414" stroke="#141414" stroke-width="0.7"/>
<circle cx="176.5" cy="425.5" r="1.15" fill="#fff" stroke="#141414" stroke-width="0.7"/>
<circle cx="178.6" cy="428.8" r="1.15" fill="#fff" stroke="#141414" stroke-width="0.7"/>
<circle cx="181" cy="432" r="1.15" fill="#fff" stroke="#141414" stroke-width="0.7"/>
<circle cx="183.5" cy="430.4" r="1.15" fill="#fff" stroke="#141414" stroke-width="0.7"/>
<circle cx="185.9" cy="435.3" r="1.15" fill="#fff" stroke="#141414" stroke-width="0.7"/>
<circle cx="188.3" cy="433.7" r="1.15" fill="#fff" stroke="#141414" stroke-width="0.7"/>
<circle cx="190.8" cy="437.7" r="1.15" fill="#fff" stroke="#141414" stroke-width="0.7"/>
<circle cx="193.2" cy="433.7" r="1.15" fill="#fff" stroke="#141414" stroke-width="0.7"/>
<circle cx="194.8" cy="427.2" r="1.15" fill="#fff" stroke="#141414" stroke-width="0.7"/>
<circle cx="196" cy="423.9" r="1.15" fill="#fff" stroke="#141414" stroke-width="0.7"/>
<circle cx="196.5" cy="395.1" r="1.35" fill="#141414" stroke="#141414" stroke-width="0.7"/>
<circle cx="197.7" cy="370" r="1.35" fill="#141414" stroke="#141414" stroke-width="0.7"/>
<circle cx="198.9" cy="350.9" r="1.35" fill="#141414" stroke="#141414" stroke-width="0.7"/>
<circle cx="200" cy="357.8" r="1.35" fill="#141414" stroke="#141414" stroke-width="0.7"/>
<circle cx="201" cy="361.6" r="1.35" fill="#141414" stroke="#141414" stroke-width="0.7"/>
<circle cx="202.3" cy="373.8" r="1.35" fill="#141414" stroke="#141414" stroke-width="0.7"/>
<circle cx="203.5" cy="389.8" r="1.35" fill="#141414" stroke="#141414" stroke-width="0.7"/>
<circle cx="204.5" cy="390.5" r="1.35" fill="#141414" stroke="#141414" stroke-width="0.7"/>
<circle cx="205.8" cy="368.4" r="1.35" fill="#141414" stroke="#141414" stroke-width="0.7"/>
<circle cx="206.5" cy="360.1" r="1.35" fill="#141414" stroke="#141414" stroke-width="0.7"/>
<circle cx="208" cy="358.5" r="1.35" fill="#141414" stroke="#141414" stroke-width="0.7"/>
<circle cx="209.1" cy="354" r="1.35" fill="#141414" stroke="#141414" stroke-width="0.7"/>
<circle cx="210.6" cy="350.2" r="1.35" fill="#141414" stroke="#141414" stroke-width="0.7"/>
<circle cx="212.2" cy="342.5" r="1.35" fill="#141414" stroke="#141414" stroke-width="0.7"/>
<path d="M108.9 433.7 L110.6 438.5 L112.2 428.8 L113.3 399.2 L114.3 432 L115.4 435.3 L117.1 440.2 L118.7 433.7 L120.3 432 L122 433.7 L123.6 428.8 L125.2 425.5 L126.8 423.9 L128 410.9 L128.9 393 L129.9 379 L130.6 350.6 L131.3 384.7 L131.7 388.1 L133.3 409.3 L134.5 420.7 L135.8 425.5 L137.1 417.4 L138.2 407.6 L139.3 420.7 L140.7 427.2 L142 415 L143.1 415 L144.2 425.5 L146.3 433.7 L148 428.8 L149.1 423.1 L150.4 433.7 L152 443.4 L153.7 438.5 L155.3 436.9 L156.9 444.2 L158.5 441.8 L160.2 436.9 L161.8 433.7 L163.4 428.8 L164.8 436.9 L165.6 423.1 L167.2 430.4 L168.8 407.6 L170 414.1 L170.9 408.5 L171.7 390.6 L172.9 404.4 L174.2 422.3 L175.3 425.5 L176.5 428.8 L177.8 428 L179.1 436.9 L180.2 446.7 L181.8 449.9 L183.5 445 L185.1 448.3 L186.7 441.8 L188.3 446.7 L190 449.9 L191.6 445 L193.2 440.2 L195.3 436.9 L197.3 440.2 L198.9 441.8 L200.5 445 L202.2 448.3 L203.8 449.9 L205.7 451.5 L207 443.4 L208.3 435.3 L209.1 423.9 L210 408.5 L211.1 394.6 L212.2 376.8" fill="none" stroke="#cf2a3e" stroke-width="1.2" stroke-linejoin="round"/>
<circle cx="108.9" cy="433.7" r="1.15" fill="#fff" stroke="#cf2a3e" stroke-width="0.7"/>
<circle cx="110.6" cy="438.5" r="1.15" fill="#fff" stroke="#cf2a3e" stroke-width="0.7"/>
<circle cx="112.2" cy="428.8" r="1.15" fill="#fff" stroke="#cf2a3e" stroke-width="0.7"/>
<circle cx="113.3" cy="399.2" r="1.35" fill="#cf2a3e" stroke="#cf2a3e" stroke-width="0.7"/>
<circle cx="114.3" cy="432" r="1.15" fill="#fff" stroke="#cf2a3e" stroke-width="0.7"/>
<circle cx="115.4" cy="435.3" r="1.15" fill="#fff" stroke="#cf2a3e" stroke-width="0.7"/>
<circle cx="117.1" cy="440.2" r="1.15" fill="#fff" stroke="#cf2a3e" stroke-width="0.7"/>
<circle cx="118.7" cy="433.7" r="1.15" fill="#fff" stroke="#cf2a3e" stroke-width="0.7"/>
<circle cx="120.3" cy="432" r="1.15" fill="#fff" stroke="#cf2a3e" stroke-width="0.7"/>
<circle cx="122" cy="433.7" r="1.15" fill="#fff" stroke="#cf2a3e" stroke-width="0.7"/>
<circle cx="123.6" cy="428.8" r="1.15" fill="#fff" stroke="#cf2a3e" stroke-width="0.7"/>
<circle cx="125.2" cy="425.5" r="1.15" fill="#fff" stroke="#cf2a3e" stroke-width="0.7"/>
<circle cx="126.8" cy="423.9" r="1.15" fill="#fff" stroke="#cf2a3e" stroke-width="0.7"/>
<circle cx="128" cy="410.9" r="1.35" fill="#cf2a3e" stroke="#cf2a3e" stroke-width="0.7"/>
<circle cx="128.9" cy="393" r="1.35" fill="#cf2a3e" stroke="#cf2a3e" stroke-width="0.7"/>
<circle cx="129.9" cy="379" r="1.35" fill="#cf2a3e" stroke="#cf2a3e" stroke-width="0.7"/>
<circle cx="130.6" cy="350.6" r="1.35" fill="#cf2a3e" stroke="#cf2a3e" stroke-width="0.7"/>
<circle cx="131.3" cy="384.7" r="1.35" fill="#cf2a3e" stroke="#cf2a3e" stroke-width="0.7"/>
<circle cx="131.7" cy="388.1" r="1.15" fill="#fff" stroke="#cf2a3e" stroke-width="0.7"/>
<circle cx="133.3" cy="409.3" r="1.15" fill="#fff" stroke="#cf2a3e" stroke-width="0.7"/>
<circle cx="134.5" cy="420.7" r="1.15" fill="#fff" stroke="#cf2a3e" stroke-width="0.7"/>
<circle cx="135.8" cy="425.5" r="1.15" fill="#fff" stroke="#cf2a3e" stroke-width="0.7"/>
<circle cx="137.1" cy="417.4" r="1.15" fill="#fff" stroke="#cf2a3e" stroke-width="0.7"/>
<circle cx="138.2" cy="407.6" r="1.35" fill="#cf2a3e" stroke="#cf2a3e" stroke-width="0.7"/>
<circle cx="139.3" cy="420.7" r="1.15" fill="#fff" stroke="#cf2a3e" stroke-width="0.7"/>
<circle cx="140.7" cy="427.2" r="1.15" fill="#fff" stroke="#cf2a3e" stroke-width="0.7"/>
<circle cx="142" cy="415" r="1.35" fill="#cf2a3e" stroke="#cf2a3e" stroke-width="0.7"/>
<circle cx="143.1" cy="415" r="1.15" fill="#fff" stroke="#cf2a3e" stroke-width="0.7"/>
<circle cx="144.2" cy="425.5" r="1.15" fill="#fff" stroke="#cf2a3e" stroke-width="0.7"/>
<circle cx="146.3" cy="433.7" r="1.15" fill="#fff" stroke="#cf2a3e" stroke-width="0.7"/>
<circle cx="148" cy="428.8" r="1.15" fill="#fff" stroke="#cf2a3e" stroke-width="0.7"/>
<circle cx="149.1" cy="423.1" r="1.35" fill="#cf2a3e" stroke="#cf2a3e" stroke-width="0.7"/>
<circle cx="150.4" cy="433.7" r="1.15" fill="#fff" stroke="#cf2a3e" stroke-width="0.7"/>
<circle cx="152" cy="443.4" r="1.15" fill="#fff" stroke="#cf2a3e" stroke-width="0.7"/>
<circle cx="153.7" cy="438.5" r="1.15" fill="#fff" stroke="#cf2a3e" stroke-width="0.7"/>
<circle cx="155.3" cy="436.9" r="1.15" fill="#fff" stroke="#cf2a3e" stroke-width="0.7"/>
<circle cx="156.9" cy="444.2" r="1.15" fill="#fff" stroke="#cf2a3e" stroke-width="0.7"/>
<circle cx="158.5" cy="441.8" r="1.15" fill="#fff" stroke="#cf2a3e" stroke-width="0.7"/>
<circle cx="160.2" cy="436.9" r="1.15" fill="#fff" stroke="#cf2a3e" stroke-width="0.7"/>
<circle cx="161.8" cy="433.7" r="1.15" fill="#fff" stroke="#cf2a3e" stroke-width="0.7"/>
<circle cx="163.4" cy="428.8" r="1.15" fill="#fff" stroke="#cf2a3e" stroke-width="0.7"/>
<circle cx="164.8" cy="436.9" r="1.15" fill="#fff" stroke="#cf2a3e" stroke-width="0.7"/>
<circle cx="165.6" cy="423.1" r="1.15" fill="#fff" stroke="#cf2a3e" stroke-width="0.7"/>
<circle cx="167.2" cy="430.4" r="1.15" fill="#fff" stroke="#cf2a3e" stroke-width="0.7"/>
<circle cx="168.8" cy="407.6" r="1.35" fill="#cf2a3e" stroke="#cf2a3e" stroke-width="0.7"/>
<circle cx="170" cy="414.1" r="1.15" fill="#fff" stroke="#cf2a3e" stroke-width="0.7"/>
<circle cx="170.9" cy="408.5" r="1.15" fill="#fff" stroke="#cf2a3e" stroke-width="0.7"/>
<circle cx="171.7" cy="390.6" r="1.35" fill="#cf2a3e" stroke="#cf2a3e" stroke-width="0.7"/>
<circle cx="172.9" cy="404.4" r="1.15" fill="#fff" stroke="#cf2a3e" stroke-width="0.7"/>
<circle cx="174.2" cy="422.3" r="1.15" fill="#fff" stroke="#cf2a3e" stroke-width="0.7"/>
<circle cx="175.3" cy="425.5" r="1.15" fill="#fff" stroke="#cf2a3e" stroke-width="0.7"/>
<circle cx="176.5" cy="428.8" r="1.15" fill="#fff" stroke="#cf2a3e" stroke-width="0.7"/>
<circle cx="177.8" cy="428" r="1.15" fill="#fff" stroke="#cf2a3e" stroke-width="0.7"/>
<circle cx="179.1" cy="436.9" r="1.15" fill="#fff" stroke="#cf2a3e" stroke-width="0.7"/>
<circle cx="180.2" cy="446.7" r="1.15" fill="#fff" stroke="#cf2a3e" stroke-width="0.7"/>
<circle cx="181.8" cy="449.9" r="1.15" fill="#fff" stroke="#cf2a3e" stroke-width="0.7"/>
<circle cx="183.5" cy="445" r="1.15" fill="#fff" stroke="#cf2a3e" stroke-width="0.7"/>
<circle cx="185.1" cy="448.3" r="1.15" fill="#fff" stroke="#cf2a3e" stroke-width="0.7"/>
<circle cx="186.7" cy="441.8" r="1.15" fill="#fff" stroke="#cf2a3e" stroke-width="0.7"/>
<circle cx="188.3" cy="446.7" r="1.15" fill="#fff" stroke="#cf2a3e" stroke-width="0.7"/>
<circle cx="190" cy="449.9" r="1.15" fill="#fff" stroke="#cf2a3e" stroke-width="0.7"/>
<circle cx="191.6" cy="445" r="1.15" fill="#fff" stroke="#cf2a3e" stroke-width="0.7"/>
<circle cx="193.2" cy="440.2" r="1.15" fill="#fff" stroke="#cf2a3e" stroke-width="0.7"/>
<circle cx="195.3" cy="436.9" r="1.15" fill="#fff" stroke="#cf2a3e" stroke-width="0.7"/>
<circle cx="197.3" cy="440.2" r="1.15" fill="#fff" stroke="#cf2a3e" stroke-width="0.7"/>
<circle cx="198.9" cy="441.8" r="1.15" fill="#fff" stroke="#cf2a3e" stroke-width="0.7"/>
<circle cx="200.5" cy="445" r="1.15" fill="#fff" stroke="#cf2a3e" stroke-width="0.7"/>
<circle cx="202.2" cy="448.3" r="1.15" fill="#fff" stroke="#cf2a3e" stroke-width="0.7"/>
<circle cx="203.8" cy="449.9" r="1.15" fill="#fff" stroke="#cf2a3e" stroke-width="0.7"/>
<circle cx="205.7" cy="451.5" r="1.15" fill="#fff" stroke="#cf2a3e" stroke-width="0.7"/>
<circle cx="207" cy="443.4" r="1.15" fill="#fff" stroke="#cf2a3e" stroke-width="0.7"/>
<circle cx="208.3" cy="435.3" r="1.15" fill="#fff" stroke="#cf2a3e" stroke-width="0.7"/>
<circle cx="209.1" cy="423.9" r="1.15" fill="#fff" stroke="#cf2a3e" stroke-width="0.7"/>
<circle cx="210" cy="408.5" r="1.35" fill="#cf2a3e" stroke="#cf2a3e" stroke-width="0.7"/>
<circle cx="211.1" cy="394.6" r="1.35" fill="#cf2a3e" stroke="#cf2a3e" stroke-width="0.7"/>
<circle cx="212.2" cy="376.8" r="1.35" fill="#cf2a3e" stroke="#cf2a3e" stroke-width="0.7"/>
<path d="M109.8 426.3 L111.7 428.8 L114.6 421.5 L116.3 417.4 L117.9 419.8 L119.5 425.5 L121.1 435.3 L122.8 442.6 L125.2 446.7 L127.3 451.5 L128.9 433.7 L130.1 419.8 L131.7 418.2 L133.3 419.8 L134.5 444.2 L136.1 422.3 L137.7 419 L139.8 430.4 L142.3 426.3 L144.2 428.8 L145.9 432 L148 434.5 L150.4 431.2 L153.7 423.1 L156.1 420.2 L157.4 419.8 L159.1 428.8 L160.7 438.5 L162.8 445 L164.4 449.9 L166.1 454.8 L168 449.9 L170 445 L171.7 424.7 L173.2 432 L174.2 441.8 L175.8 450.7 L177.8 438.5 L180.2 437.7 L182.6 436.9 L185.1 436.1 L187.5 435.3 L190 434.5 L192.4 435.3 L194.3 433.7 L195.7 436.9 L197 445 L198.9 451.5 L200.9 455.6 L203 454.8 L204.6 451.5 L206.7 454 L208.7 449.9 L210.3 438.5 L211.6 424.7" fill="none" stroke="#4a86e0" stroke-width="1.2" stroke-linejoin="round"/>
<circle cx="109.8" cy="426.3" r="1.15" fill="#fff" stroke="#4a86e0" stroke-width="0.7"/>
<circle cx="111.7" cy="428.8" r="1.15" fill="#fff" stroke="#4a86e0" stroke-width="0.7"/>
<circle cx="114.6" cy="421.5" r="1.15" fill="#fff" stroke="#4a86e0" stroke-width="0.7"/>
<circle cx="116.3" cy="417.4" r="1.35" fill="#4a86e0" stroke="#4a86e0" stroke-width="0.7"/>
<circle cx="117.9" cy="419.8" r="1.15" fill="#fff" stroke="#4a86e0" stroke-width="0.7"/>
<circle cx="119.5" cy="425.5" r="1.15" fill="#fff" stroke="#4a86e0" stroke-width="0.7"/>
<circle cx="121.1" cy="435.3" r="1.15" fill="#fff" stroke="#4a86e0" stroke-width="0.7"/>
<circle cx="122.8" cy="442.6" r="1.15" fill="#fff" stroke="#4a86e0" stroke-width="0.7"/>
<circle cx="125.2" cy="446.7" r="1.15" fill="#fff" stroke="#4a86e0" stroke-width="0.7"/>
<circle cx="127.3" cy="451.5" r="1.15" fill="#fff" stroke="#4a86e0" stroke-width="0.7"/>
<circle cx="128.9" cy="433.7" r="1.15" fill="#fff" stroke="#4a86e0" stroke-width="0.7"/>
<circle cx="130.1" cy="419.8" r="1.15" fill="#fff" stroke="#4a86e0" stroke-width="0.7"/>
<circle cx="131.7" cy="418.2" r="1.15" fill="#fff" stroke="#4a86e0" stroke-width="0.7"/>
<circle cx="133.3" cy="419.8" r="1.15" fill="#fff" stroke="#4a86e0" stroke-width="0.7"/>
<circle cx="134.5" cy="444.2" r="1.15" fill="#fff" stroke="#4a86e0" stroke-width="0.7"/>
<circle cx="136.1" cy="422.3" r="1.15" fill="#fff" stroke="#4a86e0" stroke-width="0.7"/>
<circle cx="137.7" cy="419" r="1.15" fill="#fff" stroke="#4a86e0" stroke-width="0.7"/>
<circle cx="139.8" cy="430.4" r="1.15" fill="#fff" stroke="#4a86e0" stroke-width="0.7"/>
<circle cx="142.3" cy="426.3" r="1.15" fill="#fff" stroke="#4a86e0" stroke-width="0.7"/>
<circle cx="144.2" cy="428.8" r="1.15" fill="#fff" stroke="#4a86e0" stroke-width="0.7"/>
<circle cx="145.9" cy="432" r="1.15" fill="#fff" stroke="#4a86e0" stroke-width="0.7"/>
<circle cx="148" cy="434.5" r="1.15" fill="#fff" stroke="#4a86e0" stroke-width="0.7"/>
<circle cx="150.4" cy="431.2" r="1.15" fill="#fff" stroke="#4a86e0" stroke-width="0.7"/>
<circle cx="153.7" cy="423.1" r="1.15" fill="#fff" stroke="#4a86e0" stroke-width="0.7"/>
<circle cx="156.1" cy="420.2" r="1.15" fill="#fff" stroke="#4a86e0" stroke-width="0.7"/>
<circle cx="157.4" cy="419.8" r="1.15" fill="#fff" stroke="#4a86e0" stroke-width="0.7"/>
<circle cx="159.1" cy="428.8" r="1.15" fill="#fff" stroke="#4a86e0" stroke-width="0.7"/>
<circle cx="160.7" cy="438.5" r="1.15" fill="#fff" stroke="#4a86e0" stroke-width="0.7"/>
<circle cx="162.8" cy="445" r="1.15" fill="#fff" stroke="#4a86e0" stroke-width="0.7"/>
<circle cx="164.4" cy="449.9" r="1.15" fill="#fff" stroke="#4a86e0" stroke-width="0.7"/>
<circle cx="166.1" cy="454.8" r="1.15" fill="#fff" stroke="#4a86e0" stroke-width="0.7"/>
<circle cx="168" cy="449.9" r="1.15" fill="#fff" stroke="#4a86e0" stroke-width="0.7"/>
<circle cx="170" cy="445" r="1.15" fill="#fff" stroke="#4a86e0" stroke-width="0.7"/>
<circle cx="171.7" cy="424.7" r="1.35" fill="#4a86e0" stroke="#4a86e0" stroke-width="0.7"/>
<circle cx="173.2" cy="432" r="1.15" fill="#fff" stroke="#4a86e0" stroke-width="0.7"/>
<circle cx="174.2" cy="441.8" r="1.15" fill="#fff" stroke="#4a86e0" stroke-width="0.7"/>
<circle cx="175.8" cy="450.7" r="1.15" fill="#fff" stroke="#4a86e0" stroke-width="0.7"/>
<circle cx="177.8" cy="438.5" r="1.15" fill="#fff" stroke="#4a86e0" stroke-width="0.7"/>
<circle cx="180.2" cy="437.7" r="1.15" fill="#fff" stroke="#4a86e0" stroke-width="0.7"/>
<circle cx="182.6" cy="436.9" r="1.15" fill="#fff" stroke="#4a86e0" stroke-width="0.7"/>
<circle cx="185.1" cy="436.1" r="1.15" fill="#fff" stroke="#4a86e0" stroke-width="0.7"/>
<circle cx="187.5" cy="435.3" r="1.15" fill="#fff" stroke="#4a86e0" stroke-width="0.7"/>
<circle cx="190" cy="434.5" r="1.15" fill="#fff" stroke="#4a86e0" stroke-width="0.7"/>
<circle cx="192.4" cy="435.3" r="1.15" fill="#fff" stroke="#4a86e0" stroke-width="0.7"/>
<circle cx="194.3" cy="433.7" r="1.15" fill="#fff" stroke="#4a86e0" stroke-width="0.7"/>
<circle cx="195.7" cy="436.9" r="1.15" fill="#fff" stroke="#4a86e0" stroke-width="0.7"/>
<circle cx="197" cy="445" r="1.15" fill="#fff" stroke="#4a86e0" stroke-width="0.7"/>
<circle cx="198.9" cy="451.5" r="1.15" fill="#fff" stroke="#4a86e0" stroke-width="0.7"/>
<circle cx="200.9" cy="455.6" r="1.15" fill="#fff" stroke="#4a86e0" stroke-width="0.7"/>
<circle cx="203" cy="454.8" r="1.15" fill="#fff" stroke="#4a86e0" stroke-width="0.7"/>
<circle cx="204.6" cy="451.5" r="1.15" fill="#fff" stroke="#4a86e0" stroke-width="0.7"/>
<circle cx="206.7" cy="454" r="1.15" fill="#fff" stroke="#4a86e0" stroke-width="0.7"/>
<circle cx="208.7" cy="449.9" r="1.15" fill="#fff" stroke="#4a86e0" stroke-width="0.7"/>
<circle cx="210.3" cy="438.5" r="1.15" fill="#fff" stroke="#4a86e0" stroke-width="0.7"/>
<circle cx="211.6" cy="424.7" r="1.35" fill="#4a86e0" stroke="#4a86e0" stroke-width="0.7"/>
<path d="M306.3 429.6 L307.5 431.2 L309.1 435.9 L310.6 431.9 L311.9 427.3 L312.5 405.3 L313.7 363.9 L314.5 349.4 L315.7 347.9 L316.8 344.8 L318 350.9 L319.1 352.4 L319.8 343.3 L321 338.7 L322.1 340.2 L323.2 354 L324.1 368.4 L324 414.7 L325.5 424.9 L327.1 430.4 L328.6 432.7 L330.2 435.9 L331.8 431.9 L333.3 435.1 L335.4 436.6 L337.3 431.2 L339.1 424.9 L340.7 431.9 L342.7 432.7 L343.8 438.2 L345.4 429.6 L346.6 416.3 L347.3 389 L348.5 361.6 L349.5 347.9 L350.6 346.3 L352.1 350.2 L353.4 354 L354.6 343.3 L355.6 338.7 L356.7 335.7 L357.6 354 L358.7 364.6 L359.8 372.3 L360.7 428.8 L362.3 430.4 L363.9 431.9 L365.4 433.5 L367 435.9 L369.3 438.2 L370.2 439 L372.5 436.6 L374.1 437.4 L374.9 424.1 L375.6 392.8 L376 386 L376.9 360.8 L378 357.8 L379.5 357.8 L380.5 364.6 L381.8 361.6 L383 359.3 L383.6 346.3 L384.5 339.5 L385.6 344.8 L386.6 358.5 L387.9 370.7 L388.6 384.5 L389.4 413.2 L391 416.3 L392.9 430.4 L394.4 438.2 L396 431.9 L398.3 434.3 L400.7 431.9 L402.3 427.3 L403.5 421 L404.3 396.7 L404.9 370.7 L406.2 359.3 L408 358.5 L409.5 365.4 L410.7 361.6 L412 344.8 L413.5 346.3 L414.5 350.9 L415.3 360.1 L416.5 375.3 L417.6 379.1 L418.7 424.1 L420.2 430.4 L421.8 436.6 L423.4 439.8 L424.5 444.5 L425.7 435.1 L427.3 432 L428.1 425.7" fill="none" stroke="#141414" stroke-width="1.2" stroke-linejoin="round"/>
<circle cx="306.3" cy="429.6" r="1.15" fill="#fff" stroke="#141414" stroke-width="0.7"/>
<circle cx="307.5" cy="431.2" r="1.15" fill="#fff" stroke="#141414" stroke-width="0.7"/>
<circle cx="309.1" cy="435.9" r="1.15" fill="#fff" stroke="#141414" stroke-width="0.7"/>
<circle cx="310.6" cy="431.9" r="1.15" fill="#fff" stroke="#141414" stroke-width="0.7"/>
<circle cx="311.9" cy="427.3" r="1.35" fill="#141414" stroke="#141414" stroke-width="0.7"/>
<circle cx="312.5" cy="405.3" r="1.35" fill="#141414" stroke="#141414" stroke-width="0.7"/>
<circle cx="313.7" cy="363.9" r="1.35" fill="#141414" stroke="#141414" stroke-width="0.7"/>
<circle cx="314.5" cy="349.4" r="1.35" fill="#141414" stroke="#141414" stroke-width="0.7"/>
<circle cx="315.7" cy="347.9" r="1.35" fill="#141414" stroke="#141414" stroke-width="0.7"/>
<circle cx="316.8" cy="344.8" r="1.35" fill="#141414" stroke="#141414" stroke-width="0.7"/>
<circle cx="318" cy="350.9" r="1.35" fill="#141414" stroke="#141414" stroke-width="0.7"/>
<circle cx="319.1" cy="352.4" r="1.35" fill="#141414" stroke="#141414" stroke-width="0.7"/>
<circle cx="319.8" cy="343.3" r="1.35" fill="#141414" stroke="#141414" stroke-width="0.7"/>
<circle cx="321" cy="338.7" r="1.35" fill="#141414" stroke="#141414" stroke-width="0.7"/>
<circle cx="322.1" cy="340.2" r="1.35" fill="#141414" stroke="#141414" stroke-width="0.7"/>
<circle cx="323.2" cy="354" r="1.35" fill="#141414" stroke="#141414" stroke-width="0.7"/>
<circle cx="324.1" cy="368.4" r="1.35" fill="#141414" stroke="#141414" stroke-width="0.7"/>
<circle cx="324" cy="414.7" r="1.35" fill="#141414" stroke="#141414" stroke-width="0.7"/>
<circle cx="325.5" cy="424.9" r="1.35" fill="#141414" stroke="#141414" stroke-width="0.7"/>
<circle cx="327.1" cy="430.4" r="1.15" fill="#fff" stroke="#141414" stroke-width="0.7"/>
<circle cx="328.6" cy="432.7" r="1.15" fill="#fff" stroke="#141414" stroke-width="0.7"/>
<circle cx="330.2" cy="435.9" r="1.15" fill="#fff" stroke="#141414" stroke-width="0.7"/>
<circle cx="331.8" cy="431.9" r="1.15" fill="#fff" stroke="#141414" stroke-width="0.7"/>
<circle cx="333.3" cy="435.1" r="1.15" fill="#fff" stroke="#141414" stroke-width="0.7"/>
<circle cx="335.4" cy="436.6" r="1.15" fill="#fff" stroke="#141414" stroke-width="0.7"/>
<circle cx="337.3" cy="431.2" r="1.15" fill="#fff" stroke="#141414" stroke-width="0.7"/>
<circle cx="339.1" cy="424.9" r="1.35" fill="#141414" stroke="#141414" stroke-width="0.7"/>
<circle cx="340.7" cy="431.9" r="1.15" fill="#fff" stroke="#141414" stroke-width="0.7"/>
<circle cx="342.7" cy="432.7" r="1.15" fill="#fff" stroke="#141414" stroke-width="0.7"/>
<circle cx="343.8" cy="438.2" r="1.15" fill="#fff" stroke="#141414" stroke-width="0.7"/>
<circle cx="345.4" cy="429.6" r="1.15" fill="#fff" stroke="#141414" stroke-width="0.7"/>
<circle cx="346.6" cy="416.3" r="1.35" fill="#141414" stroke="#141414" stroke-width="0.7"/>
<circle cx="347.3" cy="389" r="1.35" fill="#141414" stroke="#141414" stroke-width="0.7"/>
<circle cx="348.5" cy="361.6" r="1.35" fill="#141414" stroke="#141414" stroke-width="0.7"/>
<circle cx="349.5" cy="347.9" r="1.35" fill="#141414" stroke="#141414" stroke-width="0.7"/>
<circle cx="350.6" cy="346.3" r="1.35" fill="#141414" stroke="#141414" stroke-width="0.7"/>
<circle cx="352.1" cy="350.2" r="1.35" fill="#141414" stroke="#141414" stroke-width="0.7"/>
<circle cx="353.4" cy="354" r="1.35" fill="#141414" stroke="#141414" stroke-width="0.7"/>
<circle cx="354.6" cy="343.3" r="1.35" fill="#141414" stroke="#141414" stroke-width="0.7"/>
<circle cx="355.6" cy="338.7" r="1.35" fill="#141414" stroke="#141414" stroke-width="0.7"/>
<circle cx="356.7" cy="335.7" r="1.35" fill="#141414" stroke="#141414" stroke-width="0.7"/>
<circle cx="357.6" cy="354" r="1.35" fill="#141414" stroke="#141414" stroke-width="0.7"/>
<circle cx="358.7" cy="364.6" r="1.35" fill="#141414" stroke="#141414" stroke-width="0.7"/>
<circle cx="359.8" cy="372.3" r="1.35" fill="#141414" stroke="#141414" stroke-width="0.7"/>
<circle cx="360.7" cy="428.8" r="1.35" fill="#141414" stroke="#141414" stroke-width="0.7"/>
<circle cx="362.3" cy="430.4" r="1.15" fill="#fff" stroke="#141414" stroke-width="0.7"/>
<circle cx="363.9" cy="431.9" r="1.15" fill="#fff" stroke="#141414" stroke-width="0.7"/>
<circle cx="365.4" cy="433.5" r="1.15" fill="#fff" stroke="#141414" stroke-width="0.7"/>
<circle cx="367" cy="435.9" r="1.15" fill="#fff" stroke="#141414" stroke-width="0.7"/>
<circle cx="369.3" cy="438.2" r="1.15" fill="#fff" stroke="#141414" stroke-width="0.7"/>
<circle cx="370.2" cy="439" r="1.15" fill="#fff" stroke="#141414" stroke-width="0.7"/>
<circle cx="372.5" cy="436.6" r="1.15" fill="#fff" stroke="#141414" stroke-width="0.7"/>
<circle cx="374.1" cy="437.4" r="1.15" fill="#fff" stroke="#141414" stroke-width="0.7"/>
<circle cx="374.9" cy="424.1" r="1.15" fill="#fff" stroke="#141414" stroke-width="0.7"/>
<circle cx="375.6" cy="392.8" r="1.35" fill="#141414" stroke="#141414" stroke-width="0.7"/>
<circle cx="376" cy="386" r="1.35" fill="#141414" stroke="#141414" stroke-width="0.7"/>
<circle cx="376.9" cy="360.8" r="1.35" fill="#141414" stroke="#141414" stroke-width="0.7"/>
<circle cx="378" cy="357.8" r="1.35" fill="#141414" stroke="#141414" stroke-width="0.7"/>
<circle cx="379.5" cy="357.8" r="1.35" fill="#141414" stroke="#141414" stroke-width="0.7"/>
<circle cx="380.5" cy="364.6" r="1.35" fill="#141414" stroke="#141414" stroke-width="0.7"/>
<circle cx="381.8" cy="361.6" r="1.35" fill="#141414" stroke="#141414" stroke-width="0.7"/>
<circle cx="383" cy="359.3" r="1.35" fill="#141414" stroke="#141414" stroke-width="0.7"/>
<circle cx="383.6" cy="346.3" r="1.35" fill="#141414" stroke="#141414" stroke-width="0.7"/>
<circle cx="384.5" cy="339.5" r="1.35" fill="#141414" stroke="#141414" stroke-width="0.7"/>
<circle cx="385.6" cy="344.8" r="1.35" fill="#141414" stroke="#141414" stroke-width="0.7"/>
<circle cx="386.6" cy="358.5" r="1.35" fill="#141414" stroke="#141414" stroke-width="0.7"/>
<circle cx="387.9" cy="370.7" r="1.35" fill="#141414" stroke="#141414" stroke-width="0.7"/>
<circle cx="388.6" cy="384.5" r="1.35" fill="#141414" stroke="#141414" stroke-width="0.7"/>
<circle cx="389.4" cy="413.2" r="1.35" fill="#141414" stroke="#141414" stroke-width="0.7"/>
<circle cx="391" cy="416.3" r="1.15" fill="#fff" stroke="#141414" stroke-width="0.7"/>
<circle cx="392.9" cy="430.4" r="1.15" fill="#fff" stroke="#141414" stroke-width="0.7"/>
<circle cx="394.4" cy="438.2" r="1.15" fill="#fff" stroke="#141414" stroke-width="0.7"/>
<circle cx="396" cy="431.9" r="1.15" fill="#fff" stroke="#141414" stroke-width="0.7"/>
<circle cx="398.3" cy="434.3" r="1.15" fill="#fff" stroke="#141414" stroke-width="0.7"/>
<circle cx="400.7" cy="431.9" r="1.15" fill="#fff" stroke="#141414" stroke-width="0.7"/>
<circle cx="402.3" cy="427.3" r="1.15" fill="#fff" stroke="#141414" stroke-width="0.7"/>
<circle cx="403.5" cy="421" r="1.15" fill="#fff" stroke="#141414" stroke-width="0.7"/>
<circle cx="404.3" cy="396.7" r="1.35" fill="#141414" stroke="#141414" stroke-width="0.7"/>
<circle cx="404.9" cy="370.7" r="1.35" fill="#141414" stroke="#141414" stroke-width="0.7"/>
<circle cx="406.2" cy="359.3" r="1.35" fill="#141414" stroke="#141414" stroke-width="0.7"/>
<circle cx="408" cy="358.5" r="1.35" fill="#141414" stroke="#141414" stroke-width="0.7"/>
<circle cx="409.5" cy="365.4" r="1.35" fill="#141414" stroke="#141414" stroke-width="0.7"/>
<circle cx="410.7" cy="361.6" r="1.35" fill="#141414" stroke="#141414" stroke-width="0.7"/>
<circle cx="412" cy="344.8" r="1.35" fill="#141414" stroke="#141414" stroke-width="0.7"/>
<circle cx="413.5" cy="346.3" r="1.35" fill="#141414" stroke="#141414" stroke-width="0.7"/>
<circle cx="414.5" cy="350.9" r="1.35" fill="#141414" stroke="#141414" stroke-width="0.7"/>
<circle cx="415.3" cy="360.1" r="1.35" fill="#141414" stroke="#141414" stroke-width="0.7"/>
<circle cx="416.5" cy="375.3" r="1.35" fill="#141414" stroke="#141414" stroke-width="0.7"/>
<circle cx="417.6" cy="379.1" r="1.35" fill="#141414" stroke="#141414" stroke-width="0.7"/>
<circle cx="418.7" cy="424.1" r="1.35" fill="#141414" stroke="#141414" stroke-width="0.7"/>
<circle cx="420.2" cy="430.4" r="1.15" fill="#fff" stroke="#141414" stroke-width="0.7"/>
<circle cx="421.8" cy="436.6" r="1.15" fill="#fff" stroke="#141414" stroke-width="0.7"/>
<circle cx="423.4" cy="439.8" r="1.15" fill="#fff" stroke="#141414" stroke-width="0.7"/>
<circle cx="424.5" cy="444.5" r="1.15" fill="#fff" stroke="#141414" stroke-width="0.7"/>
<circle cx="425.7" cy="435.1" r="1.15" fill="#fff" stroke="#141414" stroke-width="0.7"/>
<circle cx="427.3" cy="432" r="1.15" fill="#fff" stroke="#141414" stroke-width="0.7"/>
<circle cx="428.1" cy="425.7" r="1.15" fill="#fff" stroke="#141414" stroke-width="0.7"/>
<path d="M306 411.6 L307.5 414 L309.1 413.2 L310.6 418.6 L311.9 423.3 L313 411.6 L314.1 405.3 L315.3 397.5 L316.9 396 L318.2 402.2 L319.3 391.3 L320.6 355.5 L321.6 338.7 L322.6 341.8 L322.9 389 L324 394.4 L325.5 399.1 L327.1 403.8 L328.6 410 L329.7 402.2 L331.3 413.2 L333.3 406.9 L334.9 410.8 L336.5 408.5 L338 407.7 L339.6 414 L341.2 422.6 L342.7 414.7 L344.3 417.9 L345.4 424.9 L347 416.3 L348.2 411.6 L348.8 387.5 L350.3 396.6 L352.6 396.6 L354.1 389 L354.9 360.1 L356.1 354 L357.2 344.8 L357.9 377.6 L358.7 398.2 L360 400.6 L361.5 405.3 L362.6 399.9 L363.9 408.5 L365.5 412.4 L367 416.3 L368.6 420.2 L370.2 423.3 L371.7 416.3 L373.3 426.5 L374.9 430.4 L376.4 424.1 L378 416.3 L379.6 417.9 L381.1 421 L382.7 408.5 L383.3 389 L384.1 372.3 L384.8 390.5 L385.8 399.1 L387.4 406.9 L389 416.3 L390.5 422.6 L392.1 419.4 L393.6 425.7 L395.2 423.3 L396.8 427.3 L398.3 434.3 L399.9 428.8 L401.5 432 L403 427.3 L404.6 419.4 L406.2 414 L407.7 410 L409.3 408.5 L410.9 410.8 L412.3 379.9 L413.5 385.2 L414.5 383.7 L415.6 408.5 L417.1 416.3 L418.7 421 L420.2 417.9 L421.8 419.4 L423.4 423.3 L424.9 426.5 L426.5 428.8 L428.1 422.6" fill="none" stroke="#cf2a3e" stroke-width="1.2" stroke-linejoin="round"/>
<circle cx="306" cy="411.6" r="1.15" fill="#fff" stroke="#cf2a3e" stroke-width="0.7"/>
<circle cx="307.5" cy="414" r="1.15" fill="#fff" stroke="#cf2a3e" stroke-width="0.7"/>
<circle cx="309.1" cy="413.2" r="1.15" fill="#fff" stroke="#cf2a3e" stroke-width="0.7"/>
<circle cx="310.6" cy="418.6" r="1.15" fill="#fff" stroke="#cf2a3e" stroke-width="0.7"/>
<circle cx="311.9" cy="423.3" r="1.15" fill="#fff" stroke="#cf2a3e" stroke-width="0.7"/>
<circle cx="313" cy="411.6" r="1.15" fill="#fff" stroke="#cf2a3e" stroke-width="0.7"/>
<circle cx="314.1" cy="405.3" r="1.15" fill="#fff" stroke="#cf2a3e" stroke-width="0.7"/>
<circle cx="315.3" cy="397.5" r="1.15" fill="#fff" stroke="#cf2a3e" stroke-width="0.7"/>
<circle cx="316.9" cy="396" r="1.15" fill="#fff" stroke="#cf2a3e" stroke-width="0.7"/>
<circle cx="318.2" cy="402.2" r="1.15" fill="#fff" stroke="#cf2a3e" stroke-width="0.7"/>
<circle cx="319.3" cy="391.3" r="1.15" fill="#fff" stroke="#cf2a3e" stroke-width="0.7"/>
<circle cx="320.6" cy="355.5" r="1.35" fill="#cf2a3e" stroke="#cf2a3e" stroke-width="0.7"/>
<circle cx="321.6" cy="338.7" r="1.35" fill="#cf2a3e" stroke="#cf2a3e" stroke-width="0.7"/>
<circle cx="322.6" cy="341.8" r="1.35" fill="#cf2a3e" stroke="#cf2a3e" stroke-width="0.7"/>
<circle cx="322.9" cy="389" r="1.35" fill="#cf2a3e" stroke="#cf2a3e" stroke-width="0.7"/>
<circle cx="324" cy="394.4" r="1.15" fill="#fff" stroke="#cf2a3e" stroke-width="0.7"/>
<circle cx="325.5" cy="399.1" r="1.15" fill="#fff" stroke="#cf2a3e" stroke-width="0.7"/>
<circle cx="327.1" cy="403.8" r="1.15" fill="#fff" stroke="#cf2a3e" stroke-width="0.7"/>
<circle cx="328.6" cy="410" r="1.15" fill="#fff" stroke="#cf2a3e" stroke-width="0.7"/>
<circle cx="329.7" cy="402.2" r="1.15" fill="#fff" stroke="#cf2a3e" stroke-width="0.7"/>
<circle cx="331.3" cy="413.2" r="1.15" fill="#fff" stroke="#cf2a3e" stroke-width="0.7"/>
<circle cx="333.3" cy="406.9" r="1.15" fill="#fff" stroke="#cf2a3e" stroke-width="0.7"/>
<circle cx="334.9" cy="410.8" r="1.15" fill="#fff" stroke="#cf2a3e" stroke-width="0.7"/>
<circle cx="336.5" cy="408.5" r="1.15" fill="#fff" stroke="#cf2a3e" stroke-width="0.7"/>
<circle cx="338" cy="407.7" r="1.15" fill="#fff" stroke="#cf2a3e" stroke-width="0.7"/>
<circle cx="339.6" cy="414" r="1.15" fill="#fff" stroke="#cf2a3e" stroke-width="0.7"/>
<circle cx="341.2" cy="422.6" r="1.15" fill="#fff" stroke="#cf2a3e" stroke-width="0.7"/>
<circle cx="342.7" cy="414.7" r="1.15" fill="#fff" stroke="#cf2a3e" stroke-width="0.7"/>
<circle cx="344.3" cy="417.9" r="1.15" fill="#fff" stroke="#cf2a3e" stroke-width="0.7"/>
<circle cx="345.4" cy="424.9" r="1.15" fill="#fff" stroke="#cf2a3e" stroke-width="0.7"/>
<circle cx="347" cy="416.3" r="1.15" fill="#fff" stroke="#cf2a3e" stroke-width="0.7"/>
<circle cx="348.2" cy="411.6" r="1.15" fill="#fff" stroke="#cf2a3e" stroke-width="0.7"/>
<circle cx="348.8" cy="387.5" r="1.35" fill="#cf2a3e" stroke="#cf2a3e" stroke-width="0.7"/>
<circle cx="350.3" cy="396.6" r="1.35" fill="#cf2a3e" stroke="#cf2a3e" stroke-width="0.7"/>
<circle cx="352.6" cy="396.6" r="1.15" fill="#fff" stroke="#cf2a3e" stroke-width="0.7"/>
<circle cx="354.1" cy="389" r="1.15" fill="#fff" stroke="#cf2a3e" stroke-width="0.7"/>
<circle cx="354.9" cy="360.1" r="1.35" fill="#cf2a3e" stroke="#cf2a3e" stroke-width="0.7"/>
<circle cx="356.1" cy="354" r="1.35" fill="#cf2a3e" stroke="#cf2a3e" stroke-width="0.7"/>
<circle cx="357.2" cy="344.8" r="1.35" fill="#cf2a3e" stroke="#cf2a3e" stroke-width="0.7"/>
<circle cx="357.9" cy="377.6" r="1.35" fill="#cf2a3e" stroke="#cf2a3e" stroke-width="0.7"/>
<circle cx="358.7" cy="398.2" r="1.15" fill="#fff" stroke="#cf2a3e" stroke-width="0.7"/>
<circle cx="360" cy="400.6" r="1.15" fill="#fff" stroke="#cf2a3e" stroke-width="0.7"/>
<circle cx="361.5" cy="405.3" r="1.15" fill="#fff" stroke="#cf2a3e" stroke-width="0.7"/>
<circle cx="362.6" cy="399.9" r="1.15" fill="#fff" stroke="#cf2a3e" stroke-width="0.7"/>
<circle cx="363.9" cy="408.5" r="1.15" fill="#fff" stroke="#cf2a3e" stroke-width="0.7"/>
<circle cx="365.5" cy="412.4" r="1.15" fill="#fff" stroke="#cf2a3e" stroke-width="0.7"/>
<circle cx="367" cy="416.3" r="1.15" fill="#fff" stroke="#cf2a3e" stroke-width="0.7"/>
<circle cx="368.6" cy="420.2" r="1.15" fill="#fff" stroke="#cf2a3e" stroke-width="0.7"/>
<circle cx="370.2" cy="423.3" r="1.15" fill="#fff" stroke="#cf2a3e" stroke-width="0.7"/>
<circle cx="371.7" cy="416.3" r="1.15" fill="#fff" stroke="#cf2a3e" stroke-width="0.7"/>
<circle cx="373.3" cy="426.5" r="1.15" fill="#fff" stroke="#cf2a3e" stroke-width="0.7"/>
<circle cx="374.9" cy="430.4" r="1.15" fill="#fff" stroke="#cf2a3e" stroke-width="0.7"/>
<circle cx="376.4" cy="424.1" r="1.15" fill="#fff" stroke="#cf2a3e" stroke-width="0.7"/>
<circle cx="378" cy="416.3" r="1.15" fill="#fff" stroke="#cf2a3e" stroke-width="0.7"/>
<circle cx="379.6" cy="417.9" r="1.15" fill="#fff" stroke="#cf2a3e" stroke-width="0.7"/>
<circle cx="381.1" cy="421" r="1.15" fill="#fff" stroke="#cf2a3e" stroke-width="0.7"/>
<circle cx="382.7" cy="408.5" r="1.15" fill="#fff" stroke="#cf2a3e" stroke-width="0.7"/>
<circle cx="383.3" cy="389" r="1.35" fill="#cf2a3e" stroke="#cf2a3e" stroke-width="0.7"/>
<circle cx="384.1" cy="372.3" r="1.35" fill="#cf2a3e" stroke="#cf2a3e" stroke-width="0.7"/>
<circle cx="384.8" cy="390.5" r="1.35" fill="#cf2a3e" stroke="#cf2a3e" stroke-width="0.7"/>
<circle cx="385.8" cy="399.1" r="1.15" fill="#fff" stroke="#cf2a3e" stroke-width="0.7"/>
<circle cx="387.4" cy="406.9" r="1.15" fill="#fff" stroke="#cf2a3e" stroke-width="0.7"/>
<circle cx="389" cy="416.3" r="1.15" fill="#fff" stroke="#cf2a3e" stroke-width="0.7"/>
<circle cx="390.5" cy="422.6" r="1.15" fill="#fff" stroke="#cf2a3e" stroke-width="0.7"/>
<circle cx="392.1" cy="419.4" r="1.15" fill="#fff" stroke="#cf2a3e" stroke-width="0.7"/>
<circle cx="393.6" cy="425.7" r="1.15" fill="#fff" stroke="#cf2a3e" stroke-width="0.7"/>
<circle cx="395.2" cy="423.3" r="1.15" fill="#fff" stroke="#cf2a3e" stroke-width="0.7"/>
<circle cx="396.8" cy="427.3" r="1.15" fill="#fff" stroke="#cf2a3e" stroke-width="0.7"/>
<circle cx="398.3" cy="434.3" r="1.15" fill="#fff" stroke="#cf2a3e" stroke-width="0.7"/>
<circle cx="399.9" cy="428.8" r="1.15" fill="#fff" stroke="#cf2a3e" stroke-width="0.7"/>
<circle cx="401.5" cy="432" r="1.15" fill="#fff" stroke="#cf2a3e" stroke-width="0.7"/>
<circle cx="403" cy="427.3" r="1.15" fill="#fff" stroke="#cf2a3e" stroke-width="0.7"/>
<circle cx="404.6" cy="419.4" r="1.15" fill="#fff" stroke="#cf2a3e" stroke-width="0.7"/>
<circle cx="406.2" cy="414" r="1.15" fill="#fff" stroke="#cf2a3e" stroke-width="0.7"/>
<circle cx="407.7" cy="410" r="1.15" fill="#fff" stroke="#cf2a3e" stroke-width="0.7"/>
<circle cx="409.3" cy="408.5" r="1.15" fill="#fff" stroke="#cf2a3e" stroke-width="0.7"/>
<circle cx="410.9" cy="410.8" r="1.15" fill="#fff" stroke="#cf2a3e" stroke-width="0.7"/>
<circle cx="412.3" cy="379.9" r="1.35" fill="#cf2a3e" stroke="#cf2a3e" stroke-width="0.7"/>
<circle cx="413.5" cy="385.2" r="1.35" fill="#cf2a3e" stroke="#cf2a3e" stroke-width="0.7"/>
<circle cx="414.5" cy="383.7" r="1.35" fill="#cf2a3e" stroke="#cf2a3e" stroke-width="0.7"/>
<circle cx="415.6" cy="408.5" r="1.15" fill="#fff" stroke="#cf2a3e" stroke-width="0.7"/>
<circle cx="417.1" cy="416.3" r="1.15" fill="#fff" stroke="#cf2a3e" stroke-width="0.7"/>
<circle cx="418.7" cy="421" r="1.15" fill="#fff" stroke="#cf2a3e" stroke-width="0.7"/>
<circle cx="420.2" cy="417.9" r="1.15" fill="#fff" stroke="#cf2a3e" stroke-width="0.7"/>
<circle cx="421.8" cy="419.4" r="1.15" fill="#fff" stroke="#cf2a3e" stroke-width="0.7"/>
<circle cx="423.4" cy="423.3" r="1.15" fill="#fff" stroke="#cf2a3e" stroke-width="0.7"/>
<circle cx="424.9" cy="426.5" r="1.15" fill="#fff" stroke="#cf2a3e" stroke-width="0.7"/>
<circle cx="426.5" cy="428.8" r="1.15" fill="#fff" stroke="#cf2a3e" stroke-width="0.7"/>
<circle cx="428.1" cy="422.6" r="1.15" fill="#fff" stroke="#cf2a3e" stroke-width="0.7"/>
<path d="M306.7 431.2 L308.3 431.9 L309.9 430.4 L311.4 428.8 M313.5 460.9 L316.1 460.1 L318.5 457 L320.4 450.7 L321.6 447.6 L322.9 453.9 L324 459.3 M325.9 429.8 L327.1 430.4 L330.3 431.6 L333.1 429.8 L335.4 433.8 L338.2 427 L341.1 433.3 L343.4 436.1 M345.7 460.1 L347.4 460.9 L349.8 458.6 L352.1 459.3 L354.5 453.9 L355.9 451 L358.4 454.6 L359.4 454.4 L361.1 432.1 L363.9 429.8 M369.6 433.3 L372.5 440.1 M374.9 454.6 L376.4 457 L378.8 457 L381.1 456.2 L382.7 453.1 L384.3 435.1 L385.4 439.8 L386.6 447.6 L388.2 450.7 L389.7 457 L391.3 460.1 M392.9 430.4 L394.7 431.9 M403.8 458.6 L406.2 457.8 L408.5 458.6 L410.9 456.2 L413.2 452.3 L414.8 452.3 L416.3 457 L417.9 458.6 M419.5 424.9 L422.3 429.6 M425.4 424.9 L428.1 427.3" fill="none" stroke="#4a86e0" stroke-width="1.2" stroke-linejoin="round"/>
<circle cx="306.7" cy="431.2" r="1.35" fill="#4a86e0" stroke="#4a86e0" stroke-width="0.7"/>
<circle cx="308.3" cy="431.9" r="1.15" fill="#fff" stroke="#4a86e0" stroke-width="0.7"/>
<circle cx="309.9" cy="430.4" r="1.35" fill="#4a86e0" stroke="#4a86e0" stroke-width="0.7"/>
<circle cx="311.4" cy="428.8" r="1.35" fill="#4a86e0" stroke="#4a86e0" stroke-width="0.7"/>
<circle cx="313.5" cy="460.9" r="1.15" fill="#fff" stroke="#4a86e0" stroke-width="0.7"/>
<circle cx="316.1" cy="460.1" r="1.15" fill="#fff" stroke="#4a86e0" stroke-width="0.7"/>
<circle cx="318.5" cy="457" r="1.15" fill="#fff" stroke="#4a86e0" stroke-width="0.7"/>
<circle cx="320.4" cy="450.7" r="1.15" fill="#fff" stroke="#4a86e0" stroke-width="0.7"/>
<circle cx="321.6" cy="447.6" r="1.35" fill="#4a86e0" stroke="#4a86e0" stroke-width="0.7"/>
<circle cx="322.9" cy="453.9" r="1.15" fill="#fff" stroke="#4a86e0" stroke-width="0.7"/>
<circle cx="324" cy="459.3" r="1.15" fill="#fff" stroke="#4a86e0" stroke-width="0.7"/>
<circle cx="325.9" cy="429.8" r="1.35" fill="#4a86e0" stroke="#4a86e0" stroke-width="0.7"/>
<circle cx="327.1" cy="430.4" r="1.35" fill="#4a86e0" stroke="#4a86e0" stroke-width="0.7"/>
<circle cx="330.3" cy="431.6" r="1.15" fill="#fff" stroke="#4a86e0" stroke-width="0.7"/>
<circle cx="333.1" cy="429.8" r="1.35" fill="#4a86e0" stroke="#4a86e0" stroke-width="0.7"/>
<circle cx="335.4" cy="433.8" r="1.15" fill="#fff" stroke="#4a86e0" stroke-width="0.7"/>
<circle cx="338.2" cy="427" r="1.35" fill="#4a86e0" stroke="#4a86e0" stroke-width="0.7"/>
<circle cx="341.1" cy="433.3" r="1.15" fill="#fff" stroke="#4a86e0" stroke-width="0.7"/>
<circle cx="343.4" cy="436.1" r="1.35" fill="#4a86e0" stroke="#4a86e0" stroke-width="0.7"/>
<circle cx="345.7" cy="460.1" r="1.15" fill="#fff" stroke="#4a86e0" stroke-width="0.7"/>
<circle cx="347.4" cy="460.9" r="1.15" fill="#fff" stroke="#4a86e0" stroke-width="0.7"/>
<circle cx="349.8" cy="458.6" r="1.15" fill="#fff" stroke="#4a86e0" stroke-width="0.7"/>
<circle cx="352.1" cy="459.3" r="1.15" fill="#fff" stroke="#4a86e0" stroke-width="0.7"/>
<circle cx="354.5" cy="453.9" r="1.15" fill="#fff" stroke="#4a86e0" stroke-width="0.7"/>
<circle cx="355.9" cy="451" r="1.35" fill="#4a86e0" stroke="#4a86e0" stroke-width="0.7"/>
<circle cx="358.4" cy="454.6" r="1.15" fill="#fff" stroke="#4a86e0" stroke-width="0.7"/>
<circle cx="359.4" cy="454.4" r="1.15" fill="#fff" stroke="#4a86e0" stroke-width="0.7"/>
<circle cx="361.1" cy="432.1" r="1.35" fill="#4a86e0" stroke="#4a86e0" stroke-width="0.7"/>
<circle cx="363.9" cy="429.8" r="1.35" fill="#4a86e0" stroke="#4a86e0" stroke-width="0.7"/>
<circle cx="366.8" cy="425.3" r="1.35" fill="#4a86e0" stroke="#4a86e0" stroke-width="0.7"/>
<circle cx="369.6" cy="433.3" r="1.35" fill="#4a86e0" stroke="#4a86e0" stroke-width="0.7"/>
<circle cx="372.5" cy="440.1" r="1.35" fill="#4a86e0" stroke="#4a86e0" stroke-width="0.7"/>
<circle cx="374.9" cy="454.6" r="1.15" fill="#fff" stroke="#4a86e0" stroke-width="0.7"/>
<circle cx="376.4" cy="457" r="1.15" fill="#fff" stroke="#4a86e0" stroke-width="0.7"/>
<circle cx="378.8" cy="457" r="1.15" fill="#fff" stroke="#4a86e0" stroke-width="0.7"/>
<circle cx="381.1" cy="456.2" r="1.15" fill="#fff" stroke="#4a86e0" stroke-width="0.7"/>
<circle cx="382.7" cy="453.1" r="1.15" fill="#fff" stroke="#4a86e0" stroke-width="0.7"/>
<circle cx="384.3" cy="435.1" r="1.35" fill="#4a86e0" stroke="#4a86e0" stroke-width="0.7"/>
<circle cx="385.4" cy="439.8" r="1.15" fill="#fff" stroke="#4a86e0" stroke-width="0.7"/>
<circle cx="386.6" cy="447.6" r="1.15" fill="#fff" stroke="#4a86e0" stroke-width="0.7"/>
<circle cx="388.2" cy="450.7" r="1.15" fill="#fff" stroke="#4a86e0" stroke-width="0.7"/>
<circle cx="389.7" cy="457" r="1.15" fill="#fff" stroke="#4a86e0" stroke-width="0.7"/>
<circle cx="391.3" cy="460.1" r="1.15" fill="#fff" stroke="#4a86e0" stroke-width="0.7"/>
<circle cx="392.9" cy="430.4" r="1.35" fill="#4a86e0" stroke="#4a86e0" stroke-width="0.7"/>
<circle cx="394.7" cy="431.9" r="1.15" fill="#fff" stroke="#4a86e0" stroke-width="0.7"/>
<circle cx="398.3" cy="442.1" r="1.35" fill="#4a86e0" stroke="#4a86e0" stroke-width="0.7"/>
<circle cx="400.7" cy="435.9" r="1.35" fill="#4a86e0" stroke="#4a86e0" stroke-width="0.7"/>
<circle cx="403.8" cy="458.6" r="1.15" fill="#fff" stroke="#4a86e0" stroke-width="0.7"/>
<circle cx="406.2" cy="457.8" r="1.15" fill="#fff" stroke="#4a86e0" stroke-width="0.7"/>
<circle cx="408.5" cy="458.6" r="1.15" fill="#fff" stroke="#4a86e0" stroke-width="0.7"/>
<circle cx="410.9" cy="456.2" r="1.15" fill="#fff" stroke="#4a86e0" stroke-width="0.7"/>
<circle cx="413.2" cy="452.3" r="1.15" fill="#fff" stroke="#4a86e0" stroke-width="0.7"/>
<circle cx="414.8" cy="452.3" r="1.15" fill="#fff" stroke="#4a86e0" stroke-width="0.7"/>
<circle cx="416.3" cy="457" r="1.15" fill="#fff" stroke="#4a86e0" stroke-width="0.7"/>
<circle cx="417.9" cy="458.6" r="1.15" fill="#fff" stroke="#4a86e0" stroke-width="0.7"/>
<circle cx="419.5" cy="424.9" r="1.35" fill="#4a86e0" stroke="#4a86e0" stroke-width="0.7"/>
<circle cx="422.3" cy="429.6" r="1.35" fill="#4a86e0" stroke="#4a86e0" stroke-width="0.7"/>
<circle cx="425.4" cy="424.9" r="1.35" fill="#4a86e0" stroke="#4a86e0" stroke-width="0.7"/>
<circle cx="428.1" cy="427.3" r="1.35" fill="#4a86e0" stroke="#4a86e0" stroke-width="0.7"/>
<path d="M497.3 418.6 L498.9 419.4 L500.5 423.3 L502 427.3 L503.6 430.4 L505.2 431.9 L506 399.9 L507.2 376.8 L508 338 L509.2 337.2 L509.9 334.9 L511 344.8 L511.8 361.6 L512.5 344.8 L513.3 338 L514.5 334.1 L515.3 329.6 L516 333.4 L516.8 338 L517.6 370 L518.3 375.3 L519.3 400.6 L520.8 402.2 L522.4 425.7 L524 431.9 L525.5 431.9 L527.1 430.4 L527.8 387.5 L528.5 375.3 L529.8 346.3 L530.8 338.7 L531.9 346.3 L533.1 350.2 L534.3 359.3 L535.4 346.3 L536.5 334.1 L537.7 340.2 L538.9 361.6 L540 373 L541 387.5 L541.2 422.6 L542.7 430.4 L544.3 435.1 L545.9 436.6 L547.4 412.4 L549.1 375.3 L550.8 350.2 L552.3 350.2 L553.4 360.8 L554.5 405.3 L555.3 384.5 L556.4 378.4 L557.3 375.3 L558.4 346.3 L559.5 342.5 L560.7 341 L561.4 343.3 L561.9 368.4 L563 373.8 L563.7 386 L564.5 350.2 L565.2 347.9 L566.8 348.6 L568.3 352.4 L569.5 372.3 L570.6 373.8 L571.6 370 L572.6 341.8 L573.6 342.5 L574.7 348.6 L575.9 347.9 L577.1 343.3 L578.7 343.3 L579.7 360.1 L581.3 361.6 L582.3 366.9 L583.5 373.8 L585.1 390.5 L585.8 376.8 L586.6 350.9 L587.8 348.6 L588.9 361.6 L589.9 366.2 L591.2 366.2 L591.9 346.3 L593 339.5 L593.9 335.7 L594.7 361.6 L595.7 368.4 L596.5 371.5 L597.6 378.4 L598.5 395.9 L598.8 410 L600.7 424.1 L601.9 436.6 L603.5 435.1 L605.1 435.9 L607.4 432.7 L609 430.4 L610.6 431.9 L612.6 423.3 L613.2 400.6 L614.8 386 L614.5 374.5 L616 373.8 L617.1 366.2 L618.6 365.4 L619.7 366.2 L620.6 346.3 L621.2 338 L622.1 338.7 L623.2 366.9 L624.4 373.8 L625.5 379.9 L626.7 383.7 L627.4 416.3 L629 422.6 L630.6 425.7 L632.1 416.3 L633.7 391.3 L634.3 374.5 L635.4 363.1 L636.2 362.3 L637.4 366.2 L638.4 367.7 L639.5 372.3 L640.7 369.2 L642.3 369.2 L643.5 378.4 L644.1 389 L645.3 392.1" fill="none" stroke="#141414" stroke-width="1.2" stroke-linejoin="round"/>
<circle cx="497.3" cy="418.6" r="1.35" fill="#141414" stroke="#141414" stroke-width="0.7"/>
<circle cx="498.9" cy="419.4" r="1.15" fill="#fff" stroke="#141414" stroke-width="0.7"/>
<circle cx="500.5" cy="423.3" r="1.15" fill="#fff" stroke="#141414" stroke-width="0.7"/>
<circle cx="502" cy="427.3" r="1.15" fill="#fff" stroke="#141414" stroke-width="0.7"/>
<circle cx="503.6" cy="430.4" r="1.15" fill="#fff" stroke="#141414" stroke-width="0.7"/>
<circle cx="505.2" cy="431.9" r="1.15" fill="#fff" stroke="#141414" stroke-width="0.7"/>
<circle cx="506" cy="399.9" r="1.35" fill="#141414" stroke="#141414" stroke-width="0.7"/>
<circle cx="507.2" cy="376.8" r="1.35" fill="#141414" stroke="#141414" stroke-width="0.7"/>
<circle cx="508" cy="338" r="1.35" fill="#141414" stroke="#141414" stroke-width="0.7"/>
<circle cx="509.2" cy="337.2" r="1.35" fill="#141414" stroke="#141414" stroke-width="0.7"/>
<circle cx="509.9" cy="334.9" r="1.35" fill="#141414" stroke="#141414" stroke-width="0.7"/>
<circle cx="511" cy="344.8" r="1.35" fill="#141414" stroke="#141414" stroke-width="0.7"/>
<circle cx="511.8" cy="361.6" r="1.35" fill="#141414" stroke="#141414" stroke-width="0.7"/>
<circle cx="512.5" cy="344.8" r="1.35" fill="#141414" stroke="#141414" stroke-width="0.7"/>
<circle cx="513.3" cy="338" r="1.35" fill="#141414" stroke="#141414" stroke-width="0.7"/>
<circle cx="514.5" cy="334.1" r="1.35" fill="#141414" stroke="#141414" stroke-width="0.7"/>
<circle cx="515.3" cy="329.6" r="1.35" fill="#141414" stroke="#141414" stroke-width="0.7"/>
<circle cx="516" cy="333.4" r="1.35" fill="#141414" stroke="#141414" stroke-width="0.7"/>
<circle cx="516.8" cy="338" r="1.35" fill="#141414" stroke="#141414" stroke-width="0.7"/>
<circle cx="517.6" cy="370" r="1.35" fill="#141414" stroke="#141414" stroke-width="0.7"/>
<circle cx="518.3" cy="375.3" r="1.35" fill="#141414" stroke="#141414" stroke-width="0.7"/>
<circle cx="519.3" cy="400.6" r="1.35" fill="#141414" stroke="#141414" stroke-width="0.7"/>
<circle cx="520.8" cy="402.2" r="1.15" fill="#fff" stroke="#141414" stroke-width="0.7"/>
<circle cx="522.4" cy="425.7" r="1.15" fill="#fff" stroke="#141414" stroke-width="0.7"/>
<circle cx="524" cy="431.9" r="1.15" fill="#fff" stroke="#141414" stroke-width="0.7"/>
<circle cx="525.5" cy="431.9" r="1.15" fill="#fff" stroke="#141414" stroke-width="0.7"/>
<circle cx="527.1" cy="430.4" r="1.15" fill="#fff" stroke="#141414" stroke-width="0.7"/>
<circle cx="527.8" cy="387.5" r="1.35" fill="#141414" stroke="#141414" stroke-width="0.7"/>
<circle cx="528.5" cy="375.3" r="1.35" fill="#141414" stroke="#141414" stroke-width="0.7"/>
<circle cx="529.8" cy="346.3" r="1.35" fill="#141414" stroke="#141414" stroke-width="0.7"/>
<circle cx="530.8" cy="338.7" r="1.35" fill="#141414" stroke="#141414" stroke-width="0.7"/>
<circle cx="531.9" cy="346.3" r="1.35" fill="#141414" stroke="#141414" stroke-width="0.7"/>
<circle cx="533.1" cy="350.2" r="1.35" fill="#141414" stroke="#141414" stroke-width="0.7"/>
<circle cx="534.3" cy="359.3" r="1.35" fill="#141414" stroke="#141414" stroke-width="0.7"/>
<circle cx="535.4" cy="346.3" r="1.35" fill="#141414" stroke="#141414" stroke-width="0.7"/>
<circle cx="536.5" cy="334.1" r="1.35" fill="#141414" stroke="#141414" stroke-width="0.7"/>
<circle cx="537.7" cy="340.2" r="1.35" fill="#141414" stroke="#141414" stroke-width="0.7"/>
<circle cx="538.9" cy="361.6" r="1.35" fill="#141414" stroke="#141414" stroke-width="0.7"/>
<circle cx="540" cy="373" r="1.35" fill="#141414" stroke="#141414" stroke-width="0.7"/>
<circle cx="541" cy="387.5" r="1.35" fill="#141414" stroke="#141414" stroke-width="0.7"/>
<circle cx="541.2" cy="422.6" r="1.35" fill="#141414" stroke="#141414" stroke-width="0.7"/>
<circle cx="542.7" cy="430.4" r="1.15" fill="#fff" stroke="#141414" stroke-width="0.7"/>
<circle cx="544.3" cy="435.1" r="1.15" fill="#fff" stroke="#141414" stroke-width="0.7"/>
<circle cx="545.9" cy="436.6" r="1.15" fill="#fff" stroke="#141414" stroke-width="0.7"/>
<circle cx="547.4" cy="412.4" r="1.35" fill="#141414" stroke="#141414" stroke-width="0.7"/>
<circle cx="549.1" cy="375.3" r="1.35" fill="#141414" stroke="#141414" stroke-width="0.7"/>
<circle cx="550.8" cy="350.2" r="1.35" fill="#141414" stroke="#141414" stroke-width="0.7"/>
<circle cx="552.3" cy="350.2" r="1.35" fill="#141414" stroke="#141414" stroke-width="0.7"/>
<circle cx="553.4" cy="360.8" r="1.35" fill="#141414" stroke="#141414" stroke-width="0.7"/>
<circle cx="554.5" cy="405.3" r="1.35" fill="#141414" stroke="#141414" stroke-width="0.7"/>
<circle cx="555.3" cy="384.5" r="1.35" fill="#141414" stroke="#141414" stroke-width="0.7"/>
<circle cx="556.4" cy="378.4" r="1.35" fill="#141414" stroke="#141414" stroke-width="0.7"/>
<circle cx="557.3" cy="375.3" r="1.35" fill="#141414" stroke="#141414" stroke-width="0.7"/>
<circle cx="558.4" cy="346.3" r="1.35" fill="#141414" stroke="#141414" stroke-width="0.7"/>
<circle cx="559.5" cy="342.5" r="1.35" fill="#141414" stroke="#141414" stroke-width="0.7"/>
<circle cx="560.7" cy="341" r="1.35" fill="#141414" stroke="#141414" stroke-width="0.7"/>
<circle cx="561.4" cy="343.3" r="1.35" fill="#141414" stroke="#141414" stroke-width="0.7"/>
<circle cx="561.9" cy="368.4" r="1.35" fill="#141414" stroke="#141414" stroke-width="0.7"/>
<circle cx="563" cy="373.8" r="1.35" fill="#141414" stroke="#141414" stroke-width="0.7"/>
<circle cx="563.7" cy="386" r="1.35" fill="#141414" stroke="#141414" stroke-width="0.7"/>
<circle cx="564.5" cy="350.2" r="1.35" fill="#141414" stroke="#141414" stroke-width="0.7"/>
<circle cx="565.2" cy="347.9" r="1.35" fill="#141414" stroke="#141414" stroke-width="0.7"/>
<circle cx="566.8" cy="348.6" r="1.35" fill="#141414" stroke="#141414" stroke-width="0.7"/>
<circle cx="568.3" cy="352.4" r="1.35" fill="#141414" stroke="#141414" stroke-width="0.7"/>
<circle cx="569.5" cy="372.3" r="1.35" fill="#141414" stroke="#141414" stroke-width="0.7"/>
<circle cx="570.6" cy="373.8" r="1.35" fill="#141414" stroke="#141414" stroke-width="0.7"/>
<circle cx="571.6" cy="370" r="1.35" fill="#141414" stroke="#141414" stroke-width="0.7"/>
<circle cx="572.6" cy="341.8" r="1.35" fill="#141414" stroke="#141414" stroke-width="0.7"/>
<circle cx="573.6" cy="342.5" r="1.35" fill="#141414" stroke="#141414" stroke-width="0.7"/>
<circle cx="574.7" cy="348.6" r="1.35" fill="#141414" stroke="#141414" stroke-width="0.7"/>
<circle cx="575.9" cy="347.9" r="1.35" fill="#141414" stroke="#141414" stroke-width="0.7"/>
<circle cx="577.1" cy="343.3" r="1.35" fill="#141414" stroke="#141414" stroke-width="0.7"/>
<circle cx="578.7" cy="343.3" r="1.35" fill="#141414" stroke="#141414" stroke-width="0.7"/>
<circle cx="579.7" cy="360.1" r="1.35" fill="#141414" stroke="#141414" stroke-width="0.7"/>
<circle cx="581.3" cy="361.6" r="1.35" fill="#141414" stroke="#141414" stroke-width="0.7"/>
<circle cx="582.3" cy="366.9" r="1.35" fill="#141414" stroke="#141414" stroke-width="0.7"/>
<circle cx="583.5" cy="373.8" r="1.35" fill="#141414" stroke="#141414" stroke-width="0.7"/>
<circle cx="585.1" cy="390.5" r="1.35" fill="#141414" stroke="#141414" stroke-width="0.7"/>
<circle cx="585.8" cy="376.8" r="1.35" fill="#141414" stroke="#141414" stroke-width="0.7"/>
<circle cx="586.6" cy="350.9" r="1.35" fill="#141414" stroke="#141414" stroke-width="0.7"/>
<circle cx="587.8" cy="348.6" r="1.35" fill="#141414" stroke="#141414" stroke-width="0.7"/>
<circle cx="588.9" cy="361.6" r="1.35" fill="#141414" stroke="#141414" stroke-width="0.7"/>
<circle cx="589.9" cy="366.2" r="1.35" fill="#141414" stroke="#141414" stroke-width="0.7"/>
<circle cx="591.2" cy="366.2" r="1.35" fill="#141414" stroke="#141414" stroke-width="0.7"/>
<circle cx="591.9" cy="346.3" r="1.35" fill="#141414" stroke="#141414" stroke-width="0.7"/>
<circle cx="593" cy="339.5" r="1.35" fill="#141414" stroke="#141414" stroke-width="0.7"/>
<circle cx="593.9" cy="335.7" r="1.35" fill="#141414" stroke="#141414" stroke-width="0.7"/>
<circle cx="594.7" cy="361.6" r="1.35" fill="#141414" stroke="#141414" stroke-width="0.7"/>
<circle cx="595.7" cy="368.4" r="1.35" fill="#141414" stroke="#141414" stroke-width="0.7"/>
<circle cx="596.5" cy="371.5" r="1.35" fill="#141414" stroke="#141414" stroke-width="0.7"/>
<circle cx="597.6" cy="378.4" r="1.35" fill="#141414" stroke="#141414" stroke-width="0.7"/>
<circle cx="598.5" cy="395.9" r="1.35" fill="#141414" stroke="#141414" stroke-width="0.7"/>
<circle cx="598.8" cy="410" r="1.35" fill="#141414" stroke="#141414" stroke-width="0.7"/>
<circle cx="600.7" cy="424.1" r="1.15" fill="#fff" stroke="#141414" stroke-width="0.7"/>
<circle cx="601.9" cy="436.6" r="1.15" fill="#fff" stroke="#141414" stroke-width="0.7"/>
<circle cx="603.5" cy="435.1" r="1.15" fill="#fff" stroke="#141414" stroke-width="0.7"/>
<circle cx="605.1" cy="435.9" r="1.15" fill="#fff" stroke="#141414" stroke-width="0.7"/>
<circle cx="607.4" cy="432.7" r="1.15" fill="#fff" stroke="#141414" stroke-width="0.7"/>
<circle cx="609" cy="430.4" r="1.15" fill="#fff" stroke="#141414" stroke-width="0.7"/>
<circle cx="610.6" cy="431.9" r="1.15" fill="#fff" stroke="#141414" stroke-width="0.7"/>
<circle cx="612.6" cy="423.3" r="1.15" fill="#fff" stroke="#141414" stroke-width="0.7"/>
<circle cx="613.2" cy="400.6" r="1.35" fill="#141414" stroke="#141414" stroke-width="0.7"/>
<circle cx="614.8" cy="386" r="1.35" fill="#141414" stroke="#141414" stroke-width="0.7"/>
<circle cx="614.5" cy="374.5" r="1.35" fill="#141414" stroke="#141414" stroke-width="0.7"/>
<circle cx="616" cy="373.8" r="1.35" fill="#141414" stroke="#141414" stroke-width="0.7"/>
<circle cx="617.1" cy="366.2" r="1.35" fill="#141414" stroke="#141414" stroke-width="0.7"/>
<circle cx="618.6" cy="365.4" r="1.35" fill="#141414" stroke="#141414" stroke-width="0.7"/>
<circle cx="619.7" cy="366.2" r="1.35" fill="#141414" stroke="#141414" stroke-width="0.7"/>
<circle cx="620.6" cy="346.3" r="1.35" fill="#141414" stroke="#141414" stroke-width="0.7"/>
<circle cx="621.2" cy="338" r="1.35" fill="#141414" stroke="#141414" stroke-width="0.7"/>
<circle cx="622.1" cy="338.7" r="1.35" fill="#141414" stroke="#141414" stroke-width="0.7"/>
<circle cx="623.2" cy="366.9" r="1.35" fill="#141414" stroke="#141414" stroke-width="0.7"/>
<circle cx="624.4" cy="373.8" r="1.35" fill="#141414" stroke="#141414" stroke-width="0.7"/>
<circle cx="625.5" cy="379.9" r="1.35" fill="#141414" stroke="#141414" stroke-width="0.7"/>
<circle cx="626.7" cy="383.7" r="1.35" fill="#141414" stroke="#141414" stroke-width="0.7"/>
<circle cx="627.4" cy="416.3" r="1.35" fill="#141414" stroke="#141414" stroke-width="0.7"/>
<circle cx="629" cy="422.6" r="1.15" fill="#fff" stroke="#141414" stroke-width="0.7"/>
<circle cx="630.6" cy="425.7" r="1.15" fill="#fff" stroke="#141414" stroke-width="0.7"/>
<circle cx="632.1" cy="416.3" r="1.15" fill="#fff" stroke="#141414" stroke-width="0.7"/>
<circle cx="633.7" cy="391.3" r="1.35" fill="#141414" stroke="#141414" stroke-width="0.7"/>
<circle cx="634.3" cy="374.5" r="1.35" fill="#141414" stroke="#141414" stroke-width="0.7"/>
<circle cx="635.4" cy="363.1" r="1.35" fill="#141414" stroke="#141414" stroke-width="0.7"/>
<circle cx="636.2" cy="362.3" r="1.35" fill="#141414" stroke="#141414" stroke-width="0.7"/>
<circle cx="637.4" cy="366.2" r="1.35" fill="#141414" stroke="#141414" stroke-width="0.7"/>
<circle cx="638.4" cy="367.7" r="1.35" fill="#141414" stroke="#141414" stroke-width="0.7"/>
<circle cx="639.5" cy="372.3" r="1.35" fill="#141414" stroke="#141414" stroke-width="0.7"/>
<circle cx="640.7" cy="369.2" r="1.35" fill="#141414" stroke="#141414" stroke-width="0.7"/>
<circle cx="642.3" cy="369.2" r="1.35" fill="#141414" stroke="#141414" stroke-width="0.7"/>
<circle cx="643.5" cy="378.4" r="1.35" fill="#141414" stroke="#141414" stroke-width="0.7"/>
<circle cx="644.1" cy="389" r="1.35" fill="#141414" stroke="#141414" stroke-width="0.7"/>
<circle cx="645.3" cy="392.1" r="1.35" fill="#141414" stroke="#141414" stroke-width="0.7"/>
<path d="M498.1 435.1 L499.4 407.7 L500.5 416.3 L502 425.7 L503.6 422.6 L504.7 435.1 L506.3 436.6 L507.5 415.5 L508.8 410.8 L510.2 413.2 L511.4 435.1 L513 403 L514.5 354.7 L515.6 381.4 L516.1 397.5 L517.2 437.4 L518.5 416.3 L519.7 408.5 L520.8 420.2 L521.9 422.6 L523.2 424.9 L524.4 432 L525.5 425.7 L527.1 437.4 L528.2 419.4 L529.4 428.8 L531 435.9 L532.6 428.8 L534.1 402.2 L535.4 410 L536.5 412.4 L537.6 415.5 L538.8 424.1 L540.4 427.3 L541.9 430.4 L543.5 435.1 L545.1 438.2 L546.6 441.3 L548.2 444.5 L549.8 441.3 L551.3 439 L552.9 442.9 L554.5 447.6 L556 442.9 L557.6 438.2 L559.2 435.1 L559.7 435.1 L560.9 422.6 L562 416.3 L563.1 406.9 L564.1 410 L565.2 430.4 L566.3 425.7 L567.5 433.5 L568.3 451.5 L569.4 431.2 L570.6 439 L572.2 442.9 L573.5 440.6 L575 439.8 L576.1 428.8 L577.2 416.3 L578.2 421 L579.3 435.9 L580 409.3 L580.8 413.2 L581.6 416.3 L582.9 411.6 L583.2 370 L584.4 385 L585.5 438.2 L586.3 426.5 L587.6 417.9 L588.6 421 L589.7 413.2 L591 416.3 L592.2 396.7 L593.3 400.6 L594.9 402.2 L596.5 410 L598 414 L599.6 417.1 L600.7 424.9 L601.9 431.9 L603.5 435.9 L604.7 435.2 L606.3 438.3 L607.8 443 L609.4 435.2 L611 431.2 L612.5 422.6 L614.1 432 L615.7 439.1 L616.9 430.5 L618.5 424.2 L619.6 427.3 L621.2 433.6 L621.9 442.2 L623.2 427.3 L624.8 430.5 L626.3 435.2 L627.9 439.9 L629 432 L630.6 422.6 L631.7 418.7 L632.9 425.7 L634.5 433.6 L636.1 439.9 L637.1 421 L638.1 414 L639.2 414.8 L640.4 400.7 L640.7 356.3 L642 400.7 L642.6 432 L643.9 425.7 L645.1 407.7" fill="none" stroke="#cf2a3e" stroke-width="1.2" stroke-linejoin="round"/>
<circle cx="498.1" cy="435.1" r="1.15" fill="#fff" stroke="#cf2a3e" stroke-width="0.7"/>
<circle cx="499.4" cy="407.7" r="1.35" fill="#cf2a3e" stroke="#cf2a3e" stroke-width="0.7"/>
<circle cx="500.5" cy="416.3" r="1.15" fill="#fff" stroke="#cf2a3e" stroke-width="0.7"/>
<circle cx="502" cy="425.7" r="1.15" fill="#fff" stroke="#cf2a3e" stroke-width="0.7"/>
<circle cx="503.6" cy="422.6" r="1.15" fill="#fff" stroke="#cf2a3e" stroke-width="0.7"/>
<circle cx="504.7" cy="435.1" r="1.15" fill="#fff" stroke="#cf2a3e" stroke-width="0.7"/>
<circle cx="506.3" cy="436.6" r="1.15" fill="#fff" stroke="#cf2a3e" stroke-width="0.7"/>
<circle cx="507.5" cy="415.5" r="1.15" fill="#fff" stroke="#cf2a3e" stroke-width="0.7"/>
<circle cx="508.8" cy="410.8" r="1.15" fill="#fff" stroke="#cf2a3e" stroke-width="0.7"/>
<circle cx="510.2" cy="413.2" r="1.15" fill="#fff" stroke="#cf2a3e" stroke-width="0.7"/>
<circle cx="511.4" cy="435.1" r="1.15" fill="#fff" stroke="#cf2a3e" stroke-width="0.7"/>
<circle cx="513" cy="403" r="1.15" fill="#fff" stroke="#cf2a3e" stroke-width="0.7"/>
<circle cx="514.5" cy="354.7" r="1.35" fill="#cf2a3e" stroke="#cf2a3e" stroke-width="0.7"/>
<circle cx="515.6" cy="381.4" r="1.15" fill="#fff" stroke="#cf2a3e" stroke-width="0.7"/>
<circle cx="516.1" cy="397.5" r="1.15" fill="#fff" stroke="#cf2a3e" stroke-width="0.7"/>
<circle cx="517.2" cy="437.4" r="1.15" fill="#fff" stroke="#cf2a3e" stroke-width="0.7"/>
<circle cx="518.5" cy="416.3" r="1.15" fill="#fff" stroke="#cf2a3e" stroke-width="0.7"/>
<circle cx="519.7" cy="408.5" r="1.15" fill="#fff" stroke="#cf2a3e" stroke-width="0.7"/>
<circle cx="520.8" cy="420.2" r="1.15" fill="#fff" stroke="#cf2a3e" stroke-width="0.7"/>
<circle cx="521.9" cy="422.6" r="1.15" fill="#fff" stroke="#cf2a3e" stroke-width="0.7"/>
<circle cx="523.2" cy="424.9" r="1.15" fill="#fff" stroke="#cf2a3e" stroke-width="0.7"/>
<circle cx="524.4" cy="432" r="1.15" fill="#fff" stroke="#cf2a3e" stroke-width="0.7"/>
<circle cx="525.5" cy="425.7" r="1.15" fill="#fff" stroke="#cf2a3e" stroke-width="0.7"/>
<circle cx="527.1" cy="437.4" r="1.15" fill="#fff" stroke="#cf2a3e" stroke-width="0.7"/>
<circle cx="528.2" cy="419.4" r="1.15" fill="#fff" stroke="#cf2a3e" stroke-width="0.7"/>
<circle cx="529.4" cy="428.8" r="1.15" fill="#fff" stroke="#cf2a3e" stroke-width="0.7"/>
<circle cx="531" cy="435.9" r="1.15" fill="#fff" stroke="#cf2a3e" stroke-width="0.7"/>
<circle cx="532.6" cy="428.8" r="1.15" fill="#fff" stroke="#cf2a3e" stroke-width="0.7"/>
<circle cx="534.1" cy="402.2" r="1.35" fill="#cf2a3e" stroke="#cf2a3e" stroke-width="0.7"/>
<circle cx="535.4" cy="410" r="1.15" fill="#fff" stroke="#cf2a3e" stroke-width="0.7"/>
<circle cx="536.5" cy="412.4" r="1.15" fill="#fff" stroke="#cf2a3e" stroke-width="0.7"/>
<circle cx="537.6" cy="415.5" r="1.15" fill="#fff" stroke="#cf2a3e" stroke-width="0.7"/>
<circle cx="538.8" cy="424.1" r="1.15" fill="#fff" stroke="#cf2a3e" stroke-width="0.7"/>
<circle cx="540.4" cy="427.3" r="1.15" fill="#fff" stroke="#cf2a3e" stroke-width="0.7"/>
<circle cx="541.9" cy="430.4" r="1.15" fill="#fff" stroke="#cf2a3e" stroke-width="0.7"/>
<circle cx="543.5" cy="435.1" r="1.15" fill="#fff" stroke="#cf2a3e" stroke-width="0.7"/>
<circle cx="545.1" cy="438.2" r="1.15" fill="#fff" stroke="#cf2a3e" stroke-width="0.7"/>
<circle cx="546.6" cy="441.3" r="1.15" fill="#fff" stroke="#cf2a3e" stroke-width="0.7"/>
<circle cx="548.2" cy="444.5" r="1.15" fill="#fff" stroke="#cf2a3e" stroke-width="0.7"/>
<circle cx="549.8" cy="441.3" r="1.15" fill="#fff" stroke="#cf2a3e" stroke-width="0.7"/>
<circle cx="551.3" cy="439" r="1.15" fill="#fff" stroke="#cf2a3e" stroke-width="0.7"/>
<circle cx="552.9" cy="442.9" r="1.15" fill="#fff" stroke="#cf2a3e" stroke-width="0.7"/>
<circle cx="554.5" cy="447.6" r="1.15" fill="#fff" stroke="#cf2a3e" stroke-width="0.7"/>
<circle cx="556" cy="442.9" r="1.15" fill="#fff" stroke="#cf2a3e" stroke-width="0.7"/>
<circle cx="557.6" cy="438.2" r="1.15" fill="#fff" stroke="#cf2a3e" stroke-width="0.7"/>
<circle cx="559.2" cy="435.1" r="1.15" fill="#fff" stroke="#cf2a3e" stroke-width="0.7"/>
<circle cx="559.7" cy="435.1" r="1.15" fill="#fff" stroke="#cf2a3e" stroke-width="0.7"/>
<circle cx="560.9" cy="422.6" r="1.15" fill="#fff" stroke="#cf2a3e" stroke-width="0.7"/>
<circle cx="562" cy="416.3" r="1.15" fill="#fff" stroke="#cf2a3e" stroke-width="0.7"/>
<circle cx="563.1" cy="406.9" r="1.35" fill="#cf2a3e" stroke="#cf2a3e" stroke-width="0.7"/>
<circle cx="564.1" cy="410" r="1.15" fill="#fff" stroke="#cf2a3e" stroke-width="0.7"/>
<circle cx="565.2" cy="430.4" r="1.15" fill="#fff" stroke="#cf2a3e" stroke-width="0.7"/>
<circle cx="566.3" cy="425.7" r="1.15" fill="#fff" stroke="#cf2a3e" stroke-width="0.7"/>
<circle cx="567.5" cy="433.5" r="1.15" fill="#fff" stroke="#cf2a3e" stroke-width="0.7"/>
<circle cx="568.3" cy="451.5" r="1.15" fill="#fff" stroke="#cf2a3e" stroke-width="0.7"/>
<circle cx="569.4" cy="431.2" r="1.15" fill="#fff" stroke="#cf2a3e" stroke-width="0.7"/>
<circle cx="570.6" cy="439" r="1.15" fill="#fff" stroke="#cf2a3e" stroke-width="0.7"/>
<circle cx="572.2" cy="442.9" r="1.15" fill="#fff" stroke="#cf2a3e" stroke-width="0.7"/>
<circle cx="573.5" cy="440.6" r="1.15" fill="#fff" stroke="#cf2a3e" stroke-width="0.7"/>
<circle cx="575" cy="439.8" r="1.15" fill="#fff" stroke="#cf2a3e" stroke-width="0.7"/>
<circle cx="576.1" cy="428.8" r="1.15" fill="#fff" stroke="#cf2a3e" stroke-width="0.7"/>
<circle cx="577.2" cy="416.3" r="1.15" fill="#fff" stroke="#cf2a3e" stroke-width="0.7"/>
<circle cx="578.2" cy="421" r="1.15" fill="#fff" stroke="#cf2a3e" stroke-width="0.7"/>
<circle cx="579.3" cy="435.9" r="1.15" fill="#fff" stroke="#cf2a3e" stroke-width="0.7"/>
<circle cx="580" cy="409.3" r="1.35" fill="#cf2a3e" stroke="#cf2a3e" stroke-width="0.7"/>
<circle cx="580.8" cy="413.2" r="1.15" fill="#fff" stroke="#cf2a3e" stroke-width="0.7"/>
<circle cx="581.6" cy="416.3" r="1.15" fill="#fff" stroke="#cf2a3e" stroke-width="0.7"/>
<circle cx="582.9" cy="411.6" r="1.15" fill="#fff" stroke="#cf2a3e" stroke-width="0.7"/>
<circle cx="583.2" cy="370" r="1.35" fill="#cf2a3e" stroke="#cf2a3e" stroke-width="0.7"/>
<circle cx="584.4" cy="385" r="1.15" fill="#fff" stroke="#cf2a3e" stroke-width="0.7"/>
<circle cx="585.5" cy="438.2" r="1.15" fill="#fff" stroke="#cf2a3e" stroke-width="0.7"/>
<circle cx="586.3" cy="426.5" r="1.15" fill="#fff" stroke="#cf2a3e" stroke-width="0.7"/>
<circle cx="587.6" cy="417.9" r="1.15" fill="#fff" stroke="#cf2a3e" stroke-width="0.7"/>
<circle cx="588.6" cy="421" r="1.15" fill="#fff" stroke="#cf2a3e" stroke-width="0.7"/>
<circle cx="589.7" cy="413.2" r="1.35" fill="#cf2a3e" stroke="#cf2a3e" stroke-width="0.7"/>
<circle cx="591" cy="416.3" r="1.15" fill="#fff" stroke="#cf2a3e" stroke-width="0.7"/>
<circle cx="592.2" cy="396.7" r="1.35" fill="#cf2a3e" stroke="#cf2a3e" stroke-width="0.7"/>
<circle cx="593.3" cy="400.6" r="1.15" fill="#fff" stroke="#cf2a3e" stroke-width="0.7"/>
<circle cx="594.9" cy="402.2" r="1.15" fill="#fff" stroke="#cf2a3e" stroke-width="0.7"/>
<circle cx="596.5" cy="410" r="1.15" fill="#fff" stroke="#cf2a3e" stroke-width="0.7"/>
<circle cx="598" cy="414" r="1.15" fill="#fff" stroke="#cf2a3e" stroke-width="0.7"/>
<circle cx="599.6" cy="417.1" r="1.15" fill="#fff" stroke="#cf2a3e" stroke-width="0.7"/>
<circle cx="600.7" cy="424.9" r="1.15" fill="#fff" stroke="#cf2a3e" stroke-width="0.7"/>
<circle cx="601.9" cy="431.9" r="1.15" fill="#fff" stroke="#cf2a3e" stroke-width="0.7"/>
<circle cx="603.5" cy="435.9" r="1.15" fill="#fff" stroke="#cf2a3e" stroke-width="0.7"/>
<circle cx="604.7" cy="435.2" r="1.15" fill="#fff" stroke="#cf2a3e" stroke-width="0.7"/>
<circle cx="606.3" cy="438.3" r="1.15" fill="#fff" stroke="#cf2a3e" stroke-width="0.7"/>
<circle cx="607.8" cy="443" r="1.15" fill="#fff" stroke="#cf2a3e" stroke-width="0.7"/>
<circle cx="609.4" cy="435.2" r="1.15" fill="#fff" stroke="#cf2a3e" stroke-width="0.7"/>
<circle cx="611" cy="431.2" r="1.15" fill="#fff" stroke="#cf2a3e" stroke-width="0.7"/>
<circle cx="612.5" cy="422.6" r="1.35" fill="#cf2a3e" stroke="#cf2a3e" stroke-width="0.7"/>
<circle cx="614.1" cy="432" r="1.15" fill="#fff" stroke="#cf2a3e" stroke-width="0.7"/>
<circle cx="615.7" cy="439.1" r="1.15" fill="#fff" stroke="#cf2a3e" stroke-width="0.7"/>
<circle cx="616.9" cy="430.5" r="1.15" fill="#fff" stroke="#cf2a3e" stroke-width="0.7"/>
<circle cx="618.5" cy="424.2" r="1.15" fill="#fff" stroke="#cf2a3e" stroke-width="0.7"/>
<circle cx="619.6" cy="427.3" r="1.15" fill="#fff" stroke="#cf2a3e" stroke-width="0.7"/>
<circle cx="621.2" cy="433.6" r="1.15" fill="#fff" stroke="#cf2a3e" stroke-width="0.7"/>
<circle cx="621.9" cy="442.2" r="1.15" fill="#fff" stroke="#cf2a3e" stroke-width="0.7"/>
<circle cx="623.2" cy="427.3" r="1.15" fill="#fff" stroke="#cf2a3e" stroke-width="0.7"/>
<circle cx="624.8" cy="430.5" r="1.15" fill="#fff" stroke="#cf2a3e" stroke-width="0.7"/>
<circle cx="626.3" cy="435.2" r="1.15" fill="#fff" stroke="#cf2a3e" stroke-width="0.7"/>
<circle cx="627.9" cy="439.9" r="1.15" fill="#fff" stroke="#cf2a3e" stroke-width="0.7"/>
<circle cx="629" cy="432" r="1.15" fill="#fff" stroke="#cf2a3e" stroke-width="0.7"/>
<circle cx="630.6" cy="422.6" r="1.15" fill="#fff" stroke="#cf2a3e" stroke-width="0.7"/>
<circle cx="631.7" cy="418.7" r="1.15" fill="#fff" stroke="#cf2a3e" stroke-width="0.7"/>
<circle cx="632.9" cy="425.7" r="1.15" fill="#fff" stroke="#cf2a3e" stroke-width="0.7"/>
<circle cx="634.5" cy="433.6" r="1.15" fill="#fff" stroke="#cf2a3e" stroke-width="0.7"/>
<circle cx="636.1" cy="439.9" r="1.15" fill="#fff" stroke="#cf2a3e" stroke-width="0.7"/>
<circle cx="637.1" cy="421" r="1.15" fill="#fff" stroke="#cf2a3e" stroke-width="0.7"/>
<circle cx="638.1" cy="414" r="1.15" fill="#fff" stroke="#cf2a3e" stroke-width="0.7"/>
<circle cx="639.2" cy="414.8" r="1.15" fill="#fff" stroke="#cf2a3e" stroke-width="0.7"/>
<circle cx="640.4" cy="400.7" r="1.35" fill="#cf2a3e" stroke="#cf2a3e" stroke-width="0.7"/>
<circle cx="640.7" cy="356.3" r="1.35" fill="#cf2a3e" stroke="#cf2a3e" stroke-width="0.7"/>
<circle cx="642" cy="400.7" r="1.15" fill="#fff" stroke="#cf2a3e" stroke-width="0.7"/>
<circle cx="642.6" cy="432" r="1.15" fill="#fff" stroke="#cf2a3e" stroke-width="0.7"/>
<circle cx="643.9" cy="425.7" r="1.15" fill="#fff" stroke="#cf2a3e" stroke-width="0.7"/>
<circle cx="645.1" cy="407.7" r="1.35" fill="#cf2a3e" stroke="#cf2a3e" stroke-width="0.7"/>
<path d="M497.8 427.3 L500.5 424.1 L502.5 427.3 L504.7 431.9 M518.3 450.1 L518.8 446.4 L520.9 450.1 L523.6 451.7 L524.6 447.5 L525.7 439.6 L526.7 416.3 L527.1 414.7 L527.9 405.3 L529.1 419.4 L530.2 449.2 L531.8 453.9 L533.3 450.7 L534.9 444.5 L536.5 450.7 L538 452.3 L539.6 449.2 L541.2 442.9 L542.7 425.7 L543.8 413.2 L544.8 414.7 L545.9 435.1 L547.4 450.7 L549 452.3 L551.3 453.9 L553.7 455.4 L556 456.2 L557.3 455.4 L559.7 456.2 L562 453.9 L564.4 456.2 L566.7 454.6 L569.1 455.4 L571.4 457 L573.8 454.6 L576.1 452.3 L578.2 445.3 L579.3 442.1 L580.4 447.6 L582.4 452.3 L584.7 453.1 L587.1 453.9 L589.4 455.4 L591.8 453.1 L593.3 446 L594.9 453.9 L596.5 456.2 L598.8 458.6 L600.1 433.5 L601.6 432.7 L603.5 435.1 L605.9 433.5 L608.2 435.1 L610.6 433.5 L612.6 435.1 L614.5 437.4 L615.7 441.3 L617.2 450.8 L618.8 458.7 L620.4 457.1 L621.9 450.8 L623.2 455.5 L624.3 459.5 L625.1 433.6 L626.6 436.7 L628.2 432 L629.8 452.4 L631.3 438.3 L632.9 439.9 L635.3 444.6 L637.6 450.8 L639.2 454 L640.4 452.4 L641.5 455.5 L643.1 457.1 L644.7 455.5" fill="none" stroke="#4a86e0" stroke-width="1.2" stroke-linejoin="round"/>
<circle cx="497.8" cy="427.3" r="1.15" fill="#fff" stroke="#4a86e0" stroke-width="0.7"/>
<circle cx="500.5" cy="424.1" r="1.15" fill="#fff" stroke="#4a86e0" stroke-width="0.7"/>
<circle cx="502.5" cy="427.3" r="1.15" fill="#fff" stroke="#4a86e0" stroke-width="0.7"/>
<circle cx="504.7" cy="431.9" r="1.15" fill="#fff" stroke="#4a86e0" stroke-width="0.7"/>
<circle cx="506.1" cy="458.6" r="1.15" fill="#fff" stroke="#4a86e0" stroke-width="0.7"/>
<circle cx="512" cy="455.4" r="1.15" fill="#fff" stroke="#4a86e0" stroke-width="0.7"/>
<circle cx="518.3" cy="450.1" r="1.15" fill="#fff" stroke="#4a86e0" stroke-width="0.7"/>
<circle cx="518.8" cy="446.4" r="1.35" fill="#4a86e0" stroke="#4a86e0" stroke-width="0.7"/>
<circle cx="520.9" cy="450.1" r="1.15" fill="#fff" stroke="#4a86e0" stroke-width="0.7"/>
<circle cx="523.6" cy="451.7" r="1.15" fill="#fff" stroke="#4a86e0" stroke-width="0.7"/>
<circle cx="524.6" cy="447.5" r="1.15" fill="#fff" stroke="#4a86e0" stroke-width="0.7"/>
<circle cx="525.7" cy="439.6" r="1.15" fill="#fff" stroke="#4a86e0" stroke-width="0.7"/>
<circle cx="526.7" cy="416.3" r="1.15" fill="#fff" stroke="#4a86e0" stroke-width="0.7"/>
<circle cx="527.1" cy="414.7" r="1.35" fill="#4a86e0" stroke="#4a86e0" stroke-width="0.7"/>
<circle cx="527.9" cy="405.3" r="1.15" fill="#fff" stroke="#4a86e0" stroke-width="0.7"/>
<circle cx="529.1" cy="419.4" r="1.15" fill="#fff" stroke="#4a86e0" stroke-width="0.7"/>
<circle cx="530.2" cy="449.2" r="1.15" fill="#fff" stroke="#4a86e0" stroke-width="0.7"/>
<circle cx="531.8" cy="453.9" r="1.15" fill="#fff" stroke="#4a86e0" stroke-width="0.7"/>
<circle cx="533.3" cy="450.7" r="1.15" fill="#fff" stroke="#4a86e0" stroke-width="0.7"/>
<circle cx="534.9" cy="444.5" r="1.35" fill="#4a86e0" stroke="#4a86e0" stroke-width="0.7"/>
<circle cx="536.5" cy="450.7" r="1.15" fill="#fff" stroke="#4a86e0" stroke-width="0.7"/>
<circle cx="538" cy="452.3" r="1.15" fill="#fff" stroke="#4a86e0" stroke-width="0.7"/>
<circle cx="539.6" cy="449.2" r="1.15" fill="#fff" stroke="#4a86e0" stroke-width="0.7"/>
<circle cx="541.2" cy="442.9" r="1.15" fill="#fff" stroke="#4a86e0" stroke-width="0.7"/>
<circle cx="542.7" cy="425.7" r="1.15" fill="#fff" stroke="#4a86e0" stroke-width="0.7"/>
<circle cx="543.8" cy="413.2" r="1.35" fill="#4a86e0" stroke="#4a86e0" stroke-width="0.7"/>
<circle cx="544.8" cy="414.7" r="1.15" fill="#fff" stroke="#4a86e0" stroke-width="0.7"/>
<circle cx="545.9" cy="435.1" r="1.15" fill="#fff" stroke="#4a86e0" stroke-width="0.7"/>
<circle cx="547.4" cy="450.7" r="1.15" fill="#fff" stroke="#4a86e0" stroke-width="0.7"/>
<circle cx="549" cy="452.3" r="1.15" fill="#fff" stroke="#4a86e0" stroke-width="0.7"/>
<circle cx="551.3" cy="453.9" r="1.15" fill="#fff" stroke="#4a86e0" stroke-width="0.7"/>
<circle cx="553.7" cy="455.4" r="1.15" fill="#fff" stroke="#4a86e0" stroke-width="0.7"/>
<circle cx="556" cy="456.2" r="1.15" fill="#fff" stroke="#4a86e0" stroke-width="0.7"/>
<circle cx="557.3" cy="455.4" r="1.15" fill="#fff" stroke="#4a86e0" stroke-width="0.7"/>
<circle cx="559.7" cy="456.2" r="1.15" fill="#fff" stroke="#4a86e0" stroke-width="0.7"/>
<circle cx="562" cy="453.9" r="1.15" fill="#fff" stroke="#4a86e0" stroke-width="0.7"/>
<circle cx="564.4" cy="456.2" r="1.15" fill="#fff" stroke="#4a86e0" stroke-width="0.7"/>
<circle cx="566.7" cy="454.6" r="1.15" fill="#fff" stroke="#4a86e0" stroke-width="0.7"/>
<circle cx="569.1" cy="455.4" r="1.15" fill="#fff" stroke="#4a86e0" stroke-width="0.7"/>
<circle cx="571.4" cy="457" r="1.15" fill="#fff" stroke="#4a86e0" stroke-width="0.7"/>
<circle cx="573.8" cy="454.6" r="1.15" fill="#fff" stroke="#4a86e0" stroke-width="0.7"/>
<circle cx="576.1" cy="452.3" r="1.15" fill="#fff" stroke="#4a86e0" stroke-width="0.7"/>
<circle cx="578.2" cy="445.3" r="1.15" fill="#fff" stroke="#4a86e0" stroke-width="0.7"/>
<circle cx="579.3" cy="442.1" r="1.35" fill="#4a86e0" stroke="#4a86e0" stroke-width="0.7"/>
<circle cx="580.4" cy="447.6" r="1.15" fill="#fff" stroke="#4a86e0" stroke-width="0.7"/>
<circle cx="582.4" cy="452.3" r="1.15" fill="#fff" stroke="#4a86e0" stroke-width="0.7"/>
<circle cx="584.7" cy="453.1" r="1.15" fill="#fff" stroke="#4a86e0" stroke-width="0.7"/>
<circle cx="587.1" cy="453.9" r="1.15" fill="#fff" stroke="#4a86e0" stroke-width="0.7"/>
<circle cx="589.4" cy="455.4" r="1.15" fill="#fff" stroke="#4a86e0" stroke-width="0.7"/>
<circle cx="591.8" cy="453.1" r="1.15" fill="#fff" stroke="#4a86e0" stroke-width="0.7"/>
<circle cx="593.3" cy="446" r="1.35" fill="#4a86e0" stroke="#4a86e0" stroke-width="0.7"/>
<circle cx="594.9" cy="453.9" r="1.15" fill="#fff" stroke="#4a86e0" stroke-width="0.7"/>
<circle cx="596.5" cy="456.2" r="1.15" fill="#fff" stroke="#4a86e0" stroke-width="0.7"/>
<circle cx="598.8" cy="458.6" r="1.15" fill="#fff" stroke="#4a86e0" stroke-width="0.7"/>
<circle cx="600.1" cy="433.5" r="1.15" fill="#fff" stroke="#4a86e0" stroke-width="0.7"/>
<circle cx="601.6" cy="432.7" r="1.15" fill="#fff" stroke="#4a86e0" stroke-width="0.7"/>
<circle cx="603.5" cy="435.1" r="1.15" fill="#fff" stroke="#4a86e0" stroke-width="0.7"/>
<circle cx="605.9" cy="433.5" r="1.15" fill="#fff" stroke="#4a86e0" stroke-width="0.7"/>
<circle cx="608.2" cy="435.1" r="1.15" fill="#fff" stroke="#4a86e0" stroke-width="0.7"/>
<circle cx="610.6" cy="433.5" r="1.15" fill="#fff" stroke="#4a86e0" stroke-width="0.7"/>
<circle cx="612.6" cy="435.1" r="1.15" fill="#fff" stroke="#4a86e0" stroke-width="0.7"/>
<circle cx="614.5" cy="437.4" r="1.15" fill="#fff" stroke="#4a86e0" stroke-width="0.7"/>
<circle cx="615.7" cy="441.3" r="1.35" fill="#4a86e0" stroke="#4a86e0" stroke-width="0.7"/>
<circle cx="617.2" cy="450.8" r="1.15" fill="#fff" stroke="#4a86e0" stroke-width="0.7"/>
<circle cx="618.8" cy="458.7" r="1.15" fill="#fff" stroke="#4a86e0" stroke-width="0.7"/>
<circle cx="620.4" cy="457.1" r="1.15" fill="#fff" stroke="#4a86e0" stroke-width="0.7"/>
<circle cx="621.9" cy="450.8" r="1.15" fill="#fff" stroke="#4a86e0" stroke-width="0.7"/>
<circle cx="623.2" cy="455.5" r="1.15" fill="#fff" stroke="#4a86e0" stroke-width="0.7"/>
<circle cx="624.3" cy="459.5" r="1.15" fill="#fff" stroke="#4a86e0" stroke-width="0.7"/>
<circle cx="625.1" cy="433.6" r="1.35" fill="#4a86e0" stroke="#4a86e0" stroke-width="0.7"/>
<circle cx="626.6" cy="436.7" r="1.15" fill="#fff" stroke="#4a86e0" stroke-width="0.7"/>
<circle cx="628.2" cy="432" r="1.15" fill="#fff" stroke="#4a86e0" stroke-width="0.7"/>
<circle cx="629.8" cy="452.4" r="1.15" fill="#fff" stroke="#4a86e0" stroke-width="0.7"/>
<circle cx="631.3" cy="438.3" r="1.15" fill="#fff" stroke="#4a86e0" stroke-width="0.7"/>
<circle cx="632.9" cy="439.9" r="1.15" fill="#fff" stroke="#4a86e0" stroke-width="0.7"/>
<circle cx="635.3" cy="444.6" r="1.15" fill="#fff" stroke="#4a86e0" stroke-width="0.7"/>
<circle cx="637.6" cy="450.8" r="1.15" fill="#fff" stroke="#4a86e0" stroke-width="0.7"/>
<circle cx="639.2" cy="454" r="1.15" fill="#fff" stroke="#4a86e0" stroke-width="0.7"/>
<circle cx="640.4" cy="452.4" r="1.15" fill="#fff" stroke="#4a86e0" stroke-width="0.7"/>
<circle cx="641.5" cy="455.5" r="1.15" fill="#fff" stroke="#4a86e0" stroke-width="0.7"/>
<circle cx="643.1" cy="457.1" r="1.15" fill="#fff" stroke="#4a86e0" stroke-width="0.7"/>
<circle cx="644.7" cy="455.5" r="1.15" fill="#fff" stroke="#4a86e0" stroke-width="0.7"/>
<path d="M129 23.4 C129.59 23.75 129.81 22.89 131.2 24.7 C132.59 26.51 132.52 29.72 134.2 30.2 C135.88 30.68 136.19 26.66 137.5 26.5 C138.81 26.34 137.95 26.69 139.1 29.6 C140.25 32.51 140.68 36.76 141.8 37.4 C142.92 38.04 142.39 33.84 143.3 32 C144.21 30.16 144.37 29.86 145.2 30.5 C146.03 31.14 145.28 29.47 146.4 34.4 C147.52 39.33 147.96 45.93 149.4 49 C150.84 52.07 150.33 48.17 151.8 45.9 C153.27 43.63 153.59 41.94 154.9 40.5 C156.21 39.06 155.42 41.17 156.7 40.5 C157.98 39.83 158.1 37.2 159.7 38 C161.3 38.8 161.23 41.93 162.7 43.5 C164.17 45.07 163.84 43.02 165.2 43.9 C166.56 44.78 166.52 47.55 167.8 46.8 C169.08 46.05 168.93 42.94 170 41.1 C171.07 39.26 170.65 38.62 171.8 39.9 C172.95 41.18 172.99 43.74 174.3 45.9 C175.61 48.06 175.26 47.76 176.7 48 C178.14 48.24 178.1 47.68 179.7 46.8 C181.3 45.92 181.23 44.11 182.7 44.7 C184.17 45.29 183.73 48.36 185.2 49 C186.67 49.64 186.28 48.41 188.2 47.1 C190.12 45.79 190.29 44.42 192.4 44.1 C194.51 43.78 194.15 44.43 196.1 45.9 C198.05 47.37 197.91 49.44 199.7 49.6 C201.49 49.76 201.01 46.93 202.8 46.5 C204.59 46.07 204.85 48.96 206.4 48 C207.95 47.04 208.01 44.26 208.6 42.9" fill="none" stroke="#27663a" stroke-width="1.3" stroke-linejoin="round" stroke-linecap="round"/>
<path d="M315.1 48 C315.79 47.31 316.31 46.79 317.7 45.4 C319.09 44.01 319.07 42.8 320.3 42.8 C321.53 42.8 321.15 45.16 322.3 45.4 C323.45 45.64 323.53 43.91 324.6 43.7 C325.67 43.49 325.39 45.05 326.3 44.6 C327.21 44.15 326.88 42.24 328 42 C329.12 41.76 329.14 42.34 330.5 43.7 C331.86 45.06 331.71 47.34 333.1 47.1 C334.49 46.86 334.55 43.25 335.7 42.8 C336.85 42.35 336.39 43.56 337.4 45.4 C338.41 47.24 338.35 49.25 339.5 49.7 C340.65 50.15 340.45 48.46 341.7 47.1 C342.95 45.74 342.97 44.81 344.2 44.6 C345.43 44.39 345.15 46.78 346.3 46.3 C347.45 45.82 347.22 42.8 348.5 42.8 C349.78 42.8 349.71 46.06 351.1 46.3 C352.49 46.54 352.34 45.3 353.7 43.7 C355.06 42.1 354.97 40.3 356.2 40.3 C357.43 40.3 357.02 41.06 358.3 43.7 C359.58 46.34 359.64 50.2 361 50.2 C362.36 50.2 362.01 46.9 363.4 43.7 C364.79 40.5 364.81 37.75 366.2 38.2 C367.59 38.65 367.29 43.03 368.6 45.4 C369.91 47.77 369.82 47.79 371.1 47.1 C372.38 46.41 372.12 44.85 373.4 42.8 C374.68 40.75 374.54 39.4 375.9 39.4 C377.26 39.4 377.27 41.41 378.5 42.8 C379.73 44.19 379.22 45.64 380.5 44.6 C381.78 43.56 382.02 39.14 383.3 38.9 C384.58 38.66 384.21 41.73 385.3 43.7 C386.39 45.67 386.01 47.45 387.4 46.3 C388.79 45.15 389.01 40.33 390.5 39.4 C391.99 38.47 392.01 40.96 393 42.8 C393.99 44.64 393.27 46.14 394.2 46.3 C395.13 46.46 395.22 44.47 396.5 43.4 C397.78 42.33 397.4 42.22 399 42.3 C400.6 42.38 400.9 43.09 402.5 43.7 C404.1 44.31 403.88 44.6 405 44.6 C406.12 44.6 405.63 43.25 406.7 43.7 C407.77 44.15 407.61 46.3 409 46.3 C410.39 46.3 410.43 43.94 411.9 43.7 C413.37 43.46 413.14 45.64 414.5 45.4 C415.86 45.16 415.64 42.11 417 42.8 C418.36 43.49 418.21 47.76 419.6 48 C420.99 48.24 420.92 45.22 422.2 43.7 C423.48 42.18 423.49 42.38 424.4 42.3 C425.31 42.22 425.28 43.11 425.6 43.4" fill="none" stroke="#27663a" stroke-width="1.3" stroke-linejoin="round" stroke-linecap="round"/>
<path d="M515.5 35.6 C515.9 37.12 516.07 41.3 517 41.3 C517.93 41.3 518.2 36.85 519 35.6 C519.8 34.35 519.25 34.92 520 36.6 C520.75 38.28 520.6 42.38 521.8 41.9 C523 41.42 523.09 36.45 524.5 34.8 C525.91 33.15 525.69 34.05 527.1 35.7 C528.51 37.35 527.88 41.24 529.8 41 C531.72 40.76 532.41 35.73 534.3 34.8 C536.19 33.87 535.49 36.06 536.9 37.5 C538.31 38.94 538.16 39.96 539.6 40.2 C541.04 40.44 540.86 40.32 542.3 38.4 C543.74 36.48 543.72 33.24 545 33 C546.28 32.76 546.06 36.54 547.1 37.5 C548.14 38.46 547.81 35.19 548.9 36.6 C549.99 38.01 550.03 42.56 551.2 42.8 C552.37 43.04 552.1 36.43 553.3 37.5 C554.5 38.57 554.37 46.8 555.7 46.8 C557.03 46.8 557.13 38.81 558.3 37.5 C559.47 36.19 558.66 42.14 560.1 41.9 C561.54 41.66 562.13 36.36 563.7 36.6 C565.27 36.84 564.91 41.63 566 42.8 C567.09 43.97 566.76 41.24 567.8 41 C568.84 40.76 568.62 42.75 569.9 41.9 C571.18 41.05 571.16 38.04 572.6 37.8 C574.04 37.56 573.86 39.91 575.3 41 C576.74 42.09 576.59 41.79 578 41.9 C579.41 42.01 579.19 41.16 580.6 41.4 C582.01 41.64 581.86 42.67 583.3 42.8 C584.74 42.93 584.8 41.42 586 41.9 C587.2 42.38 586.63 45.29 587.8 44.6 C588.97 43.91 588.99 39.54 590.4 39.3 C591.81 39.06 591.66 42.29 593.1 43.7 C594.54 45.11 594.36 44.84 595.8 44.6 C597.24 44.36 597.09 43.28 598.5 42.8 C599.91 42.32 599.69 43.28 601.1 42.8 C602.51 42.32 602.36 41.69 603.8 41 C605.24 40.31 605.3 40.89 606.5 40.2 C607.7 39.51 607.13 37.23 608.3 38.4 C609.47 39.57 609.49 44.12 610.9 44.6 C612.31 45.08 612.16 40.92 613.6 40.2 C615.04 39.48 614.86 41.9 616.3 41.9 C617.74 41.9 617.83 39.48 619 40.2 C620.17 40.92 619.53 43.91 620.7 44.6 C621.87 45.29 621.83 42.8 623.4 42.8 C624.97 42.8 625.16 44.84 626.6 44.6 C628.04 44.36 627.49 42.86 628.8 41.9 C630.11 40.94 630.09 41 631.5 41 C632.91 41 632.93 40.7 634.1 41.9 C635.27 43.1 634.7 44.06 635.9 45.5 C637.1 46.94 637.27 47.06 638.6 47.3 C639.93 47.54 639.73 46.88 640.9 46.4 C642.07 45.92 642.44 45.74 643 45.5" fill="none" stroke="#27663a" stroke-width="1.3" stroke-linejoin="round" stroke-linecap="round"/>
<path d="M108.2 286.3 C108.55 284.57 108.83 280.68 109.5 279.8 C110.17 278.92 109.95 282.79 110.7 283 C111.45 283.21 111.45 280.36 112.3 280.6 C113.15 280.84 113.02 280.83 113.9 283.9 C114.78 286.97 114.93 293.65 115.6 292.1 C116.27 290.55 115.84 282.47 116.4 278.1 C116.96 273.73 117.03 273.94 117.7 275.7 C118.37 277.46 118.15 283.61 118.9 284.7 C119.65 285.79 119.65 281.77 120.5 279.8 C121.35 277.83 121.09 278.63 122.1 277.3 C123.11 275.97 123.29 274.13 124.3 274.8 C125.31 275.47 124.94 278.04 125.9 279.8 C126.86 281.56 126.73 281.64 127.9 281.4 C129.07 281.16 128.99 278.23 130.3 278.9 C131.61 279.57 131.47 282.14 132.8 283.9 C134.13 285.66 133.99 285.95 135.3 285.5 C136.61 285.05 136.61 282.2 137.7 282.2 C138.79 282.2 138.52 281.13 139.4 285.5 C140.28 289.87 140.23 298.81 141 298.6 C141.77 298.39 141.42 287.98 142.3 284.7 C143.18 281.42 143.34 286.51 144.3 286.3 C145.26 286.09 144.81 284.33 145.9 283.9 C146.99 283.47 146.85 285.37 148.4 284.7 C149.95 284.03 150.18 281.85 151.7 281.4 C153.22 280.95 152.79 282.33 154.1 283 C155.41 283.67 155.51 284.54 156.6 283.9 C157.69 283.26 157.19 280.39 158.2 280.6 C159.21 280.81 159.39 283.18 160.4 284.7 C161.41 286.22 161.04 287.18 162 286.3 C162.96 285.42 163.04 282.92 164 281.4 C164.96 279.88 164.72 278.63 165.6 280.6 C166.48 282.57 166.42 287.49 167.3 288.8 C168.18 290.11 167.94 287.05 168.9 285.5 C169.86 283.95 170.02 283.88 170.9 283 C171.78 282.12 171.35 281.11 172.2 282.2 C173.05 283.29 173.01 286.01 174.1 287.1 C175.19 288.19 175.29 286.73 176.3 286.3 C177.31 285.87 176.89 284.62 177.9 285.5 C178.91 286.38 179.01 289.39 180.1 289.6 C181.19 289.81 180.96 287.82 182 286.3 C183.04 284.78 182.91 284.99 184 283.9 C185.09 282.81 184.87 281.77 186.1 282.2 C187.33 282.63 187.29 284.62 188.6 285.5 C189.91 286.38 189.69 285.71 191 285.5 C192.31 285.29 192.17 284.49 193.5 284.7 C194.83 284.91 194.69 286.51 196 286.3 C197.31 286.09 197.09 284.33 198.4 283.9 C199.71 283.47 199.59 284.27 200.9 284.7 C202.21 285.13 201.78 286.38 203.3 285.5 C204.82 284.62 205.05 281.61 206.6 281.4 C208.15 281.19 207.79 282.94 209.1 284.7 C210.41 286.46 210.86 287.12 211.5 288" fill="none" stroke="#27663a" stroke-width="1.3" stroke-linejoin="round" stroke-linecap="round"/>
<path d="M304.1 293.3 C304.66 290.66 305.21 286.01 306.2 283.4 C307.19 280.79 306.89 282.11 307.8 283.5 C308.71 284.89 308.48 284.89 309.6 288.6 C310.72 292.31 310.75 298.52 312 297.4 C313.25 296.28 313.31 287.49 314.3 284.4 C315.29 281.31 314.71 282.71 315.7 285.8 C316.69 288.89 316.91 295.25 318 296 C319.09 296.75 318.68 291.83 319.8 288.6 C320.92 285.37 321.08 284.54 322.2 283.9 C323.32 283.26 323.01 284.71 324 286.2 C324.99 287.69 324.78 289.74 325.9 289.5 C327.02 289.26 327.21 285.81 328.2 285.3 C329.19 284.79 328.61 284.37 329.6 287.6 C330.59 290.83 330.78 296.41 331.9 297.4 C333.02 298.39 332.81 294.66 333.8 291.3 C334.79 287.94 334.75 285.52 335.6 284.8 C336.45 284.08 336.25 285.37 337 288.6 C337.75 291.83 337.52 296.18 338.4 296.9 C339.28 297.62 339.31 294.02 340.3 291.3 C341.29 288.58 341.11 287.07 342.1 286.7 C343.09 286.33 342.77 288.54 344 289.9 C345.23 291.26 345.34 292.41 346.7 291.8 C348.06 291.19 348.09 288.21 349.1 287.6 C350.11 286.99 349.59 287.53 350.5 289.5 C351.41 291.47 351.41 295.24 352.5 295 C353.59 294.76 353.4 291.56 354.6 288.6 C355.8 285.64 355.88 285.02 357 283.9 C358.12 282.78 357.81 284.51 358.8 284.4 C359.79 284.29 359.71 283.74 360.7 283.5 C361.69 283.26 361.51 282.65 362.5 283.5 C363.49 284.35 363.41 284.99 364.4 286.7 C365.39 288.41 365.05 290.14 366.2 289.9 C367.35 289.66 367.53 287.4 368.7 285.8 C369.87 284.2 369.72 283.15 370.6 283.9 C371.48 284.65 371.28 286.36 372 288.6 C372.72 290.84 372.58 292.3 373.3 292.3 C374.02 292.3 373.82 290.71 374.7 288.6 C375.58 286.49 375.72 285.15 376.6 284.4 C377.48 283.65 377.15 285.93 378 285.8 C378.85 285.67 378.81 283.05 379.8 283.9 C380.79 284.75 380.69 288.76 381.7 289 C382.71 289.24 382.61 286.27 383.6 284.8 C384.59 283.33 384.41 281.77 385.4 283.5 C386.39 285.23 386.42 291.43 387.3 291.3 C388.18 291.17 387.98 285.08 388.7 283 C389.42 280.92 389.28 283.02 390 283.5 C390.72 283.98 390.65 284.08 391.4 284.8 C392.15 285.52 391.92 285.69 392.8 286.2 C393.68 286.71 393.82 285.34 394.7 286.7 C395.58 288.06 395.25 291.54 396.1 291.3 C396.95 291.06 396.91 286.89 397.9 285.8 C398.89 284.71 398.81 285.97 399.8 287.2 C400.79 288.43 400.75 289.17 401.6 290.4 C402.45 291.63 402.12 292.65 403 291.8 C403.88 290.95 404.02 288.56 404.9 287.2 C405.78 285.84 405.55 285.71 406.3 286.7 C407.05 287.69 406.85 291.14 407.7 290.9 C408.55 290.66 408.51 287.05 409.5 285.8 C410.49 284.55 410.41 286.71 411.4 286.2 C412.39 285.69 412.21 283.9 413.2 283.9 C414.19 283.9 414.09 285.45 415.1 286.2 C416.11 286.95 416.01 286.81 417 286.7 C417.99 286.59 417.81 285.19 418.8 285.8 C419.79 286.41 419.71 288.15 420.7 289 C421.69 289.85 421.51 289.24 422.5 289 C423.49 288.76 423.41 289.46 424.4 288.1 C425.39 286.74 425.35 286.38 426.2 283.9 C427.05 281.42 427.23 280.16 427.6 278.8" fill="none" stroke="#27663a" stroke-width="1.3" stroke-linejoin="round" stroke-linecap="round"/>
<path d="M498.2 291.7 C498.63 290.71 498.95 289.12 499.8 288 C500.65 286.88 500.68 286.78 501.4 287.5 C502.12 288.22 501.86 284.7 502.5 290.7 C503.14 296.7 503.08 309.15 503.8 310 C504.52 310.85 504.4 298.91 505.2 293.9 C506 288.89 505.95 292.21 506.8 291.2 C507.65 290.19 507.55 289.54 508.4 290.1 C509.25 290.66 509.15 293.14 510 293.3 C510.85 293.46 510.75 291.69 511.6 290.7 C512.45 289.71 512.21 290.32 513.2 289.6 C514.19 288.88 514.15 288.13 515.3 288 C516.45 287.87 516.49 289.39 517.5 289.1 C518.51 288.81 518.25 288.18 519.1 286.9 C519.95 285.62 519.85 285.15 520.7 284.3 C521.55 283.45 521.61 282.58 522.3 283.7 C522.99 284.82 522.74 285.78 523.3 288.5 C523.86 291.22 523.68 291.61 524.4 293.9 C525.12 296.19 524.99 297.69 526 297.1 C527.01 296.51 527.19 294.55 528.2 291.7 C529.21 288.85 528.95 287.09 529.8 286.4 C530.65 285.71 530.55 286.83 531.4 289.1 C532.25 291.37 532.15 291.91 533 294.9 C533.85 297.89 533.75 300.86 534.6 300.3 C535.45 299.74 535.35 296.08 536.2 292.8 C537.05 289.52 536.95 289.84 537.8 288 C538.65 286.16 538.55 286.62 539.4 285.9 C540.25 285.18 540.15 286.61 541 285.3 C541.85 283.99 541.75 279.99 542.6 281 C543.45 282.01 543.48 285.1 544.2 289.1 C544.92 293.1 544.58 294.29 545.3 296 C546.02 297.71 546.1 295.07 546.9 295.5 C547.7 295.93 547.61 298.03 548.3 297.6 C548.99 297.17 548.89 296.03 549.5 293.9 C550.11 291.77 549.96 288.75 550.6 289.6 C551.24 290.45 551.18 296.25 551.9 297.1 C552.62 297.95 552.5 293.23 553.3 292.8 C554.1 292.37 554.13 295.79 554.9 295.5 C555.67 295.21 555.48 293.27 556.2 291.7 C556.92 290.13 556.96 288.88 557.6 289.6 C558.24 290.32 557.91 292.53 558.6 294.4 C559.29 296.27 559.35 296.47 560.2 296.6 C561.05 296.73 560.95 294.77 561.8 294.9 C562.65 295.03 562.52 298.09 563.4 297.1 C564.28 296.11 564.19 292.27 565.1 291.2 C566.01 290.13 565.89 291.66 566.8 293.1 C567.71 294.54 567.57 296.6 568.5 296.6 C569.43 296.6 569.37 294.35 570.3 293.1 C571.23 291.85 571.23 293.47 572 291.9 C572.77 290.33 572.56 287.36 573.2 287.2 C573.84 287.04 573.63 289.73 574.4 291.3 C575.17 292.87 575.17 293.55 576.1 293.1 C577.03 292.65 576.81 291.33 577.9 289.6 C578.99 287.87 578.97 286.92 580.2 286.6 C581.43 286.28 581.41 288.08 582.5 288.4 C583.59 288.72 583.34 288.12 584.3 287.8 C585.26 287.48 585.17 285.63 586.1 287.2 C587.03 288.77 586.87 293.06 587.8 293.7 C588.73 294.34 588.67 290.08 589.6 289.6 C590.53 289.12 590.53 292.06 591.3 291.9 C592.07 291.74 591.86 290.55 592.5 289 C593.14 287.45 592.93 286.1 593.7 286.1 C594.47 286.1 594.47 289.32 595.4 289 C596.33 288.68 596.27 286.15 597.2 284.9 C598.13 283.65 597.97 283.69 598.9 284.3 C599.83 284.91 599.77 285.33 600.7 287.2 C601.63 289.07 601.47 289.89 602.4 291.3 C603.33 292.71 603.27 291.86 604.2 292.5 C605.13 293.14 604.97 293.54 605.9 293.7 C606.83 293.86 606.9 292.49 607.7 293.1 C608.5 293.71 608.13 296.16 608.9 296 C609.67 295.84 609.67 292.98 610.6 292.5 C611.53 292.02 611.63 293.11 612.4 294.2 C613.17 295.29 612.73 296.6 613.5 296.6 C614.27 296.6 614.5 295.29 615.3 294.2 C616.1 293.11 615.73 291.86 616.5 292.5 C617.27 293.14 617.27 294.73 618.2 296.6 C619.13 298.47 619.07 299.82 620 299.5 C620.93 299.18 620.61 297.59 621.7 295.4 C622.79 293.21 622.85 293.01 624.1 291.3 C625.35 289.59 625.07 290.25 626.4 289 C627.73 287.75 627.85 286.31 629.1 286.6 C630.35 286.89 630.11 288.07 631.1 290.1 C632.09 292.13 631.87 291.53 632.8 294.2 C633.73 296.87 633.8 299.62 634.6 300.1 C635.4 300.58 635.08 296.93 635.8 296 C636.52 295.07 636.58 298.31 637.3 296.6 C638.02 294.89 637.81 289.15 638.5 289.6 C639.19 290.05 639.23 295.82 639.9 298.3 C640.57 300.78 640.39 297.49 641 298.9 C641.61 300.31 641.56 303.92 642.2 303.6 C642.84 303.28 642.79 299.57 643.4 297.7 C644.01 295.83 644.21 296.89 644.5 296.6" fill="none" stroke="#27663a" stroke-width="1.3" stroke-linejoin="round" stroke-linecap="round"/>
<text x="142" y="488.3" text-anchor="middle" font-size="12" fill="#000" >baleen length (cm)</text>
<text x="360.2" y="488.3" text-anchor="middle" font-size="12" fill="#000" >baleen length (cm)</text>
<text x="578.5" y="488.3" text-anchor="middle" font-size="12" fill="#000" >baleen length (cm)</text>
<text x="687.8" y="153.5" text-anchor="middle" font-size="12" transform="rotate(90 687.8 153.5)"><tspan fill="#dc3b4a">corticosterone</tspan> (ng g<tspan font-size="8" dy="-4.5">−1</tspan><tspan dy="4.5">)</tspan></text>
<text x="673.2" y="155" text-anchor="middle" font-size="12" transform="rotate(90 673.2 155)"><tspan fill="#5a93e0">oestradiol</tspan> (ng g<tspan font-size="8" dy="-4.5">−1</tspan><tspan dy="4.5">)</tspan></text>
<text x="687.8" y="393.5" text-anchor="middle" font-size="12" transform="rotate(90 687.8 393.5)"><tspan fill="#dc3b4a">corticosterone</tspan> (ng g<tspan font-size="8" dy="-4.5">−1</tspan><tspan dy="4.5">)</tspan></text>
<text x="673.2" y="393.5" text-anchor="middle" font-size="12" transform="rotate(90 673.2 393.5)"><tspan fill="#5a93e0">oestradiol</tspan> (ng g<tspan font-size="8" dy="-4.5">−1</tspan><tspan dy="4.5">)</tspan></text>
</svg>
</body></html>
